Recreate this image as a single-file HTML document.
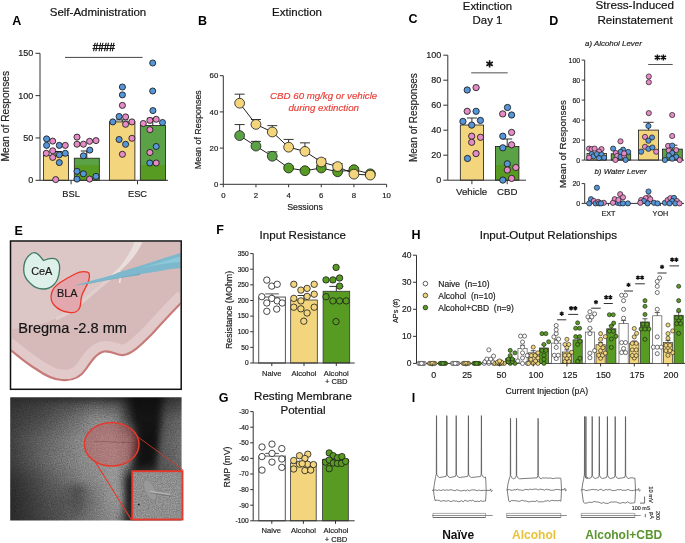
<!DOCTYPE html>
<html><head><meta charset="utf-8"><title>Figure</title>
<style>
html,body{margin:0;padding:0;background:#fff;width:685px;height:543px;overflow:hidden}
svg{display:block;font-family:"Liberation Sans", sans-serif;will-change:transform}
</style></head><body>
<svg width="685" height="543" viewBox="0 0 685 543">
<rect width="685" height="543" fill="#fff"/>
<defs><linearGradient id="gsplit" gradientUnits="userSpaceOnUse" x1="0" y1="0" x2="0" y2="543"><stop offset="0" stop-color="#5BA247"/><stop offset="0.3030" stop-color="#5BA247"/><stop offset="0.3030" stop-color="#589B22"/><stop offset="1" stop-color="#589B22"/></linearGradient></defs>
<text x="12.3" y="25" font-size="12.5" text-anchor="start" font-weight="bold" font-style="normal" fill="#000">A</text>
<text x="98" y="16" font-size="11.5" text-anchor="middle" font-weight="normal" font-style="normal" fill="#111" stroke="#111" stroke-width="0.18">Self-Administration</text>
<rect x="43.5" y="155.3" width="25" height="25.0" fill="#F2D57D" stroke="#1a1a1a" stroke-width="0.8"/>
<rect x="74.3" y="158.2" width="25" height="22.100000000000023" fill="url(#gsplit)" stroke="#1a1a1a" stroke-width="0.8"/>
<rect x="109.5" y="121.9" width="25.4" height="58.400000000000006" fill="#F2D57D" stroke="#1a1a1a" stroke-width="0.8"/>
<rect x="140.3" y="125.5" width="25.1" height="54.80000000000001" fill="url(#gsplit)" stroke="#1a1a1a" stroke-width="0.8"/>
<line x1="55.9" y1="155.3" x2="55.9" y2="151.5" stroke="#222" stroke-width="1"/>
<line x1="49.9" y1="151.5" x2="61.9" y2="151.5" stroke="#222" stroke-width="1"/>
<line x1="86.8" y1="158.2" x2="86.8" y2="151.0" stroke="#222" stroke-width="1"/>
<line x1="80.8" y1="151.0" x2="92.8" y2="151.0" stroke="#222" stroke-width="1"/>
<line x1="122.2" y1="121.9" x2="122.2" y2="119.9" stroke="#222" stroke-width="1"/>
<line x1="116.2" y1="119.9" x2="128.2" y2="119.9" stroke="#222" stroke-width="1"/>
<line x1="152.8" y1="125.5" x2="152.8" y2="118.3" stroke="#222" stroke-width="1"/>
<line x1="146.8" y1="118.3" x2="158.8" y2="118.3" stroke="#222" stroke-width="1"/>
<line x1="40" y1="53.3" x2="40" y2="180.3" stroke="#333" stroke-width="1"/>
<line x1="35.5" y1="53.3" x2="40" y2="53.3" stroke="#333" stroke-width="1"/>
<text x="33.3" y="56.449999999999996" font-size="9.0" text-anchor="end" font-weight="normal" font-style="normal" fill="#222" stroke="#222" stroke-width="0.18">150</text>
<line x1="35.5" y1="95.63333333333333" x2="40" y2="95.63333333333333" stroke="#333" stroke-width="1"/>
<text x="33.3" y="98.78333333333333" font-size="9.0" text-anchor="end" font-weight="normal" font-style="normal" fill="#222" stroke="#222" stroke-width="0.18">100</text>
<line x1="35.5" y1="137.96666666666667" x2="40" y2="137.96666666666667" stroke="#333" stroke-width="1"/>
<text x="33.3" y="141.11666666666667" font-size="9.0" text-anchor="end" font-weight="normal" font-style="normal" fill="#222" stroke="#222" stroke-width="0.18">50</text>
<line x1="35.5" y1="180.3" x2="40" y2="180.3" stroke="#333" stroke-width="1"/>
<text x="33.3" y="183.45000000000002" font-size="9.0" text-anchor="end" font-weight="normal" font-style="normal" fill="#222" stroke="#222" stroke-width="0.18">0</text>
<line x1="40" y1="180.3" x2="168" y2="180.3" stroke="#333" stroke-width="1"/>
<line x1="71.1" y1="180.3" x2="71.1" y2="184.3" stroke="#333" stroke-width="1"/>
<line x1="137.5" y1="180.3" x2="137.5" y2="184.3" stroke="#333" stroke-width="1"/>
<text x="71.1" y="196.5" font-size="9.3" text-anchor="middle" font-weight="normal" font-style="normal" fill="#222" stroke="#222" stroke-width="0.18">BSL</text>
<text x="137.5" y="196.5" font-size="9.3" text-anchor="middle" font-weight="normal" font-style="normal" fill="#222" stroke="#222" stroke-width="0.18">ESC</text>
<text x="9.3" y="116.2" font-size="10.2" text-anchor="middle" font-weight="normal" font-style="normal" fill="#222" stroke="#222" stroke-width="0.18" transform="rotate(-90 9.3 116.2)">Mean of Responses</text>
<line x1="65" y1="57.4" x2="142.6" y2="57.4" stroke="#444" stroke-width="1"/>
<text x="103.8" y="51.3" font-size="10" text-anchor="middle" font-weight="normal" font-style="normal" fill="#111" stroke="#111" stroke-width="0.18" style="stroke-width:0.45px">####</text>
<circle cx="46.6" cy="138.9" r="3.05" fill="#5595D8" stroke="#1a1a1a" stroke-width="0.85"/>
<circle cx="52.7" cy="141.1" r="3.05" fill="#E68BC6" stroke="#1a1a1a" stroke-width="0.85"/>
<circle cx="46.6" cy="145.4" r="3.05" fill="#5595D8" stroke="#1a1a1a" stroke-width="0.85"/>
<circle cx="59.3" cy="145.4" r="3.05" fill="#5595D8" stroke="#1a1a1a" stroke-width="0.85"/>
<circle cx="65.3" cy="145.4" r="3.05" fill="#E68BC6" stroke="#1a1a1a" stroke-width="0.85"/>
<circle cx="46.3" cy="153.3" r="3.05" fill="#E68BC6" stroke="#1a1a1a" stroke-width="0.85"/>
<circle cx="52.7" cy="150.8" r="3.05" fill="#E68BC6" stroke="#1a1a1a" stroke-width="0.85"/>
<circle cx="59.3" cy="154.8" r="3.05" fill="#5595D8" stroke="#1a1a1a" stroke-width="0.85"/>
<circle cx="65.3" cy="153.3" r="3.05" fill="#5595D8" stroke="#1a1a1a" stroke-width="0.85"/>
<circle cx="52.7" cy="157.4" r="3.05" fill="#E68BC6" stroke="#1a1a1a" stroke-width="0.85"/>
<circle cx="59.3" cy="162.6" r="3.05" fill="#5595D8" stroke="#1a1a1a" stroke-width="0.85"/>
<circle cx="55.7" cy="179.6" r="3.05" fill="#E68BC6" stroke="#1a1a1a" stroke-width="0.85"/>
<circle cx="77" cy="137.1" r="3.05" fill="#E68BC6" stroke="#1a1a1a" stroke-width="0.85"/>
<circle cx="77" cy="144.2" r="3.05" fill="#E68BC6" stroke="#1a1a1a" stroke-width="0.85"/>
<circle cx="83.4" cy="144.2" r="3.05" fill="#E68BC6" stroke="#1a1a1a" stroke-width="0.85"/>
<circle cx="89.6" cy="141.3" r="3.05" fill="#E68BC6" stroke="#1a1a1a" stroke-width="0.85"/>
<circle cx="96" cy="140.6" r="3.05" fill="#E68BC6" stroke="#1a1a1a" stroke-width="0.85"/>
<circle cx="89.8" cy="150.1" r="3.05" fill="#5595D8" stroke="#1a1a1a" stroke-width="0.85"/>
<circle cx="83.4" cy="155.8" r="3.05" fill="#5595D8" stroke="#1a1a1a" stroke-width="0.85"/>
<circle cx="77" cy="171.3" r="3.05" fill="#5595D8" stroke="#1a1a1a" stroke-width="0.85"/>
<circle cx="83.4" cy="173.8" r="3.05" fill="#5595D8" stroke="#1a1a1a" stroke-width="0.85"/>
<circle cx="77" cy="179.1" r="3.05" fill="#5595D8" stroke="#1a1a1a" stroke-width="0.85"/>
<circle cx="89.6" cy="179.1" r="3.05" fill="#E68BC6" stroke="#1a1a1a" stroke-width="0.85"/>
<circle cx="96" cy="176.4" r="3.05" fill="#5595D8" stroke="#1a1a1a" stroke-width="0.85"/>
<circle cx="122.4" cy="87" r="3.05" fill="#5595D8" stroke="#1a1a1a" stroke-width="0.85"/>
<circle cx="122.4" cy="94.9" r="3.05" fill="#5595D8" stroke="#1a1a1a" stroke-width="0.85"/>
<circle cx="122.4" cy="105.4" r="3.05" fill="#E68BC6" stroke="#1a1a1a" stroke-width="0.85"/>
<circle cx="119.1" cy="116.5" r="3.05" fill="#5595D8" stroke="#1a1a1a" stroke-width="0.85"/>
<circle cx="125.6" cy="116.9" r="3.05" fill="#E68BC6" stroke="#1a1a1a" stroke-width="0.85"/>
<circle cx="112.8" cy="121.9" r="3.05" fill="#5595D8" stroke="#1a1a1a" stroke-width="0.85"/>
<circle cx="125.6" cy="124.3" r="3.05" fill="#E68BC6" stroke="#1a1a1a" stroke-width="0.85"/>
<circle cx="131.9" cy="121.9" r="3.05" fill="#E68BC6" stroke="#1a1a1a" stroke-width="0.85"/>
<circle cx="119.1" cy="139.5" r="3.05" fill="#5595D8" stroke="#1a1a1a" stroke-width="0.85"/>
<circle cx="131.9" cy="138.3" r="3.05" fill="#E68BC6" stroke="#1a1a1a" stroke-width="0.85"/>
<circle cx="125.6" cy="144.3" r="3.05" fill="#5595D8" stroke="#1a1a1a" stroke-width="0.85"/>
<circle cx="122.4" cy="154.3" r="3.05" fill="#E68BC6" stroke="#1a1a1a" stroke-width="0.85"/>
<circle cx="152.7" cy="63" r="3.05" fill="#5595D8" stroke="#1a1a1a" stroke-width="0.85"/>
<circle cx="152.7" cy="91" r="3.05" fill="#5595D8" stroke="#1a1a1a" stroke-width="0.85"/>
<circle cx="152.9" cy="110.6" r="3.05" fill="#5595D8" stroke="#1a1a1a" stroke-width="0.85"/>
<circle cx="149.9" cy="120.4" r="3.05" fill="#E68BC6" stroke="#1a1a1a" stroke-width="0.85"/>
<circle cx="156.2" cy="119.3" r="3.05" fill="#E68BC6" stroke="#1a1a1a" stroke-width="0.85"/>
<circle cx="143.3" cy="123.5" r="3.05" fill="#E68BC6" stroke="#1a1a1a" stroke-width="0.85"/>
<circle cx="162.5" cy="122.5" r="3.05" fill="#5595D8" stroke="#1a1a1a" stroke-width="0.85"/>
<circle cx="149.9" cy="129.7" r="3.05" fill="#E68BC6" stroke="#1a1a1a" stroke-width="0.85"/>
<circle cx="156.2" cy="146.5" r="3.05" fill="#5595D8" stroke="#1a1a1a" stroke-width="0.85"/>
<circle cx="149.9" cy="152.5" r="3.05" fill="#E68BC6" stroke="#1a1a1a" stroke-width="0.85"/>
<circle cx="149.8" cy="163" r="3.05" fill="#5595D8" stroke="#1a1a1a" stroke-width="0.85"/>
<circle cx="156.2" cy="163" r="3.05" fill="#E68BC6" stroke="#1a1a1a" stroke-width="0.85"/>
<text x="198.1" y="25" font-size="12.5" text-anchor="start" font-weight="bold" font-style="normal" fill="#000">B</text>
<text x="297" y="16" font-size="11.5" text-anchor="middle" font-weight="normal" font-style="normal" fill="#111" stroke="#111" stroke-width="0.18">Extinction</text>
<line x1="223.3" y1="75.7" x2="223.3" y2="184.3" stroke="#333" stroke-width="1"/>
<line x1="219.8" y1="75.7" x2="223.3" y2="75.7" stroke="#333" stroke-width="1"/>
<text x="218.3" y="78.43" font-size="7.8" text-anchor="end" font-weight="normal" font-style="normal" fill="#222" stroke="#222" stroke-width="0.18">60</text>
<line x1="219.8" y1="111.9" x2="223.3" y2="111.9" stroke="#333" stroke-width="1"/>
<text x="218.3" y="114.63000000000001" font-size="7.8" text-anchor="end" font-weight="normal" font-style="normal" fill="#222" stroke="#222" stroke-width="0.18">40</text>
<line x1="219.8" y1="148.10000000000002" x2="223.3" y2="148.10000000000002" stroke="#333" stroke-width="1"/>
<text x="218.3" y="150.83" font-size="7.8" text-anchor="end" font-weight="normal" font-style="normal" fill="#222" stroke="#222" stroke-width="0.18">20</text>
<line x1="219.8" y1="184.3" x2="223.3" y2="184.3" stroke="#333" stroke-width="1"/>
<text x="218.3" y="187.03" font-size="7.8" text-anchor="end" font-weight="normal" font-style="normal" fill="#222" stroke="#222" stroke-width="0.18">0</text>
<line x1="223.3" y1="184.3" x2="386.6" y2="184.3" stroke="#333" stroke-width="1"/>
<line x1="223.3" y1="184.3" x2="223.3" y2="187.3" stroke="#333" stroke-width="1"/>
<text x="223.3" y="197.6" font-size="7.8" text-anchor="middle" font-weight="normal" font-style="normal" fill="#222" stroke="#222" stroke-width="0.18">0</text>
<line x1="255.96" y1="184.3" x2="255.96" y2="187.3" stroke="#333" stroke-width="1"/>
<text x="255.96" y="197.6" font-size="7.8" text-anchor="middle" font-weight="normal" font-style="normal" fill="#222" stroke="#222" stroke-width="0.18">2</text>
<line x1="288.62" y1="184.3" x2="288.62" y2="187.3" stroke="#333" stroke-width="1"/>
<text x="288.62" y="197.6" font-size="7.8" text-anchor="middle" font-weight="normal" font-style="normal" fill="#222" stroke="#222" stroke-width="0.18">4</text>
<line x1="321.28" y1="184.3" x2="321.28" y2="187.3" stroke="#333" stroke-width="1"/>
<text x="321.28" y="197.6" font-size="7.8" text-anchor="middle" font-weight="normal" font-style="normal" fill="#222" stroke="#222" stroke-width="0.18">6</text>
<line x1="353.94" y1="184.3" x2="353.94" y2="187.3" stroke="#333" stroke-width="1"/>
<text x="353.94" y="197.6" font-size="7.8" text-anchor="middle" font-weight="normal" font-style="normal" fill="#222" stroke="#222" stroke-width="0.18">8</text>
<line x1="386.6" y1="184.3" x2="386.6" y2="187.3" stroke="#333" stroke-width="1"/>
<text x="386.6" y="197.6" font-size="7.8" text-anchor="middle" font-weight="normal" font-style="normal" fill="#222" stroke="#222" stroke-width="0.18">10</text>
<text x="305" y="210.4" font-size="8.8" text-anchor="middle" font-weight="normal" font-style="normal" fill="#222" stroke="#222" stroke-width="0.18">Sessions</text>
<text x="201.2" y="129.7" font-size="8.9" text-anchor="middle" font-weight="normal" font-style="normal" fill="#222" stroke="#222" stroke-width="0.18" transform="rotate(-90 201.2 129.7)">Mean of Responses</text>
<text x="323.7" y="99.4" font-size="9.7" text-anchor="middle" font-weight="normal" font-style="italic" fill="#E8413A" stroke="#E8413A" stroke-width="0.18">CBD 60 mg/kg or vehicle</text>
<text x="323.7" y="110.6" font-size="9.7" text-anchor="middle" font-weight="normal" font-style="italic" fill="#E8413A" stroke="#E8413A" stroke-width="0.18">during extinction</text>
<line x1="239.63" y1="135.61100000000002" x2="239.63" y2="124.57000000000001" stroke="#333" stroke-width="1"/>
<line x1="234.63" y1="124.57000000000001" x2="244.63" y2="124.57000000000001" stroke="#333" stroke-width="1"/>
<line x1="255.96" y1="146.109" x2="255.96" y2="141.40300000000002" stroke="#333" stroke-width="1"/>
<line x1="250.96" y1="141.40300000000002" x2="260.96000000000004" y2="141.40300000000002" stroke="#333" stroke-width="1"/>
<line x1="272.29" y1="156.245" x2="272.29" y2="151.901" stroke="#333" stroke-width="1"/>
<line x1="267.29" y1="151.901" x2="277.29" y2="151.901" stroke="#333" stroke-width="1"/>
<line x1="288.62" y1="168.01000000000002" x2="288.62" y2="166.20000000000002" stroke="#333" stroke-width="1"/>
<line x1="283.62" y1="166.20000000000002" x2="293.62" y2="166.20000000000002" stroke="#333" stroke-width="1"/>
<line x1="304.95" y1="170.72500000000002" x2="304.95" y2="168.91500000000002" stroke="#333" stroke-width="1"/>
<line x1="299.95" y1="168.91500000000002" x2="309.95" y2="168.91500000000002" stroke="#333" stroke-width="1"/>
<line x1="321.28" y1="168.01000000000002" x2="321.28" y2="165.29500000000002" stroke="#333" stroke-width="1"/>
<line x1="316.28" y1="165.29500000000002" x2="326.28" y2="165.29500000000002" stroke="#333" stroke-width="1"/>
<line x1="337.61" y1="171.811" x2="337.61" y2="169.82000000000002" stroke="#333" stroke-width="1"/>
<line x1="332.61" y1="169.82000000000002" x2="342.61" y2="169.82000000000002" stroke="#333" stroke-width="1"/>
<line x1="353.94" y1="169.639" x2="353.94" y2="168.01000000000002" stroke="#333" stroke-width="1"/>
<line x1="348.94" y1="168.01000000000002" x2="358.94" y2="168.01000000000002" stroke="#333" stroke-width="1"/>
<line x1="370.27" y1="173.80200000000002" x2="370.27" y2="172.53500000000003" stroke="#333" stroke-width="1"/>
<line x1="365.27" y1="172.53500000000003" x2="375.27" y2="172.53500000000003" stroke="#333" stroke-width="1"/>
<line x1="239.63" y1="103.21200000000002" x2="239.63" y2="94.16200000000002" stroke="#333" stroke-width="1"/>
<line x1="234.63" y1="94.16200000000002" x2="244.63" y2="94.16200000000002" stroke="#333" stroke-width="1"/>
<line x1="255.96" y1="124.38900000000001" x2="255.96" y2="119.50200000000001" stroke="#333" stroke-width="1"/>
<line x1="250.96" y1="119.50200000000001" x2="260.96000000000004" y2="119.50200000000001" stroke="#333" stroke-width="1"/>
<line x1="272.29" y1="131.991" x2="272.29" y2="125.656" stroke="#333" stroke-width="1"/>
<line x1="267.29" y1="125.656" x2="277.29" y2="125.656" stroke="#333" stroke-width="1"/>
<line x1="288.62" y1="147.195" x2="288.62" y2="139.412" stroke="#333" stroke-width="1"/>
<line x1="283.62" y1="139.412" x2="293.62" y2="139.412" stroke="#333" stroke-width="1"/>
<line x1="304.95" y1="151.358" x2="304.95" y2="142.851" stroke="#333" stroke-width="1"/>
<line x1="299.95" y1="142.851" x2="309.95" y2="142.851" stroke="#333" stroke-width="1"/>
<line x1="321.28" y1="162.037" x2="321.28" y2="158.96" stroke="#333" stroke-width="1"/>
<line x1="316.28" y1="158.96" x2="326.28" y2="158.96" stroke="#333" stroke-width="1"/>
<line x1="337.61" y1="166.562" x2="337.61" y2="163.485" stroke="#333" stroke-width="1"/>
<line x1="332.61" y1="163.485" x2="342.61" y2="163.485" stroke="#333" stroke-width="1"/>
<line x1="353.94" y1="174.16400000000002" x2="353.94" y2="171.63000000000002" stroke="#333" stroke-width="1"/>
<line x1="348.94" y1="171.63000000000002" x2="358.94" y2="171.63000000000002" stroke="#333" stroke-width="1"/>
<line x1="370.27" y1="175.06900000000002" x2="370.27" y2="173.44" stroke="#333" stroke-width="1"/>
<line x1="365.27" y1="173.44" x2="375.27" y2="173.44" stroke="#333" stroke-width="1"/>
<polyline points="239.63,135.61 255.96,146.11 272.29,156.25 288.62,168.01 304.95,170.73 321.28,168.01 337.61,171.81 353.94,169.64 370.27,173.80" fill="none" stroke="#222" stroke-width="1"/>
<polyline points="239.63,103.21 255.96,124.39 272.29,131.99 288.62,147.19 304.95,151.36 321.28,162.04 337.61,166.56 353.94,174.16 370.27,175.07" fill="none" stroke="#222" stroke-width="1"/>
<circle cx="239.63" cy="135.61100000000002" r="4.9" fill="url(#gsplit)" stroke="#1a1a1a" stroke-width="0.8"/>
<circle cx="255.96" cy="146.109" r="4.9" fill="url(#gsplit)" stroke="#1a1a1a" stroke-width="0.8"/>
<circle cx="272.29" cy="156.245" r="4.9" fill="url(#gsplit)" stroke="#1a1a1a" stroke-width="0.8"/>
<circle cx="288.62" cy="168.01000000000002" r="4.9" fill="url(#gsplit)" stroke="#1a1a1a" stroke-width="0.8"/>
<circle cx="304.95" cy="170.72500000000002" r="4.9" fill="url(#gsplit)" stroke="#1a1a1a" stroke-width="0.8"/>
<circle cx="321.28" cy="168.01000000000002" r="4.9" fill="url(#gsplit)" stroke="#1a1a1a" stroke-width="0.8"/>
<circle cx="337.61" cy="171.811" r="4.9" fill="url(#gsplit)" stroke="#1a1a1a" stroke-width="0.8"/>
<circle cx="353.94" cy="169.639" r="4.9" fill="url(#gsplit)" stroke="#1a1a1a" stroke-width="0.8"/>
<circle cx="370.27" cy="173.80200000000002" r="4.9" fill="url(#gsplit)" stroke="#1a1a1a" stroke-width="0.8"/>
<circle cx="239.63" cy="103.21200000000002" r="4.9" fill="#F2D57D" stroke="#1a1a1a" stroke-width="0.8"/>
<circle cx="255.96" cy="124.38900000000001" r="4.9" fill="#F2D57D" stroke="#1a1a1a" stroke-width="0.8"/>
<circle cx="272.29" cy="131.991" r="4.9" fill="#F2D57D" stroke="#1a1a1a" stroke-width="0.8"/>
<circle cx="288.62" cy="147.195" r="4.9" fill="#F2D57D" stroke="#1a1a1a" stroke-width="0.8"/>
<circle cx="304.95" cy="151.358" r="4.9" fill="#F2D57D" stroke="#1a1a1a" stroke-width="0.8"/>
<circle cx="321.28" cy="162.037" r="4.9" fill="#F2D57D" stroke="#1a1a1a" stroke-width="0.8"/>
<circle cx="337.61" cy="166.562" r="4.9" fill="#F2D57D" stroke="#1a1a1a" stroke-width="0.8"/>
<circle cx="353.94" cy="174.16400000000002" r="4.9" fill="#F2D57D" stroke="#1a1a1a" stroke-width="0.8"/>
<circle cx="370.27" cy="175.06900000000002" r="4.9" fill="#F2D57D" stroke="#1a1a1a" stroke-width="0.8"/>
<text x="408.5" y="23.4" font-size="12.5" text-anchor="start" font-weight="bold" font-style="normal" fill="#000">C</text>
<text x="487.5" y="9.9" font-size="11.4" text-anchor="middle" font-weight="normal" font-style="normal" fill="#111" stroke="#111" stroke-width="0.18">Extinction</text>
<text x="487.5" y="23.6" font-size="11.4" text-anchor="middle" font-weight="normal" font-style="normal" fill="#111" stroke="#111" stroke-width="0.18">Day 1</text>
<rect x="460.3" y="125" width="23.3" height="55.19999999999999" fill="#F2D57D" stroke="#1a1a1a" stroke-width="0.8"/>
<rect x="495.4" y="146.4" width="23.5" height="33.79999999999998" fill="url(#gsplit)" stroke="#1a1a1a" stroke-width="0.8"/>
<line x1="471.9" y1="125" x2="471.9" y2="118" stroke="#333" stroke-width="1"/>
<line x1="466.9" y1="118" x2="476.9" y2="118" stroke="#333" stroke-width="1"/>
<line x1="507.2" y1="146.4" x2="507.2" y2="139" stroke="#333" stroke-width="1"/>
<line x1="502.2" y1="139" x2="512.2" y2="139" stroke="#333" stroke-width="1"/>
<line x1="447.8" y1="55.2" x2="447.8" y2="180.2" stroke="#333" stroke-width="1"/>
<line x1="443.3" y1="55.20000000000002" x2="447.8" y2="55.20000000000002" stroke="#333" stroke-width="1"/>
<text x="441.3" y="58.350000000000016" font-size="9.0" text-anchor="end" font-weight="normal" font-style="normal" fill="#222" stroke="#222" stroke-width="0.18">100</text>
<line x1="443.3" y1="80.2" x2="447.8" y2="80.2" stroke="#333" stroke-width="1"/>
<text x="441.3" y="83.35000000000001" font-size="9.0" text-anchor="end" font-weight="normal" font-style="normal" fill="#222" stroke="#222" stroke-width="0.18">80</text>
<line x1="443.3" y1="105.2" x2="447.8" y2="105.2" stroke="#333" stroke-width="1"/>
<text x="441.3" y="108.35000000000001" font-size="9.0" text-anchor="end" font-weight="normal" font-style="normal" fill="#222" stroke="#222" stroke-width="0.18">60</text>
<line x1="443.3" y1="130.2" x2="447.8" y2="130.2" stroke="#333" stroke-width="1"/>
<text x="441.3" y="133.35" font-size="9.0" text-anchor="end" font-weight="normal" font-style="normal" fill="#222" stroke="#222" stroke-width="0.18">40</text>
<line x1="443.3" y1="155.2" x2="447.8" y2="155.2" stroke="#333" stroke-width="1"/>
<text x="441.3" y="158.35" font-size="9.0" text-anchor="end" font-weight="normal" font-style="normal" fill="#222" stroke="#222" stroke-width="0.18">20</text>
<line x1="443.3" y1="180.2" x2="447.8" y2="180.2" stroke="#333" stroke-width="1"/>
<text x="441.3" y="183.35" font-size="9.0" text-anchor="end" font-weight="normal" font-style="normal" fill="#222" stroke="#222" stroke-width="0.18">0</text>
<line x1="447.8" y1="180.2" x2="526" y2="180.2" stroke="#333" stroke-width="1"/>
<line x1="471.9" y1="180.2" x2="471.9" y2="184.2" stroke="#333" stroke-width="1"/>
<line x1="507.2" y1="180.2" x2="507.2" y2="184.2" stroke="#333" stroke-width="1"/>
<text x="471.6" y="194.8" font-size="9.7" text-anchor="middle" font-weight="normal" font-style="normal" fill="#222" stroke="#222" stroke-width="0.18">Vehicle</text>
<text x="507.2" y="194.8" font-size="9.7" text-anchor="middle" font-weight="normal" font-style="normal" fill="#222" stroke="#222" stroke-width="0.18">CBD</text>
<text x="417.4" y="117.6" font-size="10.0" text-anchor="middle" font-weight="normal" font-style="normal" fill="#222" stroke="#222" stroke-width="0.18" transform="rotate(-90 417.4 117.6)">Mean of Responses</text>
<line x1="471.2" y1="72.8" x2="507.7" y2="72.8" stroke="#8a8a8a" stroke-width="1.6"/>
<path d="M489.60,67.60L489.60,60.20M486.40,65.75L492.80,62.05M486.40,62.05L492.80,65.75" stroke="#111" stroke-width="1.6" stroke-linecap="butt" fill="none"/>
<circle cx="467.2" cy="90" r="3.15" fill="#5595D8" stroke="#1a1a1a" stroke-width="0.85"/>
<circle cx="476.1" cy="87.6" r="3.15" fill="#E68BC6" stroke="#1a1a1a" stroke-width="0.85"/>
<circle cx="467.2" cy="111.3" r="3.15" fill="#E68BC6" stroke="#1a1a1a" stroke-width="0.85"/>
<circle cx="476.1" cy="111.3" r="3.15" fill="#5595D8" stroke="#1a1a1a" stroke-width="0.85"/>
<circle cx="462.9" cy="121.4" r="3.15" fill="#5595D8" stroke="#1a1a1a" stroke-width="0.85"/>
<circle cx="480.4" cy="120.4" r="3.15" fill="#5595D8" stroke="#1a1a1a" stroke-width="0.85"/>
<circle cx="471.7" cy="125.1" r="3.15" fill="#5595D8" stroke="#1a1a1a" stroke-width="0.85"/>
<circle cx="471.7" cy="136.2" r="3.15" fill="#E68BC6" stroke="#1a1a1a" stroke-width="0.85"/>
<circle cx="480.5" cy="137.3" r="3.15" fill="#E68BC6" stroke="#1a1a1a" stroke-width="0.85"/>
<circle cx="471.7" cy="142.3" r="3.15" fill="#E68BC6" stroke="#1a1a1a" stroke-width="0.85"/>
<circle cx="476" cy="153.6" r="3.15" fill="#E68BC6" stroke="#1a1a1a" stroke-width="0.85"/>
<circle cx="467.5" cy="158.5" r="3.15" fill="#5595D8" stroke="#1a1a1a" stroke-width="0.85"/>
<circle cx="507.5" cy="107.5" r="3.15" fill="#5595D8" stroke="#1a1a1a" stroke-width="0.85"/>
<circle cx="502.7" cy="113.9" r="3.15" fill="#E68BC6" stroke="#1a1a1a" stroke-width="0.85"/>
<circle cx="511.6" cy="115" r="3.15" fill="#5595D8" stroke="#1a1a1a" stroke-width="0.85"/>
<circle cx="502.8" cy="136.2" r="3.15" fill="#5595D8" stroke="#1a1a1a" stroke-width="0.85"/>
<circle cx="511.6" cy="132.4" r="3.15" fill="#E68BC6" stroke="#1a1a1a" stroke-width="0.85"/>
<circle cx="502.8" cy="147.8" r="3.15" fill="#5595D8" stroke="#1a1a1a" stroke-width="0.85"/>
<circle cx="511.6" cy="144.8" r="3.15" fill="#E68BC6" stroke="#1a1a1a" stroke-width="0.85"/>
<circle cx="507.3" cy="163.8" r="3.15" fill="#5595D8" stroke="#1a1a1a" stroke-width="0.85"/>
<circle cx="507.3" cy="170" r="3.15" fill="#E68BC6" stroke="#1a1a1a" stroke-width="0.85"/>
<circle cx="515.8" cy="167.5" r="3.15" fill="#E68BC6" stroke="#1a1a1a" stroke-width="0.85"/>
<circle cx="502.8" cy="180.1" r="3.15" fill="#5595D8" stroke="#1a1a1a" stroke-width="0.85"/>
<circle cx="511.6" cy="178.4" r="3.15" fill="#E68BC6" stroke="#1a1a1a" stroke-width="0.85"/>
<text x="549.2" y="24.5" font-size="12.5" text-anchor="start" font-weight="bold" font-style="normal" fill="#000">D</text>
<text x="634.8" y="9.2" font-size="11.7" text-anchor="middle" font-weight="normal" font-style="normal" fill="#111" stroke="#111" stroke-width="0.18">Stress-Induced</text>
<text x="635.1" y="23.6" font-size="11.7" text-anchor="middle" font-weight="normal" font-style="normal" fill="#111" stroke="#111" stroke-width="0.18">Reinstatement</text>
<text x="613.4" y="46.4" font-size="7.9" text-anchor="middle" font-weight="normal" font-style="italic" fill="#222" stroke="#222" stroke-width="0.18">a) Alcohol Lever</text>
<text x="620.5" y="173.8" font-size="7.9" text-anchor="middle" font-weight="normal" font-style="italic" fill="#222" stroke="#222" stroke-width="0.18">b) Water Lever</text>
<rect x="587" y="153.4" width="19.6" height="6.699999999999989" fill="#F2D57D" stroke="#1a1a1a" stroke-width="0.8"/>
<rect x="611.2" y="153.8" width="19.5" height="6.299999999999983" fill="url(#gsplit)" stroke="#1a1a1a" stroke-width="0.8"/>
<rect x="638.5" y="130.1" width="20" height="30.0" fill="#F2D57D" stroke="#1a1a1a" stroke-width="0.8"/>
<rect x="662.6" y="149.1" width="19.7" height="11.0" fill="url(#gsplit)" stroke="#1a1a1a" stroke-width="0.8"/>
<line x1="648.5" y1="130.1" x2="648.5" y2="122.3" stroke="#333" stroke-width="1"/>
<line x1="643.3" y1="122.3" x2="653.6" y2="122.3" stroke="#333" stroke-width="1"/>
<line x1="672.4" y1="149.1" x2="672.4" y2="145.2" stroke="#333" stroke-width="1"/>
<line x1="667.4" y1="145.2" x2="677.4" y2="145.2" stroke="#333" stroke-width="1"/>
<line x1="584.7" y1="60.2" x2="584.7" y2="160.1" stroke="#333" stroke-width="1"/>
<line x1="581.7" y1="60.099999999999994" x2="584.7" y2="60.099999999999994" stroke="#333" stroke-width="1"/>
<text x="580.2" y="62.55" font-size="7.0" text-anchor="end" font-weight="normal" font-style="normal" fill="#222" stroke="#222" stroke-width="0.18">100</text>
<line x1="581.7" y1="80.1" x2="584.7" y2="80.1" stroke="#333" stroke-width="1"/>
<text x="580.2" y="82.55" font-size="7.0" text-anchor="end" font-weight="normal" font-style="normal" fill="#222" stroke="#222" stroke-width="0.18">80</text>
<line x1="581.7" y1="100.1" x2="584.7" y2="100.1" stroke="#333" stroke-width="1"/>
<text x="580.2" y="102.55" font-size="7.0" text-anchor="end" font-weight="normal" font-style="normal" fill="#222" stroke="#222" stroke-width="0.18">60</text>
<line x1="581.7" y1="120.1" x2="584.7" y2="120.1" stroke="#333" stroke-width="1"/>
<text x="580.2" y="122.55" font-size="7.0" text-anchor="end" font-weight="normal" font-style="normal" fill="#222" stroke="#222" stroke-width="0.18">40</text>
<line x1="581.7" y1="140.1" x2="584.7" y2="140.1" stroke="#333" stroke-width="1"/>
<text x="580.2" y="142.54999999999998" font-size="7.0" text-anchor="end" font-weight="normal" font-style="normal" fill="#222" stroke="#222" stroke-width="0.18">20</text>
<line x1="581.7" y1="160.1" x2="584.7" y2="160.1" stroke="#333" stroke-width="1"/>
<text x="580.2" y="162.54999999999998" font-size="7.0" text-anchor="end" font-weight="normal" font-style="normal" fill="#222" stroke="#222" stroke-width="0.18">0</text>
<line x1="584.7" y1="160.1" x2="684" y2="160.1" stroke="#333" stroke-width="1"/>
<line x1="648.2" y1="64.5" x2="672.7" y2="64.5" stroke="#555" stroke-width="1.0"/>
<path d="M657.40,60.60L657.40,54.40M654.72,59.05L660.08,55.95M654.72,55.95L660.08,59.05" stroke="#111" stroke-width="1.5" stroke-linecap="butt" fill="none"/>
<path d="M663.40,60.60L663.40,54.40M660.72,59.05L666.08,55.95M660.72,55.95L666.08,59.05" stroke="#111" stroke-width="1.5" stroke-linecap="butt" fill="none"/>
<circle cx="589.1" cy="148.6" r="2.6" fill="#E68BC6" stroke="#1a1a1a" stroke-width="0.7"/>
<circle cx="591.7" cy="149.1" r="2.6" fill="#E68BC6" stroke="#1a1a1a" stroke-width="0.7"/>
<circle cx="594.6" cy="148.6" r="2.6" fill="#E68BC6" stroke="#1a1a1a" stroke-width="0.7"/>
<circle cx="601.5" cy="149.1" r="2.6" fill="#E68BC6" stroke="#1a1a1a" stroke-width="0.7"/>
<circle cx="599" cy="151.5" r="2.6" fill="#E68BC6" stroke="#1a1a1a" stroke-width="0.7"/>
<circle cx="591.7" cy="154.1" r="2.6" fill="#5595D8" stroke="#1a1a1a" stroke-width="0.7"/>
<circle cx="593.5" cy="156.3" r="2.6" fill="#5595D8" stroke="#1a1a1a" stroke-width="0.7"/>
<circle cx="596.8" cy="154.1" r="2.6" fill="#5595D8" stroke="#1a1a1a" stroke-width="0.7"/>
<circle cx="601.5" cy="154.5" r="2.6" fill="#5595D8" stroke="#1a1a1a" stroke-width="0.7"/>
<circle cx="599" cy="158.1" r="2.6" fill="#5595D8" stroke="#1a1a1a" stroke-width="0.7"/>
<circle cx="604.1" cy="157.6" r="2.6" fill="#5595D8" stroke="#1a1a1a" stroke-width="0.7"/>
<circle cx="589.1" cy="157.6" r="2.6" fill="#E68BC6" stroke="#1a1a1a" stroke-width="0.7"/>
<circle cx="620.5" cy="141.3" r="2.6" fill="#E68BC6" stroke="#1a1a1a" stroke-width="0.7"/>
<circle cx="613.1" cy="148.6" r="2.6" fill="#5595D8" stroke="#1a1a1a" stroke-width="0.7"/>
<circle cx="623.1" cy="149.7" r="2.6" fill="#5595D8" stroke="#1a1a1a" stroke-width="0.7"/>
<circle cx="628.2" cy="151.9" r="2.6" fill="#5595D8" stroke="#1a1a1a" stroke-width="0.7"/>
<circle cx="620.5" cy="151.9" r="2.6" fill="#5595D8" stroke="#1a1a1a" stroke-width="0.7"/>
<circle cx="615.8" cy="153" r="2.6" fill="#E68BC6" stroke="#1a1a1a" stroke-width="0.7"/>
<circle cx="617.2" cy="155.9" r="2.6" fill="#E68BC6" stroke="#1a1a1a" stroke-width="0.7"/>
<circle cx="620.5" cy="156.9" r="2.6" fill="#5595D8" stroke="#1a1a1a" stroke-width="0.7"/>
<circle cx="624.1" cy="155.9" r="2.6" fill="#E68BC6" stroke="#1a1a1a" stroke-width="0.7"/>
<circle cx="615.4" cy="159.9" r="2.6" fill="#E68BC6" stroke="#1a1a1a" stroke-width="0.7"/>
<circle cx="625.6" cy="159.9" r="2.6" fill="#5595D8" stroke="#1a1a1a" stroke-width="0.7"/>
<circle cx="624.1" cy="153.4" r="2.6" fill="#E68BC6" stroke="#1a1a1a" stroke-width="0.7"/>
<circle cx="648.8" cy="76.5" r="2.6" fill="#E68BC6" stroke="#1a1a1a" stroke-width="0.7"/>
<circle cx="648.8" cy="82.2" r="2.6" fill="#E68BC6" stroke="#1a1a1a" stroke-width="0.7"/>
<circle cx="648.8" cy="113.1" r="2.6" fill="#E68BC6" stroke="#1a1a1a" stroke-width="0.7"/>
<circle cx="648.4" cy="125.9" r="2.6" fill="#5595D8" stroke="#1a1a1a" stroke-width="0.7"/>
<circle cx="645" cy="136.9" r="2.6" fill="#E68BC6" stroke="#1a1a1a" stroke-width="0.7"/>
<circle cx="652" cy="137.5" r="2.6" fill="#5595D8" stroke="#1a1a1a" stroke-width="0.7"/>
<circle cx="648.4" cy="140.7" r="2.6" fill="#5595D8" stroke="#1a1a1a" stroke-width="0.7"/>
<circle cx="645" cy="146.8" r="2.6" fill="#E68BC6" stroke="#1a1a1a" stroke-width="0.7"/>
<circle cx="648.4" cy="148.8" r="2.6" fill="#5595D8" stroke="#1a1a1a" stroke-width="0.7"/>
<circle cx="652.4" cy="147.5" r="2.6" fill="#5595D8" stroke="#1a1a1a" stroke-width="0.7"/>
<circle cx="641.1" cy="151.7" r="2.6" fill="#5595D8" stroke="#1a1a1a" stroke-width="0.7"/>
<circle cx="656.2" cy="151.7" r="2.6" fill="#E68BC6" stroke="#1a1a1a" stroke-width="0.7"/>
<circle cx="672.2" cy="115" r="2.6" fill="#E68BC6" stroke="#1a1a1a" stroke-width="0.7"/>
<circle cx="672.2" cy="136" r="2.6" fill="#E68BC6" stroke="#1a1a1a" stroke-width="0.7"/>
<circle cx="668.1" cy="145.9" r="2.6" fill="#E68BC6" stroke="#1a1a1a" stroke-width="0.7"/>
<circle cx="672.2" cy="145.6" r="2.6" fill="#5595D8" stroke="#1a1a1a" stroke-width="0.7"/>
<circle cx="668.8" cy="150.6" r="2.6" fill="#E68BC6" stroke="#1a1a1a" stroke-width="0.7"/>
<circle cx="676.2" cy="150.1" r="2.6" fill="#E68BC6" stroke="#1a1a1a" stroke-width="0.7"/>
<circle cx="672.2" cy="153" r="2.6" fill="#5595D8" stroke="#1a1a1a" stroke-width="0.7"/>
<circle cx="668.8" cy="155.5" r="2.6" fill="#5595D8" stroke="#1a1a1a" stroke-width="0.7"/>
<circle cx="676.2" cy="156.8" r="2.6" fill="#5595D8" stroke="#1a1a1a" stroke-width="0.7"/>
<circle cx="664.9" cy="160" r="2.6" fill="#5595D8" stroke="#1a1a1a" stroke-width="0.7"/>
<circle cx="672.2" cy="158.7" r="2.6" fill="#5595D8" stroke="#1a1a1a" stroke-width="0.7"/>
<circle cx="679.7" cy="160" r="2.6" fill="#E68BC6" stroke="#1a1a1a" stroke-width="0.7"/>
<line x1="584.7" y1="183.6" x2="584.7" y2="203.4" stroke="#333" stroke-width="1"/>
<line x1="581.7" y1="183.6" x2="584.7" y2="183.6" stroke="#333" stroke-width="1"/>
<text x="580.2" y="186.04999999999998" font-size="7.0" text-anchor="end" font-weight="normal" font-style="normal" fill="#222" stroke="#222" stroke-width="0.18">20</text>
<line x1="581.7" y1="203.4" x2="584.7" y2="203.4" stroke="#333" stroke-width="1"/>
<text x="580.2" y="205.85" font-size="7.0" text-anchor="end" font-weight="normal" font-style="normal" fill="#222" stroke="#222" stroke-width="0.18">0</text>
<line x1="584.7" y1="203.4" x2="684" y2="203.4" stroke="#333" stroke-width="1"/>
<line x1="608.4" y1="203.4" x2="608.4" y2="205.9" stroke="#333" stroke-width="1"/>
<line x1="660.4" y1="203.4" x2="660.4" y2="205.9" stroke="#333" stroke-width="1"/>
<text x="608.4" y="215.6" font-size="7.2" text-anchor="middle" font-weight="normal" font-style="normal" fill="#222" stroke="#222" stroke-width="0.18">EXT</text>
<text x="660.4" y="215.6" font-size="7.2" text-anchor="middle" font-weight="normal" font-style="normal" fill="#222" stroke="#222" stroke-width="0.18">YOH</text>
<circle cx="596.9" cy="187.7" r="2.6" fill="#5595D8" stroke="#1a1a1a" stroke-width="0.7"/>
<circle cx="591" cy="199.2" r="2.6" fill="#5595D8" stroke="#1a1a1a" stroke-width="0.7"/>
<circle cx="589.2" cy="203.4" r="2.6" fill="#5595D8" stroke="#1a1a1a" stroke-width="0.7"/>
<circle cx="593.8" cy="201" r="2.6" fill="#E68BC6" stroke="#1a1a1a" stroke-width="0.7"/>
<circle cx="595.6" cy="203.4" r="2.6" fill="#5595D8" stroke="#1a1a1a" stroke-width="0.7"/>
<circle cx="598.3" cy="201.9" r="2.6" fill="#E68BC6" stroke="#1a1a1a" stroke-width="0.7"/>
<circle cx="599.2" cy="203.4" r="2.6" fill="#5595D8" stroke="#1a1a1a" stroke-width="0.7"/>
<circle cx="603.8" cy="202.8" r="2.6" fill="#E68BC6" stroke="#1a1a1a" stroke-width="0.7"/>
<circle cx="601" cy="203.4" r="2.6" fill="#5595D8" stroke="#1a1a1a" stroke-width="0.7"/>
<circle cx="620.2" cy="194.2" r="2.6" fill="#E68BC6" stroke="#1a1a1a" stroke-width="0.7"/>
<circle cx="623" cy="197.3" r="2.6" fill="#E68BC6" stroke="#1a1a1a" stroke-width="0.7"/>
<circle cx="614.7" cy="199.2" r="2.6" fill="#E68BC6" stroke="#1a1a1a" stroke-width="0.7"/>
<circle cx="617.5" cy="202.8" r="2.6" fill="#5595D8" stroke="#1a1a1a" stroke-width="0.7"/>
<circle cx="612.9" cy="202.8" r="2.6" fill="#E68BC6" stroke="#1a1a1a" stroke-width="0.7"/>
<circle cx="620.2" cy="203.4" r="2.6" fill="#5595D8" stroke="#1a1a1a" stroke-width="0.7"/>
<circle cx="623" cy="203.4" r="2.6" fill="#5595D8" stroke="#1a1a1a" stroke-width="0.7"/>
<circle cx="627.9" cy="203.4" r="2.6" fill="#5595D8" stroke="#1a1a1a" stroke-width="0.7"/>
<circle cx="618.4" cy="200" r="2.6" fill="#E68BC6" stroke="#1a1a1a" stroke-width="0.7"/>
<circle cx="648.5" cy="191.5" r="2.6" fill="#5595D8" stroke="#1a1a1a" stroke-width="0.7"/>
<circle cx="648.5" cy="197.3" r="2.6" fill="#E68BC6" stroke="#1a1a1a" stroke-width="0.7"/>
<circle cx="645.8" cy="198.2" r="2.6" fill="#E68BC6" stroke="#1a1a1a" stroke-width="0.7"/>
<circle cx="641.2" cy="200" r="2.6" fill="#E68BC6" stroke="#1a1a1a" stroke-width="0.7"/>
<circle cx="643.9" cy="201" r="2.6" fill="#5595D8" stroke="#1a1a1a" stroke-width="0.7"/>
<circle cx="650.3" cy="199.2" r="2.6" fill="#E68BC6" stroke="#1a1a1a" stroke-width="0.7"/>
<circle cx="647.6" cy="203.4" r="2.6" fill="#5595D8" stroke="#1a1a1a" stroke-width="0.7"/>
<circle cx="654" cy="202.8" r="2.6" fill="#5595D8" stroke="#1a1a1a" stroke-width="0.7"/>
<circle cx="640.3" cy="202.8" r="2.6" fill="#E68BC6" stroke="#1a1a1a" stroke-width="0.7"/>
<circle cx="657.5" cy="203.4" r="2.6" fill="#5595D8" stroke="#1a1a1a" stroke-width="0.7"/>
<circle cx="664.9" cy="202.8" r="2.6" fill="#5595D8" stroke="#1a1a1a" stroke-width="0.7"/>
<circle cx="667.7" cy="200" r="2.6" fill="#E68BC6" stroke="#1a1a1a" stroke-width="0.7"/>
<circle cx="670.4" cy="198.2" r="2.6" fill="#E68BC6" stroke="#1a1a1a" stroke-width="0.7"/>
<circle cx="674" cy="197.9" r="2.6" fill="#5595D8" stroke="#1a1a1a" stroke-width="0.7"/>
<circle cx="672.2" cy="201" r="2.6" fill="#5595D8" stroke="#1a1a1a" stroke-width="0.7"/>
<circle cx="676.8" cy="201" r="2.6" fill="#E68BC6" stroke="#1a1a1a" stroke-width="0.7"/>
<circle cx="675.3" cy="203.4" r="2.6" fill="#5595D8" stroke="#1a1a1a" stroke-width="0.7"/>
<circle cx="679.5" cy="203.4" r="2.6" fill="#E68BC6" stroke="#1a1a1a" stroke-width="0.7"/>
<circle cx="669.5" cy="203.4" r="2.6" fill="#5595D8" stroke="#1a1a1a" stroke-width="0.7"/>
<text x="565.5" y="144" font-size="9.9" text-anchor="middle" font-weight="normal" font-style="normal" fill="#222" stroke="#222" stroke-width="0.18" transform="rotate(-90 565.5 144)">Mean of Responses</text>
<text x="14.5" y="234.5" font-size="12.5" text-anchor="start" font-weight="bold" font-style="normal" fill="#000">E</text>
<defs>
<clipPath id="eclip"><rect x="11.2" y="241.7" width="169.3" height="146.9"/></clipPath>
<clipPath id="mclip"><rect x="10.2" y="397.3" width="171.4" height="123.2"/></clipPath>
<linearGradient id="pip" x1="0" y1="0" x2="0" y2="1"><stop offset="0" stop-color="#94CCDD"/><stop offset="1" stop-color="#5C9FBC"/></linearGradient>
<filter id="noise" x="0" y="0" width="100%" height="100%" color-interpolation-filters="sRGB"><feTurbulence type="fractalNoise" baseFrequency="0.85" numOctaves="3" seed="5"/><feColorMatrix type="matrix" values="1.3 0 0 0 -0.15  1.3 0 0 0 -0.15  1.3 0 0 0 -0.15  0 0 0 0 1"/></filter>
<filter id="blur3"><feGaussianBlur stdDeviation="6"/></filter>
<filter id="blur2" x="-5%" y="-5%" width="110%" height="110%" color-interpolation-filters="sRGB"><feGaussianBlur stdDeviation="2.2"/></filter>
</defs>
<rect x="10.5" y="241" width="170.7" height="148.3" fill="#fff"/>
<g clip-path="url(#eclip)">
<path d="M5,346 C14,352 24,362 36,369 C46,376 54,380 62,380 C72,381 80,378 86,369 C92,360 97,353 104,351.5 C110,350.5 115,354 121,355 C130,356 140,346 152,334 C162,323 172,312 185,299 L185,235 L5,235 Z" fill="#D6B9B9"/>
<path d="M5,235 L143,235 L143,241 C137,255 127,266 113,276.5 C101,286 91,294 81,303 C69,313 52,322 33,326 C22,328 12,329.5 5,330 Z" fill="#DCC6C6"/>
<path d="M113,276 C101,286 91,294 81,303 C72,310.5 64,315.5 56,319" fill="none" stroke="#E1CFCF" stroke-width="3.2"/>
<path d="M135.2,240 L143.2,240 C139.5,250 131,262 121,270 C117,273.5 113,275.5 109.5,276.5 C113,273 117,270 120,266.5 C126,259 131.5,251 135.2,240 Z" fill="#EADEDD"/>
<path d="M119.6,270.5 C120.6,275 120.6,279 119.6,283" stroke="#F0E6E6" stroke-width="1.5" fill="none"/>
<path d="M5,346 C14,352 24,362 36,369 C46,376 54,380 62,380 C72,381 80,378 86,369 C92,360 97,353 104,351.5 C110,350.5 115,354 121,355 C130,356 140,346 152,334 C162,323 172,312 185,299" fill="none" stroke="#E2CACA" stroke-width="21"/>
<path d="M185,240 L185,235 Z" />
<path d="M5,346 C14,352 24,362 36,369 C46,376 54,380 62,380 C72,381 80,378 86,369 C92,360 97,353 104,351.5 C110,350.5 115,354 121,355 C130,356 140,346 152,334 C162,323 172,312 185,299 L185,395 L5,395 Z" fill="#fff"/>
<path d="M5,346 C14,352 24,362 36,369 C46,376 54,380 62,380 C72,381 80,378 86,369 C92,360 97,353 104,351.5 C110,350.5 115,354 121,355 C130,356 140,346 152,334 C162,323 172,312 185,299" fill="none" stroke="#C77B78" stroke-width="2.2"/>
<path d="M185,292 C170,306 158,318 146,330" fill="none" stroke="#DDC3C3" stroke-width="2" opacity="0.0"/>
<path d="M34.2,252.6 C38.5,252.5 41,258 43.6,260.5 C47,259 52,257 56.1,259.2 C60,262 59.8,268 59.4,271 C58.8,277 57.5,281 54,284.5 C50.5,288 47,289.2 43,289 C38,288.8 34,287 31,284 C26,280 23.5,275 23.7,269.2 C23.8,263 26.5,257.5 29.5,255 C31,253.6 32.5,252.7 34.2,252.6 Z" fill="#DDF1EA" stroke="#3F7A64" stroke-width="1.3"/>
<text x="41.8" y="275" font-size="10.9" text-anchor="middle" font-weight="normal" font-style="normal" fill="#1a1a1a" stroke="#1a1a1a" stroke-width="0.18">CeA</text>
<path d="M87.6,272.1 C90,273 89.6,277 88.8,280 C87.5,285 84,290 82,295 C80.5,299 81,304 80,307 C78.5,311.5 74,313 70.5,312.6 C64,312 57.5,309 54,305 C51,301.5 50.6,297 51.6,293 C53,287.5 57,284.5 61,282 C66,279 70,276.5 75,274 C79,272 84,271.2 87.6,272.1 Z" fill="#E3A8AD" stroke="#EE3528" stroke-width="1.3"/>
<text x="67.2" y="297.3" font-size="10.9" text-anchor="middle" font-weight="normal" font-style="normal" fill="#1a1a1a" stroke="#1a1a1a" stroke-width="0.18">BLA</text>
<path d="M75.7,285.1 L90,281 C102,278.2 112,275.5 120,272.1 C130,269 140,266 147.1,263.6 C154,261.2 160,259.5 165.2,257.7 C171,255.8 176,254.5 182,252.8 L182,268.2 C176,268.3 171,269 165.2,269.9 C158,271.2 152,272.2 147.1,273.1 C138,274.8 128,276.3 120,277.8 C110,279.5 100,281.5 90,283.3 L75.7,285.6 Z" fill="#7DB8CC"/>
<path d="M140,268.5 C152,265 165,261 182,256 L182,262 C170,262.5 155,265 140,268.5 Z" fill="#8ECCDC" opacity="0.8"/>
<path d="M76,285.4 L92,282.6 C110,279.5 125,276.5 140,273.5 L140,275 C125,277 108,280 92,283.2 Z" fill="#65A6BD" opacity="0.8"/>
</g>
<rect x="10.5" y="241" width="170.7" height="148.3" fill="none" stroke="#111" stroke-width="1.5"/>
<text x="18.3" y="332.8" font-size="14.6" text-anchor="start" font-weight="normal" font-style="normal" fill="#151515" stroke="#151515" stroke-width="0.18">Bregma -2.8 mm</text>
<g clip-path="url(#mclip)">
<g filter="url(#blur2)"><rect x="6" y="393" width="4.6" height="4.6" fill="#2a2a2a"/><rect x="10" y="393" width="4.6" height="4.6" fill="#2a2a2a"/><rect x="14" y="393" width="4.6" height="4.6" fill="#2a2a2a"/><rect x="18" y="393" width="4.6" height="4.6" fill="#2a2a2a"/><rect x="22" y="393" width="4.6" height="4.6" fill="#2a2a2a"/><rect x="26" y="393" width="4.6" height="4.6" fill="#2a2a2a"/><rect x="30" y="393" width="4.6" height="4.6" fill="#2a2a2a"/><rect x="34" y="393" width="4.6" height="4.6" fill="#2a2a2a"/><rect x="38" y="393" width="4.6" height="4.6" fill="#2a2a2a"/><rect x="42" y="393" width="4.6" height="4.6" fill="#2a2a2a"/><rect x="46" y="393" width="4.6" height="4.6" fill="#292929"/><rect x="50" y="393" width="4.6" height="4.6" fill="#292929"/><rect x="54" y="393" width="4.6" height="4.6" fill="#292929"/><rect x="58" y="393" width="4.6" height="4.6" fill="#292929"/><rect x="62" y="393" width="4.6" height="4.6" fill="#282828"/><rect x="66" y="393" width="4.6" height="4.6" fill="#282828"/><rect x="70" y="393" width="4.6" height="4.6" fill="#282828"/><rect x="74" y="393" width="4.6" height="4.6" fill="#282828"/><rect x="78" y="393" width="4.6" height="4.6" fill="#292929"/><rect x="82" y="393" width="4.6" height="4.6" fill="#292929"/><rect x="86" y="393" width="4.6" height="4.6" fill="#292929"/><rect x="90" y="393" width="4.6" height="4.6" fill="#292929"/><rect x="94" y="393" width="4.6" height="4.6" fill="#2a2a2a"/><rect x="98" y="393" width="4.6" height="4.6" fill="#2a2a2a"/><rect x="102" y="393" width="4.6" height="4.6" fill="#282828"/><rect x="106" y="393" width="4.6" height="4.6" fill="#272727"/><rect x="110" y="393" width="4.6" height="4.6" fill="#252525"/><rect x="114" y="393" width="4.6" height="4.6" fill="#232323"/><rect x="118" y="393" width="4.6" height="4.6" fill="#222222"/><rect x="122" y="393" width="4.6" height="4.6" fill="#202020"/><rect x="126" y="393" width="4.6" height="4.6" fill="#181818"/><rect x="130" y="393" width="4.6" height="4.6" fill="#101010"/><rect x="134" y="393" width="4.6" height="4.6" fill="#101010"/><rect x="138" y="393" width="4.6" height="4.6" fill="#101010"/><rect x="142" y="393" width="4.6" height="4.6" fill="#101010"/><rect x="146" y="393" width="4.6" height="4.6" fill="#101010"/><rect x="150" y="393" width="4.6" height="4.6" fill="#101010"/><rect x="154" y="393" width="4.6" height="4.6" fill="#101010"/><rect x="158" y="393" width="4.6" height="4.6" fill="#101010"/><rect x="162" y="393" width="4.6" height="4.6" fill="#1e1e1e"/><rect x="166" y="393" width="4.6" height="4.6" fill="#2d2d2d"/><rect x="170" y="393" width="4.6" height="4.6" fill="#303030"/><rect x="174" y="393" width="4.6" height="4.6" fill="#333333"/><rect x="178" y="393" width="4.6" height="4.6" fill="#363636"/><rect x="182" y="393" width="4.6" height="4.6" fill="#373737"/><rect x="6" y="397" width="4.6" height="4.6" fill="#2c2c2c"/><rect x="10" y="397" width="4.6" height="4.6" fill="#2c2c2c"/><rect x="14" y="397" width="4.6" height="4.6" fill="#2d2d2d"/><rect x="18" y="397" width="4.6" height="4.6" fill="#2d2d2d"/><rect x="22" y="397" width="4.6" height="4.6" fill="#2d2d2d"/><rect x="26" y="397" width="4.6" height="4.6" fill="#2e2e2e"/><rect x="30" y="397" width="4.6" height="4.6" fill="#2e2e2e"/><rect x="34" y="397" width="4.6" height="4.6" fill="#2f2f2f"/><rect x="38" y="397" width="4.6" height="4.6" fill="#2f2f2f"/><rect x="42" y="397" width="4.6" height="4.6" fill="#2f2f2f"/><rect x="46" y="397" width="4.6" height="4.6" fill="#303030"/><rect x="50" y="397" width="4.6" height="4.6" fill="#303030"/><rect x="54" y="397" width="4.6" height="4.6" fill="#303030"/><rect x="58" y="397" width="4.6" height="4.6" fill="#313131"/><rect x="62" y="397" width="4.6" height="4.6" fill="#313131"/><rect x="66" y="397" width="4.6" height="4.6" fill="#313131"/><rect x="70" y="397" width="4.6" height="4.6" fill="#323232"/><rect x="74" y="397" width="4.6" height="4.6" fill="#333333"/><rect x="78" y="397" width="4.6" height="4.6" fill="#343434"/><rect x="82" y="397" width="4.6" height="4.6" fill="#353535"/><rect x="86" y="397" width="4.6" height="4.6" fill="#353535"/><rect x="90" y="397" width="4.6" height="4.6" fill="#363636"/><rect x="94" y="397" width="4.6" height="4.6" fill="#373737"/><rect x="98" y="397" width="4.6" height="4.6" fill="#373737"/><rect x="102" y="397" width="4.6" height="4.6" fill="#353535"/><rect x="106" y="397" width="4.6" height="4.6" fill="#333333"/><rect x="110" y="397" width="4.6" height="4.6" fill="#323232"/><rect x="114" y="397" width="4.6" height="4.6" fill="#303030"/><rect x="118" y="397" width="4.6" height="4.6" fill="#2c2c2c"/><rect x="122" y="397" width="4.6" height="4.6" fill="#262626"/><rect x="126" y="397" width="4.6" height="4.6" fill="#1c1c1c"/><rect x="130" y="397" width="4.6" height="4.6" fill="#121212"/><rect x="134" y="397" width="4.6" height="4.6" fill="#101010"/><rect x="138" y="397" width="4.6" height="4.6" fill="#101010"/><rect x="142" y="397" width="4.6" height="4.6" fill="#101010"/><rect x="146" y="397" width="4.6" height="4.6" fill="#101010"/><rect x="150" y="397" width="4.6" height="4.6" fill="#101010"/><rect x="154" y="397" width="4.6" height="4.6" fill="#101010"/><rect x="158" y="397" width="4.6" height="4.6" fill="#131313"/><rect x="162" y="397" width="4.6" height="4.6" fill="#232323"/><rect x="166" y="397" width="4.6" height="4.6" fill="#313131"/><rect x="170" y="397" width="4.6" height="4.6" fill="#343434"/><rect x="174" y="397" width="4.6" height="4.6" fill="#373737"/><rect x="178" y="397" width="4.6" height="4.6" fill="#3a3a3a"/><rect x="182" y="397" width="4.6" height="4.6" fill="#3b3b3b"/><rect x="6" y="401" width="4.6" height="4.6" fill="#303030"/><rect x="10" y="401" width="4.6" height="4.6" fill="#313131"/><rect x="14" y="401" width="4.6" height="4.6" fill="#323232"/><rect x="18" y="401" width="4.6" height="4.6" fill="#333333"/><rect x="22" y="401" width="4.6" height="4.6" fill="#343434"/><rect x="26" y="401" width="4.6" height="4.6" fill="#353535"/><rect x="30" y="401" width="4.6" height="4.6" fill="#373737"/><rect x="34" y="401" width="4.6" height="4.6" fill="#383838"/><rect x="38" y="401" width="4.6" height="4.6" fill="#393939"/><rect x="42" y="401" width="4.6" height="4.6" fill="#3b3b3b"/><rect x="46" y="401" width="4.6" height="4.6" fill="#3c3c3c"/><rect x="50" y="401" width="4.6" height="4.6" fill="#3e3e3e"/><rect x="54" y="401" width="4.6" height="4.6" fill="#3f3f3f"/><rect x="58" y="401" width="4.6" height="4.6" fill="#414141"/><rect x="62" y="401" width="4.6" height="4.6" fill="#424242"/><rect x="66" y="401" width="4.6" height="4.6" fill="#444444"/><rect x="70" y="401" width="4.6" height="4.6" fill="#464646"/><rect x="74" y="401" width="4.6" height="4.6" fill="#484848"/><rect x="78" y="401" width="4.6" height="4.6" fill="#4a4a4a"/><rect x="82" y="401" width="4.6" height="4.6" fill="#4c4c4c"/><rect x="86" y="401" width="4.6" height="4.6" fill="#4e4e4e"/><rect x="90" y="401" width="4.6" height="4.6" fill="#505050"/><rect x="94" y="401" width="4.6" height="4.6" fill="#515151"/><rect x="98" y="401" width="4.6" height="4.6" fill="#505050"/><rect x="102" y="401" width="4.6" height="4.6" fill="#4e4e4e"/><rect x="106" y="401" width="4.6" height="4.6" fill="#4d4d4d"/><rect x="110" y="401" width="4.6" height="4.6" fill="#4b4b4b"/><rect x="114" y="401" width="4.6" height="4.6" fill="#494949"/><rect x="118" y="401" width="4.6" height="4.6" fill="#414141"/><rect x="122" y="401" width="4.6" height="4.6" fill="#343434"/><rect x="126" y="401" width="4.6" height="4.6" fill="#242424"/><rect x="130" y="401" width="4.6" height="4.6" fill="#161616"/><rect x="134" y="401" width="4.6" height="4.6" fill="#101010"/><rect x="138" y="401" width="4.6" height="4.6" fill="#101010"/><rect x="142" y="401" width="4.6" height="4.6" fill="#101010"/><rect x="146" y="401" width="4.6" height="4.6" fill="#101010"/><rect x="150" y="401" width="4.6" height="4.6" fill="#101010"/><rect x="154" y="401" width="4.6" height="4.6" fill="#101010"/><rect x="158" y="401" width="4.6" height="4.6" fill="#181818"/><rect x="162" y="401" width="4.6" height="4.6" fill="#2b2b2b"/><rect x="166" y="401" width="4.6" height="4.6" fill="#383838"/><rect x="170" y="401" width="4.6" height="4.6" fill="#3b3b3b"/><rect x="174" y="401" width="4.6" height="4.6" fill="#3f3f3f"/><rect x="178" y="401" width="4.6" height="4.6" fill="#424242"/><rect x="182" y="401" width="4.6" height="4.6" fill="#444444"/><rect x="6" y="405" width="4.6" height="4.6" fill="#333333"/><rect x="10" y="405" width="4.6" height="4.6" fill="#343434"/><rect x="14" y="405" width="4.6" height="4.6" fill="#353535"/><rect x="18" y="405" width="4.6" height="4.6" fill="#373737"/><rect x="22" y="405" width="4.6" height="4.6" fill="#393939"/><rect x="26" y="405" width="4.6" height="4.6" fill="#3a3a3a"/><rect x="30" y="405" width="4.6" height="4.6" fill="#3c3c3c"/><rect x="34" y="405" width="4.6" height="4.6" fill="#3e3e3e"/><rect x="38" y="405" width="4.6" height="4.6" fill="#404040"/><rect x="42" y="405" width="4.6" height="4.6" fill="#424242"/><rect x="46" y="405" width="4.6" height="4.6" fill="#444444"/><rect x="50" y="405" width="4.6" height="4.6" fill="#474747"/><rect x="54" y="405" width="4.6" height="4.6" fill="#494949"/><rect x="58" y="405" width="4.6" height="4.6" fill="#4b4b4b"/><rect x="62" y="405" width="4.6" height="4.6" fill="#4e4e4e"/><rect x="66" y="405" width="4.6" height="4.6" fill="#505050"/><rect x="70" y="405" width="4.6" height="4.6" fill="#535353"/><rect x="74" y="405" width="4.6" height="4.6" fill="#565656"/><rect x="78" y="405" width="4.6" height="4.6" fill="#595959"/><rect x="82" y="405" width="4.6" height="4.6" fill="#5c5c5c"/><rect x="86" y="405" width="4.6" height="4.6" fill="#606060"/><rect x="90" y="405" width="4.6" height="4.6" fill="#636363"/><rect x="94" y="405" width="4.6" height="4.6" fill="#656565"/><rect x="98" y="405" width="4.6" height="4.6" fill="#636363"/><rect x="102" y="405" width="4.6" height="4.6" fill="#616161"/><rect x="106" y="405" width="4.6" height="4.6" fill="#606060"/><rect x="110" y="405" width="4.6" height="4.6" fill="#5e5e5e"/><rect x="114" y="405" width="4.6" height="4.6" fill="#5c5c5c"/><rect x="118" y="405" width="4.6" height="4.6" fill="#505050"/><rect x="122" y="405" width="4.6" height="4.6" fill="#3e3e3e"/><rect x="126" y="405" width="4.6" height="4.6" fill="#2c2c2c"/><rect x="130" y="405" width="4.6" height="4.6" fill="#1a1a1a"/><rect x="134" y="405" width="4.6" height="4.6" fill="#111111"/><rect x="138" y="405" width="4.6" height="4.6" fill="#111111"/><rect x="142" y="405" width="4.6" height="4.6" fill="#111111"/><rect x="146" y="405" width="4.6" height="4.6" fill="#111111"/><rect x="150" y="405" width="4.6" height="4.6" fill="#111111"/><rect x="154" y="405" width="4.6" height="4.6" fill="#111111"/><rect x="158" y="405" width="4.6" height="4.6" fill="#1c1c1c"/><rect x="162" y="405" width="4.6" height="4.6" fill="#333333"/><rect x="166" y="405" width="4.6" height="4.6" fill="#3f3f3f"/><rect x="170" y="405" width="4.6" height="4.6" fill="#434343"/><rect x="174" y="405" width="4.6" height="4.6" fill="#474747"/><rect x="178" y="405" width="4.6" height="4.6" fill="#4a4a4a"/><rect x="182" y="405" width="4.6" height="4.6" fill="#4c4c4c"/><rect x="6" y="409" width="4.6" height="4.6" fill="#353535"/><rect x="10" y="409" width="4.6" height="4.6" fill="#363636"/><rect x="14" y="409" width="4.6" height="4.6" fill="#383838"/><rect x="18" y="409" width="4.6" height="4.6" fill="#393939"/><rect x="22" y="409" width="4.6" height="4.6" fill="#3b3b3b"/><rect x="26" y="409" width="4.6" height="4.6" fill="#3d3d3d"/><rect x="30" y="409" width="4.6" height="4.6" fill="#3f3f3f"/><rect x="34" y="409" width="4.6" height="4.6" fill="#414141"/><rect x="38" y="409" width="4.6" height="4.6" fill="#434343"/><rect x="42" y="409" width="4.6" height="4.6" fill="#454545"/><rect x="46" y="409" width="4.6" height="4.6" fill="#484848"/><rect x="50" y="409" width="4.6" height="4.6" fill="#4b4b4b"/><rect x="54" y="409" width="4.6" height="4.6" fill="#4e4e4e"/><rect x="58" y="409" width="4.6" height="4.6" fill="#515151"/><rect x="62" y="409" width="4.6" height="4.6" fill="#545454"/><rect x="66" y="409" width="4.6" height="4.6" fill="#575757"/><rect x="70" y="409" width="4.6" height="4.6" fill="#5a5a5a"/><rect x="74" y="409" width="4.6" height="4.6" fill="#5e5e5e"/><rect x="78" y="409" width="4.6" height="4.6" fill="#626262"/><rect x="82" y="409" width="4.6" height="4.6" fill="#666666"/><rect x="86" y="409" width="4.6" height="4.6" fill="#6a6a6a"/><rect x="90" y="409" width="4.6" height="4.6" fill="#6e6e6e"/><rect x="94" y="409" width="4.6" height="4.6" fill="#717171"/><rect x="98" y="409" width="4.6" height="4.6" fill="#6f6f6f"/><rect x="102" y="409" width="4.6" height="4.6" fill="#6e6e6e"/><rect x="106" y="409" width="4.6" height="4.6" fill="#6c6c6c"/><rect x="110" y="409" width="4.6" height="4.6" fill="#6b6b6b"/><rect x="114" y="409" width="4.6" height="4.6" fill="#676767"/><rect x="118" y="409" width="4.6" height="4.6" fill="#595959"/><rect x="122" y="409" width="4.6" height="4.6" fill="#464646"/><rect x="126" y="409" width="4.6" height="4.6" fill="#333333"/><rect x="130" y="409" width="4.6" height="4.6" fill="#1f1f1f"/><rect x="134" y="409" width="4.6" height="4.6" fill="#121212"/><rect x="138" y="409" width="4.6" height="4.6" fill="#121212"/><rect x="142" y="409" width="4.6" height="4.6" fill="#121212"/><rect x="146" y="409" width="4.6" height="4.6" fill="#121212"/><rect x="150" y="409" width="4.6" height="4.6" fill="#121212"/><rect x="154" y="409" width="4.6" height="4.6" fill="#121212"/><rect x="158" y="409" width="4.6" height="4.6" fill="#1f1f1f"/><rect x="162" y="409" width="4.6" height="4.6" fill="#3b3b3b"/><rect x="166" y="409" width="4.6" height="4.6" fill="#474747"/><rect x="170" y="409" width="4.6" height="4.6" fill="#4b4b4b"/><rect x="174" y="409" width="4.6" height="4.6" fill="#4f4f4f"/><rect x="178" y="409" width="4.6" height="4.6" fill="#535353"/><rect x="182" y="409" width="4.6" height="4.6" fill="#555555"/><rect x="6" y="413" width="4.6" height="4.6" fill="#373737"/><rect x="10" y="413" width="4.6" height="4.6" fill="#383838"/><rect x="14" y="413" width="4.6" height="4.6" fill="#3a3a3a"/><rect x="18" y="413" width="4.6" height="4.6" fill="#3c3c3c"/><rect x="22" y="413" width="4.6" height="4.6" fill="#3e3e3e"/><rect x="26" y="413" width="4.6" height="4.6" fill="#404040"/><rect x="30" y="413" width="4.6" height="4.6" fill="#424242"/><rect x="34" y="413" width="4.6" height="4.6" fill="#444444"/><rect x="38" y="413" width="4.6" height="4.6" fill="#464646"/><rect x="42" y="413" width="4.6" height="4.6" fill="#494949"/><rect x="46" y="413" width="4.6" height="4.6" fill="#4c4c4c"/><rect x="50" y="413" width="4.6" height="4.6" fill="#505050"/><rect x="54" y="413" width="4.6" height="4.6" fill="#535353"/><rect x="58" y="413" width="4.6" height="4.6" fill="#575757"/><rect x="62" y="413" width="4.6" height="4.6" fill="#5a5a5a"/><rect x="66" y="413" width="4.6" height="4.6" fill="#5d5d5d"/><rect x="70" y="413" width="4.6" height="4.6" fill="#616161"/><rect x="74" y="413" width="4.6" height="4.6" fill="#666666"/><rect x="78" y="413" width="4.6" height="4.6" fill="#6b6b6b"/><rect x="82" y="413" width="4.6" height="4.6" fill="#707070"/><rect x="86" y="413" width="4.6" height="4.6" fill="#757575"/><rect x="90" y="413" width="4.6" height="4.6" fill="#7a7a7a"/><rect x="94" y="413" width="4.6" height="4.6" fill="#7d7d7d"/><rect x="98" y="413" width="4.6" height="4.6" fill="#7c7c7c"/><rect x="102" y="413" width="4.6" height="4.6" fill="#7a7a7a"/><rect x="106" y="413" width="4.6" height="4.6" fill="#797979"/><rect x="110" y="413" width="4.6" height="4.6" fill="#777777"/><rect x="114" y="413" width="4.6" height="4.6" fill="#737373"/><rect x="118" y="413" width="4.6" height="4.6" fill="#616161"/><rect x="122" y="413" width="4.6" height="4.6" fill="#4e4e4e"/><rect x="126" y="413" width="4.6" height="4.6" fill="#3a3a3a"/><rect x="130" y="413" width="4.6" height="4.6" fill="#232323"/><rect x="134" y="413" width="4.6" height="4.6" fill="#131313"/><rect x="138" y="413" width="4.6" height="4.6" fill="#131313"/><rect x="142" y="413" width="4.6" height="4.6" fill="#131313"/><rect x="146" y="413" width="4.6" height="4.6" fill="#131313"/><rect x="150" y="413" width="4.6" height="4.6" fill="#131313"/><rect x="154" y="413" width="4.6" height="4.6" fill="#131313"/><rect x="158" y="413" width="4.6" height="4.6" fill="#232323"/><rect x="162" y="413" width="4.6" height="4.6" fill="#424242"/><rect x="166" y="413" width="4.6" height="4.6" fill="#4e4e4e"/><rect x="170" y="413" width="4.6" height="4.6" fill="#525252"/><rect x="174" y="413" width="4.6" height="4.6" fill="#575757"/><rect x="178" y="413" width="4.6" height="4.6" fill="#5b5b5b"/><rect x="182" y="413" width="4.6" height="4.6" fill="#5e5e5e"/><rect x="6" y="417" width="4.6" height="4.6" fill="#383838"/><rect x="10" y="417" width="4.6" height="4.6" fill="#393939"/><rect x="14" y="417" width="4.6" height="4.6" fill="#3c3c3c"/><rect x="18" y="417" width="4.6" height="4.6" fill="#3e3e3e"/><rect x="22" y="417" width="4.6" height="4.6" fill="#404040"/><rect x="26" y="417" width="4.6" height="4.6" fill="#424242"/><rect x="30" y="417" width="4.6" height="4.6" fill="#454545"/><rect x="34" y="417" width="4.6" height="4.6" fill="#474747"/><rect x="38" y="417" width="4.6" height="4.6" fill="#494949"/><rect x="42" y="417" width="4.6" height="4.6" fill="#4d4d4d"/><rect x="46" y="417" width="4.6" height="4.6" fill="#515151"/><rect x="50" y="417" width="4.6" height="4.6" fill="#545454"/><rect x="54" y="417" width="4.6" height="4.6" fill="#585858"/><rect x="58" y="417" width="4.6" height="4.6" fill="#5c5c5c"/><rect x="62" y="417" width="4.6" height="4.6" fill="#606060"/><rect x="66" y="417" width="4.6" height="4.6" fill="#636363"/><rect x="70" y="417" width="4.6" height="4.6" fill="#686868"/><rect x="74" y="417" width="4.6" height="4.6" fill="#6d6d6d"/><rect x="78" y="417" width="4.6" height="4.6" fill="#737373"/><rect x="82" y="417" width="4.6" height="4.6" fill="#787878"/><rect x="86" y="417" width="4.6" height="4.6" fill="#7e7e7e"/><rect x="90" y="417" width="4.6" height="4.6" fill="#838383"/><rect x="94" y="417" width="4.6" height="4.6" fill="#878787"/><rect x="98" y="417" width="4.6" height="4.6" fill="#868686"/><rect x="102" y="417" width="4.6" height="4.6" fill="#858585"/><rect x="106" y="417" width="4.6" height="4.6" fill="#838383"/><rect x="110" y="417" width="4.6" height="4.6" fill="#828282"/><rect x="114" y="417" width="4.6" height="4.6" fill="#7c7c7c"/><rect x="118" y="417" width="4.6" height="4.6" fill="#696969"/><rect x="122" y="417" width="4.6" height="4.6" fill="#575757"/><rect x="126" y="417" width="4.6" height="4.6" fill="#434343"/><rect x="130" y="417" width="4.6" height="4.6" fill="#2a2a2a"/><rect x="134" y="417" width="4.6" height="4.6" fill="#161616"/><rect x="138" y="417" width="4.6" height="4.6" fill="#141414"/><rect x="142" y="417" width="4.6" height="4.6" fill="#141414"/><rect x="146" y="417" width="4.6" height="4.6" fill="#141414"/><rect x="150" y="417" width="4.6" height="4.6" fill="#141414"/><rect x="154" y="417" width="4.6" height="4.6" fill="#141414"/><rect x="158" y="417" width="4.6" height="4.6" fill="#262626"/><rect x="162" y="417" width="4.6" height="4.6" fill="#484848"/><rect x="166" y="417" width="4.6" height="4.6" fill="#545454"/><rect x="170" y="417" width="4.6" height="4.6" fill="#595959"/><rect x="174" y="417" width="4.6" height="4.6" fill="#5d5d5d"/><rect x="178" y="417" width="4.6" height="4.6" fill="#626262"/><rect x="182" y="417" width="4.6" height="4.6" fill="#656565"/><rect x="6" y="421" width="4.6" height="4.6" fill="#393939"/><rect x="10" y="421" width="4.6" height="4.6" fill="#3b3b3b"/><rect x="14" y="421" width="4.6" height="4.6" fill="#3d3d3d"/><rect x="18" y="421" width="4.6" height="4.6" fill="#404040"/><rect x="22" y="421" width="4.6" height="4.6" fill="#434343"/><rect x="26" y="421" width="4.6" height="4.6" fill="#454545"/><rect x="30" y="421" width="4.6" height="4.6" fill="#484848"/><rect x="34" y="421" width="4.6" height="4.6" fill="#4b4b4b"/><rect x="38" y="421" width="4.6" height="4.6" fill="#4d4d4d"/><rect x="42" y="421" width="4.6" height="4.6" fill="#515151"/><rect x="46" y="421" width="4.6" height="4.6" fill="#555555"/><rect x="50" y="421" width="4.6" height="4.6" fill="#595959"/><rect x="54" y="421" width="4.6" height="4.6" fill="#5c5c5c"/><rect x="58" y="421" width="4.6" height="4.6" fill="#606060"/><rect x="62" y="421" width="4.6" height="4.6" fill="#646464"/><rect x="66" y="421" width="4.6" height="4.6" fill="#686868"/><rect x="70" y="421" width="4.6" height="4.6" fill="#6c6c6c"/><rect x="74" y="421" width="4.6" height="4.6" fill="#727272"/><rect x="78" y="421" width="4.6" height="4.6" fill="#777777"/><rect x="82" y="421" width="4.6" height="4.6" fill="#7c7c7c"/><rect x="86" y="421" width="4.6" height="4.6" fill="#818181"/><rect x="90" y="421" width="4.6" height="4.6" fill="#868686"/><rect x="94" y="421" width="4.6" height="4.6" fill="#898989"/><rect x="98" y="421" width="4.6" height="4.6" fill="#888888"/><rect x="102" y="421" width="4.6" height="4.6" fill="#888888"/><rect x="106" y="421" width="4.6" height="4.6" fill="#878787"/><rect x="110" y="421" width="4.6" height="4.6" fill="#868686"/><rect x="114" y="421" width="4.6" height="4.6" fill="#808080"/><rect x="118" y="421" width="4.6" height="4.6" fill="#707070"/><rect x="122" y="421" width="4.6" height="4.6" fill="#606060"/><rect x="126" y="421" width="4.6" height="4.6" fill="#4f4f4f"/><rect x="130" y="421" width="4.6" height="4.6" fill="#363636"/><rect x="134" y="421" width="4.6" height="4.6" fill="#1c1c1c"/><rect x="138" y="421" width="4.6" height="4.6" fill="#151515"/><rect x="142" y="421" width="4.6" height="4.6" fill="#131313"/><rect x="146" y="421" width="4.6" height="4.6" fill="#131313"/><rect x="150" y="421" width="4.6" height="4.6" fill="#131313"/><rect x="154" y="421" width="4.6" height="4.6" fill="#131313"/><rect x="158" y="421" width="4.6" height="4.6" fill="#2b2b2b"/><rect x="162" y="421" width="4.6" height="4.6" fill="#4c4c4c"/><rect x="166" y="421" width="4.6" height="4.6" fill="#565656"/><rect x="170" y="421" width="4.6" height="4.6" fill="#5b5b5b"/><rect x="174" y="421" width="4.6" height="4.6" fill="#606060"/><rect x="178" y="421" width="4.6" height="4.6" fill="#646464"/><rect x="182" y="421" width="4.6" height="4.6" fill="#676767"/><rect x="6" y="425" width="4.6" height="4.6" fill="#3a3a3a"/><rect x="10" y="425" width="4.6" height="4.6" fill="#3c3c3c"/><rect x="14" y="425" width="4.6" height="4.6" fill="#3f3f3f"/><rect x="18" y="425" width="4.6" height="4.6" fill="#424242"/><rect x="22" y="425" width="4.6" height="4.6" fill="#454545"/><rect x="26" y="425" width="4.6" height="4.6" fill="#494949"/><rect x="30" y="425" width="4.6" height="4.6" fill="#4c4c4c"/><rect x="34" y="425" width="4.6" height="4.6" fill="#4f4f4f"/><rect x="38" y="425" width="4.6" height="4.6" fill="#515151"/><rect x="42" y="425" width="4.6" height="4.6" fill="#555555"/><rect x="46" y="425" width="4.6" height="4.6" fill="#595959"/><rect x="50" y="425" width="4.6" height="4.6" fill="#5d5d5d"/><rect x="54" y="425" width="4.6" height="4.6" fill="#616161"/><rect x="58" y="425" width="4.6" height="4.6" fill="#656565"/><rect x="62" y="425" width="4.6" height="4.6" fill="#686868"/><rect x="66" y="425" width="4.6" height="4.6" fill="#6c6c6c"/><rect x="70" y="425" width="4.6" height="4.6" fill="#717171"/><rect x="74" y="425" width="4.6" height="4.6" fill="#767676"/><rect x="78" y="425" width="4.6" height="4.6" fill="#7b7b7b"/><rect x="82" y="425" width="4.6" height="4.6" fill="#808080"/><rect x="86" y="425" width="4.6" height="4.6" fill="#848484"/><rect x="90" y="425" width="4.6" height="4.6" fill="#888888"/><rect x="94" y="425" width="4.6" height="4.6" fill="#8b8b8b"/><rect x="98" y="425" width="4.6" height="4.6" fill="#8b8b8b"/><rect x="102" y="425" width="4.6" height="4.6" fill="#8b8b8b"/><rect x="106" y="425" width="4.6" height="4.6" fill="#8b8b8b"/><rect x="110" y="425" width="4.6" height="4.6" fill="#898989"/><rect x="114" y="425" width="4.6" height="4.6" fill="#848484"/><rect x="118" y="425" width="4.6" height="4.6" fill="#777777"/><rect x="122" y="425" width="4.6" height="4.6" fill="#696969"/><rect x="126" y="425" width="4.6" height="4.6" fill="#5b5b5b"/><rect x="130" y="425" width="4.6" height="4.6" fill="#414141"/><rect x="134" y="425" width="4.6" height="4.6" fill="#232323"/><rect x="138" y="425" width="4.6" height="4.6" fill="#161616"/><rect x="142" y="425" width="4.6" height="4.6" fill="#121212"/><rect x="146" y="425" width="4.6" height="4.6" fill="#121212"/><rect x="150" y="425" width="4.6" height="4.6" fill="#121212"/><rect x="154" y="425" width="4.6" height="4.6" fill="#121212"/><rect x="158" y="425" width="4.6" height="4.6" fill="#303030"/><rect x="162" y="425" width="4.6" height="4.6" fill="#4f4f4f"/><rect x="166" y="425" width="4.6" height="4.6" fill="#585858"/><rect x="170" y="425" width="4.6" height="4.6" fill="#5d5d5d"/><rect x="174" y="425" width="4.6" height="4.6" fill="#626262"/><rect x="178" y="425" width="4.6" height="4.6" fill="#676767"/><rect x="182" y="425" width="4.6" height="4.6" fill="#696969"/><rect x="6" y="429" width="4.6" height="4.6" fill="#3c3c3c"/><rect x="10" y="429" width="4.6" height="4.6" fill="#3d3d3d"/><rect x="14" y="429" width="4.6" height="4.6" fill="#414141"/><rect x="18" y="429" width="4.6" height="4.6" fill="#454545"/><rect x="22" y="429" width="4.6" height="4.6" fill="#484848"/><rect x="26" y="429" width="4.6" height="4.6" fill="#4c4c4c"/><rect x="30" y="429" width="4.6" height="4.6" fill="#4f4f4f"/><rect x="34" y="429" width="4.6" height="4.6" fill="#525252"/><rect x="38" y="429" width="4.6" height="4.6" fill="#565656"/><rect x="42" y="429" width="4.6" height="4.6" fill="#595959"/><rect x="46" y="429" width="4.6" height="4.6" fill="#5d5d5d"/><rect x="50" y="429" width="4.6" height="4.6" fill="#616161"/><rect x="54" y="429" width="4.6" height="4.6" fill="#656565"/><rect x="58" y="429" width="4.6" height="4.6" fill="#696969"/><rect x="62" y="429" width="4.6" height="4.6" fill="#6d6d6d"/><rect x="66" y="429" width="4.6" height="4.6" fill="#717171"/><rect x="70" y="429" width="4.6" height="4.6" fill="#757575"/><rect x="74" y="429" width="4.6" height="4.6" fill="#7a7a7a"/><rect x="78" y="429" width="4.6" height="4.6" fill="#7e7e7e"/><rect x="82" y="429" width="4.6" height="4.6" fill="#838383"/><rect x="86" y="429" width="4.6" height="4.6" fill="#878787"/><rect x="90" y="429" width="4.6" height="4.6" fill="#8a8a8a"/><rect x="94" y="429" width="4.6" height="4.6" fill="#8d8d8d"/><rect x="98" y="429" width="4.6" height="4.6" fill="#8d8d8d"/><rect x="102" y="429" width="4.6" height="4.6" fill="#8e8e8e"/><rect x="106" y="429" width="4.6" height="4.6" fill="#8f8f8f"/><rect x="110" y="429" width="4.6" height="4.6" fill="#8d8d8d"/><rect x="114" y="429" width="4.6" height="4.6" fill="#888888"/><rect x="118" y="429" width="4.6" height="4.6" fill="#7d7d7d"/><rect x="122" y="429" width="4.6" height="4.6" fill="#727272"/><rect x="126" y="429" width="4.6" height="4.6" fill="#676767"/><rect x="130" y="429" width="4.6" height="4.6" fill="#4d4d4d"/><rect x="134" y="429" width="4.6" height="4.6" fill="#292929"/><rect x="138" y="429" width="4.6" height="4.6" fill="#161616"/><rect x="142" y="429" width="4.6" height="4.6" fill="#121212"/><rect x="146" y="429" width="4.6" height="4.6" fill="#121212"/><rect x="150" y="429" width="4.6" height="4.6" fill="#121212"/><rect x="154" y="429" width="4.6" height="4.6" fill="#121212"/><rect x="158" y="429" width="4.6" height="4.6" fill="#353535"/><rect x="162" y="429" width="4.6" height="4.6" fill="#535353"/><rect x="166" y="429" width="4.6" height="4.6" fill="#5a5a5a"/><rect x="170" y="429" width="4.6" height="4.6" fill="#5f5f5f"/><rect x="174" y="429" width="4.6" height="4.6" fill="#646464"/><rect x="178" y="429" width="4.6" height="4.6" fill="#696969"/><rect x="182" y="429" width="4.6" height="4.6" fill="#6b6b6b"/><rect x="6" y="433" width="4.6" height="4.6" fill="#3d3d3d"/><rect x="10" y="433" width="4.6" height="4.6" fill="#3f3f3f"/><rect x="14" y="433" width="4.6" height="4.6" fill="#434343"/><rect x="18" y="433" width="4.6" height="4.6" fill="#474747"/><rect x="22" y="433" width="4.6" height="4.6" fill="#4b4b4b"/><rect x="26" y="433" width="4.6" height="4.6" fill="#4f4f4f"/><rect x="30" y="433" width="4.6" height="4.6" fill="#535353"/><rect x="34" y="433" width="4.6" height="4.6" fill="#565656"/><rect x="38" y="433" width="4.6" height="4.6" fill="#5a5a5a"/><rect x="42" y="433" width="4.6" height="4.6" fill="#5e5e5e"/><rect x="46" y="433" width="4.6" height="4.6" fill="#626262"/><rect x="50" y="433" width="4.6" height="4.6" fill="#666666"/><rect x="54" y="433" width="4.6" height="4.6" fill="#6a6a6a"/><rect x="58" y="433" width="4.6" height="4.6" fill="#6d6d6d"/><rect x="62" y="433" width="4.6" height="4.6" fill="#717171"/><rect x="66" y="433" width="4.6" height="4.6" fill="#757575"/><rect x="70" y="433" width="4.6" height="4.6" fill="#7a7a7a"/><rect x="74" y="433" width="4.6" height="4.6" fill="#7e7e7e"/><rect x="78" y="433" width="4.6" height="4.6" fill="#828282"/><rect x="82" y="433" width="4.6" height="4.6" fill="#878787"/><rect x="86" y="433" width="4.6" height="4.6" fill="#8a8a8a"/><rect x="90" y="433" width="4.6" height="4.6" fill="#8d8d8d"/><rect x="94" y="433" width="4.6" height="4.6" fill="#8f8f8f"/><rect x="98" y="433" width="4.6" height="4.6" fill="#909090"/><rect x="102" y="433" width="4.6" height="4.6" fill="#919191"/><rect x="106" y="433" width="4.6" height="4.6" fill="#929292"/><rect x="110" y="433" width="4.6" height="4.6" fill="#919191"/><rect x="114" y="433" width="4.6" height="4.6" fill="#8c8c8c"/><rect x="118" y="433" width="4.6" height="4.6" fill="#848484"/><rect x="122" y="433" width="4.6" height="4.6" fill="#7c7c7c"/><rect x="126" y="433" width="4.6" height="4.6" fill="#737373"/><rect x="130" y="433" width="4.6" height="4.6" fill="#595959"/><rect x="134" y="433" width="4.6" height="4.6" fill="#303030"/><rect x="138" y="433" width="4.6" height="4.6" fill="#171717"/><rect x="142" y="433" width="4.6" height="4.6" fill="#111111"/><rect x="146" y="433" width="4.6" height="4.6" fill="#111111"/><rect x="150" y="433" width="4.6" height="4.6" fill="#111111"/><rect x="154" y="433" width="4.6" height="4.6" fill="#111111"/><rect x="158" y="433" width="4.6" height="4.6" fill="#3a3a3a"/><rect x="162" y="433" width="4.6" height="4.6" fill="#565656"/><rect x="166" y="433" width="4.6" height="4.6" fill="#5d5d5d"/><rect x="170" y="433" width="4.6" height="4.6" fill="#616161"/><rect x="174" y="433" width="4.6" height="4.6" fill="#666666"/><rect x="178" y="433" width="4.6" height="4.6" fill="#6b6b6b"/><rect x="182" y="433" width="4.6" height="4.6" fill="#6d6d6d"/><rect x="6" y="437" width="4.6" height="4.6" fill="#3e3e3e"/><rect x="10" y="437" width="4.6" height="4.6" fill="#404040"/><rect x="14" y="437" width="4.6" height="4.6" fill="#444444"/><rect x="18" y="437" width="4.6" height="4.6" fill="#494949"/><rect x="22" y="437" width="4.6" height="4.6" fill="#4d4d4d"/><rect x="26" y="437" width="4.6" height="4.6" fill="#525252"/><rect x="30" y="437" width="4.6" height="4.6" fill="#565656"/><rect x="34" y="437" width="4.6" height="4.6" fill="#5a5a5a"/><rect x="38" y="437" width="4.6" height="4.6" fill="#5e5e5e"/><rect x="42" y="437" width="4.6" height="4.6" fill="#626262"/><rect x="46" y="437" width="4.6" height="4.6" fill="#666666"/><rect x="50" y="437" width="4.6" height="4.6" fill="#6a6a6a"/><rect x="54" y="437" width="4.6" height="4.6" fill="#6e6e6e"/><rect x="58" y="437" width="4.6" height="4.6" fill="#727272"/><rect x="62" y="437" width="4.6" height="4.6" fill="#767676"/><rect x="66" y="437" width="4.6" height="4.6" fill="#7a7a7a"/><rect x="70" y="437" width="4.6" height="4.6" fill="#7e7e7e"/><rect x="74" y="437" width="4.6" height="4.6" fill="#828282"/><rect x="78" y="437" width="4.6" height="4.6" fill="#868686"/><rect x="82" y="437" width="4.6" height="4.6" fill="#8a8a8a"/><rect x="86" y="437" width="4.6" height="4.6" fill="#8d8d8d"/><rect x="90" y="437" width="4.6" height="4.6" fill="#8f8f8f"/><rect x="94" y="437" width="4.6" height="4.6" fill="#919191"/><rect x="98" y="437" width="4.6" height="4.6" fill="#939393"/><rect x="102" y="437" width="4.6" height="4.6" fill="#949494"/><rect x="106" y="437" width="4.6" height="4.6" fill="#969696"/><rect x="110" y="437" width="4.6" height="4.6" fill="#959595"/><rect x="114" y="437" width="4.6" height="4.6" fill="#909090"/><rect x="118" y="437" width="4.6" height="4.6" fill="#8a8a8a"/><rect x="122" y="437" width="4.6" height="4.6" fill="#858585"/><rect x="126" y="437" width="4.6" height="4.6" fill="#7f7f7f"/><rect x="130" y="437" width="4.6" height="4.6" fill="#656565"/><rect x="134" y="437" width="4.6" height="4.6" fill="#363636"/><rect x="138" y="437" width="4.6" height="4.6" fill="#181818"/><rect x="142" y="437" width="4.6" height="4.6" fill="#101010"/><rect x="146" y="437" width="4.6" height="4.6" fill="#101010"/><rect x="150" y="437" width="4.6" height="4.6" fill="#101010"/><rect x="154" y="437" width="4.6" height="4.6" fill="#101010"/><rect x="158" y="437" width="4.6" height="4.6" fill="#3f3f3f"/><rect x="162" y="437" width="4.6" height="4.6" fill="#5a5a5a"/><rect x="166" y="437" width="4.6" height="4.6" fill="#5f5f5f"/><rect x="170" y="437" width="4.6" height="4.6" fill="#636363"/><rect x="174" y="437" width="4.6" height="4.6" fill="#686868"/><rect x="178" y="437" width="4.6" height="4.6" fill="#6d6d6d"/><rect x="182" y="437" width="4.6" height="4.6" fill="#6f6f6f"/><rect x="6" y="441" width="4.6" height="4.6" fill="#3d3d3d"/><rect x="10" y="441" width="4.6" height="4.6" fill="#404040"/><rect x="14" y="441" width="4.6" height="4.6" fill="#444444"/><rect x="18" y="441" width="4.6" height="4.6" fill="#494949"/><rect x="22" y="441" width="4.6" height="4.6" fill="#4e4e4e"/><rect x="26" y="441" width="4.6" height="4.6" fill="#525252"/><rect x="30" y="441" width="4.6" height="4.6" fill="#575757"/><rect x="34" y="441" width="4.6" height="4.6" fill="#5b5b5b"/><rect x="38" y="441" width="4.6" height="4.6" fill="#5f5f5f"/><rect x="42" y="441" width="4.6" height="4.6" fill="#636363"/><rect x="46" y="441" width="4.6" height="4.6" fill="#676767"/><rect x="50" y="441" width="4.6" height="4.6" fill="#6b6b6b"/><rect x="54" y="441" width="4.6" height="4.6" fill="#6f6f6f"/><rect x="58" y="441" width="4.6" height="4.6" fill="#737373"/><rect x="62" y="441" width="4.6" height="4.6" fill="#777777"/><rect x="66" y="441" width="4.6" height="4.6" fill="#7b7b7b"/><rect x="70" y="441" width="4.6" height="4.6" fill="#7f7f7f"/><rect x="74" y="441" width="4.6" height="4.6" fill="#838383"/><rect x="78" y="441" width="4.6" height="4.6" fill="#878787"/><rect x="82" y="441" width="4.6" height="4.6" fill="#8b8b8b"/><rect x="86" y="441" width="4.6" height="4.6" fill="#8d8d8d"/><rect x="90" y="441" width="4.6" height="4.6" fill="#8f8f8f"/><rect x="94" y="441" width="4.6" height="4.6" fill="#919191"/><rect x="98" y="441" width="4.6" height="4.6" fill="#939393"/><rect x="102" y="441" width="4.6" height="4.6" fill="#959595"/><rect x="106" y="441" width="4.6" height="4.6" fill="#979797"/><rect x="110" y="441" width="4.6" height="4.6" fill="#969696"/><rect x="114" y="441" width="4.6" height="4.6" fill="#929292"/><rect x="118" y="441" width="4.6" height="4.6" fill="#8d8d8d"/><rect x="122" y="441" width="4.6" height="4.6" fill="#888888"/><rect x="126" y="441" width="4.6" height="4.6" fill="#838383"/><rect x="130" y="441" width="4.6" height="4.6" fill="#646464"/><rect x="134" y="441" width="4.6" height="4.6" fill="#353535"/><rect x="138" y="441" width="4.6" height="4.6" fill="#171717"/><rect x="142" y="441" width="4.6" height="4.6" fill="#101010"/><rect x="146" y="441" width="4.6" height="4.6" fill="#101010"/><rect x="150" y="441" width="4.6" height="4.6" fill="#101010"/><rect x="154" y="441" width="4.6" height="4.6" fill="#131313"/><rect x="158" y="441" width="4.6" height="4.6" fill="#424242"/><rect x="162" y="441" width="4.6" height="4.6" fill="#5a5a5a"/><rect x="166" y="441" width="4.6" height="4.6" fill="#5f5f5f"/><rect x="170" y="441" width="4.6" height="4.6" fill="#636363"/><rect x="174" y="441" width="4.6" height="4.6" fill="#686868"/><rect x="178" y="441" width="4.6" height="4.6" fill="#6d6d6d"/><rect x="182" y="441" width="4.6" height="4.6" fill="#6f6f6f"/><rect x="6" y="445" width="4.6" height="4.6" fill="#3d3d3d"/><rect x="10" y="445" width="4.6" height="4.6" fill="#3f3f3f"/><rect x="14" y="445" width="4.6" height="4.6" fill="#444444"/><rect x="18" y="445" width="4.6" height="4.6" fill="#484848"/><rect x="22" y="445" width="4.6" height="4.6" fill="#4d4d4d"/><rect x="26" y="445" width="4.6" height="4.6" fill="#525252"/><rect x="30" y="445" width="4.6" height="4.6" fill="#565656"/><rect x="34" y="445" width="4.6" height="4.6" fill="#5b5b5b"/><rect x="38" y="445" width="4.6" height="4.6" fill="#5f5f5f"/><rect x="42" y="445" width="4.6" height="4.6" fill="#636363"/><rect x="46" y="445" width="4.6" height="4.6" fill="#686868"/><rect x="50" y="445" width="4.6" height="4.6" fill="#6c6c6c"/><rect x="54" y="445" width="4.6" height="4.6" fill="#707070"/><rect x="58" y="445" width="4.6" height="4.6" fill="#747474"/><rect x="62" y="445" width="4.6" height="4.6" fill="#777777"/><rect x="66" y="445" width="4.6" height="4.6" fill="#7b7b7b"/><rect x="70" y="445" width="4.6" height="4.6" fill="#7f7f7f"/><rect x="74" y="445" width="4.6" height="4.6" fill="#838383"/><rect x="78" y="445" width="4.6" height="4.6" fill="#878787"/><rect x="82" y="445" width="4.6" height="4.6" fill="#8a8a8a"/><rect x="86" y="445" width="4.6" height="4.6" fill="#8d8d8d"/><rect x="90" y="445" width="4.6" height="4.6" fill="#8f8f8f"/><rect x="94" y="445" width="4.6" height="4.6" fill="#919191"/><rect x="98" y="445" width="4.6" height="4.6" fill="#929292"/><rect x="102" y="445" width="4.6" height="4.6" fill="#949494"/><rect x="106" y="445" width="4.6" height="4.6" fill="#969696"/><rect x="110" y="445" width="4.6" height="4.6" fill="#969696"/><rect x="114" y="445" width="4.6" height="4.6" fill="#939393"/><rect x="118" y="445" width="4.6" height="4.6" fill="#8d8d8d"/><rect x="122" y="445" width="4.6" height="4.6" fill="#888888"/><rect x="126" y="445" width="4.6" height="4.6" fill="#838383"/><rect x="130" y="445" width="4.6" height="4.6" fill="#5e5e5e"/><rect x="134" y="445" width="4.6" height="4.6" fill="#313131"/><rect x="138" y="445" width="4.6" height="4.6" fill="#151515"/><rect x="142" y="445" width="4.6" height="4.6" fill="#101010"/><rect x="146" y="445" width="4.6" height="4.6" fill="#101010"/><rect x="150" y="445" width="4.6" height="4.6" fill="#111111"/><rect x="154" y="445" width="4.6" height="4.6" fill="#171717"/><rect x="158" y="445" width="4.6" height="4.6" fill="#464646"/><rect x="162" y="445" width="4.6" height="4.6" fill="#595959"/><rect x="166" y="445" width="4.6" height="4.6" fill="#5e5e5e"/><rect x="170" y="445" width="4.6" height="4.6" fill="#636363"/><rect x="174" y="445" width="4.6" height="4.6" fill="#686868"/><rect x="178" y="445" width="4.6" height="4.6" fill="#6c6c6c"/><rect x="182" y="445" width="4.6" height="4.6" fill="#6f6f6f"/><rect x="6" y="449" width="4.6" height="4.6" fill="#3c3c3c"/><rect x="10" y="449" width="4.6" height="4.6" fill="#3e3e3e"/><rect x="14" y="449" width="4.6" height="4.6" fill="#434343"/><rect x="18" y="449" width="4.6" height="4.6" fill="#484848"/><rect x="22" y="449" width="4.6" height="4.6" fill="#4c4c4c"/><rect x="26" y="449" width="4.6" height="4.6" fill="#515151"/><rect x="30" y="449" width="4.6" height="4.6" fill="#565656"/><rect x="34" y="449" width="4.6" height="4.6" fill="#5a5a5a"/><rect x="38" y="449" width="4.6" height="4.6" fill="#5f5f5f"/><rect x="42" y="449" width="4.6" height="4.6" fill="#646464"/><rect x="46" y="449" width="4.6" height="4.6" fill="#686868"/><rect x="50" y="449" width="4.6" height="4.6" fill="#6c6c6c"/><rect x="54" y="449" width="4.6" height="4.6" fill="#707070"/><rect x="58" y="449" width="4.6" height="4.6" fill="#747474"/><rect x="62" y="449" width="4.6" height="4.6" fill="#787878"/><rect x="66" y="449" width="4.6" height="4.6" fill="#7b7b7b"/><rect x="70" y="449" width="4.6" height="4.6" fill="#7f7f7f"/><rect x="74" y="449" width="4.6" height="4.6" fill="#838383"/><rect x="78" y="449" width="4.6" height="4.6" fill="#868686"/><rect x="82" y="449" width="4.6" height="4.6" fill="#8a8a8a"/><rect x="86" y="449" width="4.6" height="4.6" fill="#8c8c8c"/><rect x="90" y="449" width="4.6" height="4.6" fill="#8e8e8e"/><rect x="94" y="449" width="4.6" height="4.6" fill="#909090"/><rect x="98" y="449" width="4.6" height="4.6" fill="#929292"/><rect x="102" y="449" width="4.6" height="4.6" fill="#949494"/><rect x="106" y="449" width="4.6" height="4.6" fill="#969696"/><rect x="110" y="449" width="4.6" height="4.6" fill="#969696"/><rect x="114" y="449" width="4.6" height="4.6" fill="#949494"/><rect x="118" y="449" width="4.6" height="4.6" fill="#8e8e8e"/><rect x="122" y="449" width="4.6" height="4.6" fill="#898989"/><rect x="126" y="449" width="4.6" height="4.6" fill="#838383"/><rect x="130" y="449" width="4.6" height="4.6" fill="#585858"/><rect x="134" y="449" width="4.6" height="4.6" fill="#2d2d2d"/><rect x="138" y="449" width="4.6" height="4.6" fill="#141414"/><rect x="142" y="449" width="4.6" height="4.6" fill="#101010"/><rect x="146" y="449" width="4.6" height="4.6" fill="#111111"/><rect x="150" y="449" width="4.6" height="4.6" fill="#111111"/><rect x="154" y="449" width="4.6" height="4.6" fill="#1c1c1c"/><rect x="158" y="449" width="4.6" height="4.6" fill="#494949"/><rect x="162" y="449" width="4.6" height="4.6" fill="#595959"/><rect x="166" y="449" width="4.6" height="4.6" fill="#5d5d5d"/><rect x="170" y="449" width="4.6" height="4.6" fill="#626262"/><rect x="174" y="449" width="4.6" height="4.6" fill="#676767"/><rect x="178" y="449" width="4.6" height="4.6" fill="#6c6c6c"/><rect x="182" y="449" width="4.6" height="4.6" fill="#6e6e6e"/><rect x="6" y="453" width="4.6" height="4.6" fill="#3b3b3b"/><rect x="10" y="453" width="4.6" height="4.6" fill="#3e3e3e"/><rect x="14" y="453" width="4.6" height="4.6" fill="#424242"/><rect x="18" y="453" width="4.6" height="4.6" fill="#474747"/><rect x="22" y="453" width="4.6" height="4.6" fill="#4c4c4c"/><rect x="26" y="453" width="4.6" height="4.6" fill="#515151"/><rect x="30" y="453" width="4.6" height="4.6" fill="#555555"/><rect x="34" y="453" width="4.6" height="4.6" fill="#5a5a5a"/><rect x="38" y="453" width="4.6" height="4.6" fill="#5f5f5f"/><rect x="42" y="453" width="4.6" height="4.6" fill="#646464"/><rect x="46" y="453" width="4.6" height="4.6" fill="#696969"/><rect x="50" y="453" width="4.6" height="4.6" fill="#6d6d6d"/><rect x="54" y="453" width="4.6" height="4.6" fill="#707070"/><rect x="58" y="453" width="4.6" height="4.6" fill="#747474"/><rect x="62" y="453" width="4.6" height="4.6" fill="#787878"/><rect x="66" y="453" width="4.6" height="4.6" fill="#7b7b7b"/><rect x="70" y="453" width="4.6" height="4.6" fill="#7f7f7f"/><rect x="74" y="453" width="4.6" height="4.6" fill="#838383"/><rect x="78" y="453" width="4.6" height="4.6" fill="#868686"/><rect x="82" y="453" width="4.6" height="4.6" fill="#8a8a8a"/><rect x="86" y="453" width="4.6" height="4.6" fill="#8c8c8c"/><rect x="90" y="453" width="4.6" height="4.6" fill="#8e8e8e"/><rect x="94" y="453" width="4.6" height="4.6" fill="#909090"/><rect x="98" y="453" width="4.6" height="4.6" fill="#929292"/><rect x="102" y="453" width="4.6" height="4.6" fill="#949494"/><rect x="106" y="453" width="4.6" height="4.6" fill="#959595"/><rect x="110" y="453" width="4.6" height="4.6" fill="#969696"/><rect x="114" y="453" width="4.6" height="4.6" fill="#959595"/><rect x="118" y="453" width="4.6" height="4.6" fill="#8f8f8f"/><rect x="122" y="453" width="4.6" height="4.6" fill="#898989"/><rect x="126" y="453" width="4.6" height="4.6" fill="#838383"/><rect x="130" y="453" width="4.6" height="4.6" fill="#525252"/><rect x="134" y="453" width="4.6" height="4.6" fill="#292929"/><rect x="138" y="453" width="4.6" height="4.6" fill="#131313"/><rect x="142" y="453" width="4.6" height="4.6" fill="#101010"/><rect x="146" y="453" width="4.6" height="4.6" fill="#111111"/><rect x="150" y="453" width="4.6" height="4.6" fill="#111111"/><rect x="154" y="453" width="4.6" height="4.6" fill="#202020"/><rect x="158" y="453" width="4.6" height="4.6" fill="#4c4c4c"/><rect x="162" y="453" width="4.6" height="4.6" fill="#585858"/><rect x="166" y="453" width="4.6" height="4.6" fill="#5d5d5d"/><rect x="170" y="453" width="4.6" height="4.6" fill="#616161"/><rect x="174" y="453" width="4.6" height="4.6" fill="#666666"/><rect x="178" y="453" width="4.6" height="4.6" fill="#6b6b6b"/><rect x="182" y="453" width="4.6" height="4.6" fill="#6d6d6d"/><rect x="6" y="457" width="4.6" height="4.6" fill="#3b3b3b"/><rect x="10" y="457" width="4.6" height="4.6" fill="#3d3d3d"/><rect x="14" y="457" width="4.6" height="4.6" fill="#424242"/><rect x="18" y="457" width="4.6" height="4.6" fill="#464646"/><rect x="22" y="457" width="4.6" height="4.6" fill="#4b4b4b"/><rect x="26" y="457" width="4.6" height="4.6" fill="#505050"/><rect x="30" y="457" width="4.6" height="4.6" fill="#555555"/><rect x="34" y="457" width="4.6" height="4.6" fill="#5a5a5a"/><rect x="38" y="457" width="4.6" height="4.6" fill="#5f5f5f"/><rect x="42" y="457" width="4.6" height="4.6" fill="#646464"/><rect x="46" y="457" width="4.6" height="4.6" fill="#696969"/><rect x="50" y="457" width="4.6" height="4.6" fill="#6d6d6d"/><rect x="54" y="457" width="4.6" height="4.6" fill="#717171"/><rect x="58" y="457" width="4.6" height="4.6" fill="#747474"/><rect x="62" y="457" width="4.6" height="4.6" fill="#787878"/><rect x="66" y="457" width="4.6" height="4.6" fill="#7b7b7b"/><rect x="70" y="457" width="4.6" height="4.6" fill="#7f7f7f"/><rect x="74" y="457" width="4.6" height="4.6" fill="#828282"/><rect x="78" y="457" width="4.6" height="4.6" fill="#868686"/><rect x="82" y="457" width="4.6" height="4.6" fill="#898989"/><rect x="86" y="457" width="4.6" height="4.6" fill="#8c8c8c"/><rect x="90" y="457" width="4.6" height="4.6" fill="#8e8e8e"/><rect x="94" y="457" width="4.6" height="4.6" fill="#8f8f8f"/><rect x="98" y="457" width="4.6" height="4.6" fill="#919191"/><rect x="102" y="457" width="4.6" height="4.6" fill="#939393"/><rect x="106" y="457" width="4.6" height="4.6" fill="#959595"/><rect x="110" y="457" width="4.6" height="4.6" fill="#969696"/><rect x="114" y="457" width="4.6" height="4.6" fill="#969696"/><rect x="118" y="457" width="4.6" height="4.6" fill="#909090"/><rect x="122" y="457" width="4.6" height="4.6" fill="#8a8a8a"/><rect x="126" y="457" width="4.6" height="4.6" fill="#848484"/><rect x="130" y="457" width="4.6" height="4.6" fill="#4c4c4c"/><rect x="134" y="457" width="4.6" height="4.6" fill="#242424"/><rect x="138" y="457" width="4.6" height="4.6" fill="#111111"/><rect x="142" y="457" width="4.6" height="4.6" fill="#101010"/><rect x="146" y="457" width="4.6" height="4.6" fill="#111111"/><rect x="150" y="457" width="4.6" height="4.6" fill="#111111"/><rect x="154" y="457" width="4.6" height="4.6" fill="#242424"/><rect x="158" y="457" width="4.6" height="4.6" fill="#505050"/><rect x="162" y="457" width="4.6" height="4.6" fill="#575757"/><rect x="166" y="457" width="4.6" height="4.6" fill="#5c5c5c"/><rect x="170" y="457" width="4.6" height="4.6" fill="#616161"/><rect x="174" y="457" width="4.6" height="4.6" fill="#656565"/><rect x="178" y="457" width="4.6" height="4.6" fill="#6a6a6a"/><rect x="182" y="457" width="4.6" height="4.6" fill="#6d6d6d"/><rect x="6" y="461" width="4.6" height="4.6" fill="#393939"/><rect x="10" y="461" width="4.6" height="4.6" fill="#3c3c3c"/><rect x="14" y="461" width="4.6" height="4.6" fill="#404040"/><rect x="18" y="461" width="4.6" height="4.6" fill="#454545"/><rect x="22" y="461" width="4.6" height="4.6" fill="#4a4a4a"/><rect x="26" y="461" width="4.6" height="4.6" fill="#4f4f4f"/><rect x="30" y="461" width="4.6" height="4.6" fill="#545454"/><rect x="34" y="461" width="4.6" height="4.6" fill="#595959"/><rect x="38" y="461" width="4.6" height="4.6" fill="#5e5e5e"/><rect x="42" y="461" width="4.6" height="4.6" fill="#636363"/><rect x="46" y="461" width="4.6" height="4.6" fill="#686868"/><rect x="50" y="461" width="4.6" height="4.6" fill="#6d6d6d"/><rect x="54" y="461" width="4.6" height="4.6" fill="#707070"/><rect x="58" y="461" width="4.6" height="4.6" fill="#747474"/><rect x="62" y="461" width="4.6" height="4.6" fill="#777777"/><rect x="66" y="461" width="4.6" height="4.6" fill="#7b7b7b"/><rect x="70" y="461" width="4.6" height="4.6" fill="#7e7e7e"/><rect x="74" y="461" width="4.6" height="4.6" fill="#828282"/><rect x="78" y="461" width="4.6" height="4.6" fill="#858585"/><rect x="82" y="461" width="4.6" height="4.6" fill="#898989"/><rect x="86" y="461" width="4.6" height="4.6" fill="#8b8b8b"/><rect x="90" y="461" width="4.6" height="4.6" fill="#8d8d8d"/><rect x="94" y="461" width="4.6" height="4.6" fill="#8f8f8f"/><rect x="98" y="461" width="4.6" height="4.6" fill="#919191"/><rect x="102" y="461" width="4.6" height="4.6" fill="#939393"/><rect x="106" y="461" width="4.6" height="4.6" fill="#959595"/><rect x="110" y="461" width="4.6" height="4.6" fill="#979797"/><rect x="114" y="461" width="4.6" height="4.6" fill="#969696"/><rect x="118" y="461" width="4.6" height="4.6" fill="#909090"/><rect x="122" y="461" width="4.6" height="4.6" fill="#878787"/><rect x="126" y="461" width="4.6" height="4.6" fill="#7e7e7e"/><rect x="130" y="461" width="4.6" height="4.6" fill="#454545"/><rect x="134" y="461" width="4.6" height="4.6" fill="#222222"/><rect x="138" y="461" width="4.6" height="4.6" fill="#121212"/><rect x="142" y="461" width="4.6" height="4.6" fill="#131313"/><rect x="146" y="461" width="4.6" height="4.6" fill="#141414"/><rect x="150" y="461" width="4.6" height="4.6" fill="#151515"/><rect x="154" y="461" width="4.6" height="4.6" fill="#292929"/><rect x="158" y="461" width="4.6" height="4.6" fill="#525252"/><rect x="162" y="461" width="4.6" height="4.6" fill="#565656"/><rect x="166" y="461" width="4.6" height="4.6" fill="#5b5b5b"/><rect x="170" y="461" width="4.6" height="4.6" fill="#5f5f5f"/><rect x="174" y="461" width="4.6" height="4.6" fill="#646464"/><rect x="178" y="461" width="4.6" height="4.6" fill="#696969"/><rect x="182" y="461" width="4.6" height="4.6" fill="#6b6b6b"/><rect x="6" y="465" width="4.6" height="4.6" fill="#363636"/><rect x="10" y="465" width="4.6" height="4.6" fill="#393939"/><rect x="14" y="465" width="4.6" height="4.6" fill="#3d3d3d"/><rect x="18" y="465" width="4.6" height="4.6" fill="#424242"/><rect x="22" y="465" width="4.6" height="4.6" fill="#464646"/><rect x="26" y="465" width="4.6" height="4.6" fill="#4b4b4b"/><rect x="30" y="465" width="4.6" height="4.6" fill="#505050"/><rect x="34" y="465" width="4.6" height="4.6" fill="#555555"/><rect x="38" y="465" width="4.6" height="4.6" fill="#5a5a5a"/><rect x="42" y="465" width="4.6" height="4.6" fill="#5f5f5f"/><rect x="46" y="465" width="4.6" height="4.6" fill="#646464"/><rect x="50" y="465" width="4.6" height="4.6" fill="#696969"/><rect x="54" y="465" width="4.6" height="4.6" fill="#6d6d6d"/><rect x="58" y="465" width="4.6" height="4.6" fill="#707070"/><rect x="62" y="465" width="4.6" height="4.6" fill="#747474"/><rect x="66" y="465" width="4.6" height="4.6" fill="#787878"/><rect x="70" y="465" width="4.6" height="4.6" fill="#7c7c7c"/><rect x="74" y="465" width="4.6" height="4.6" fill="#7f7f7f"/><rect x="78" y="465" width="4.6" height="4.6" fill="#838383"/><rect x="82" y="465" width="4.6" height="4.6" fill="#878787"/><rect x="86" y="465" width="4.6" height="4.6" fill="#898989"/><rect x="90" y="465" width="4.6" height="4.6" fill="#8c8c8c"/><rect x="94" y="465" width="4.6" height="4.6" fill="#8e8e8e"/><rect x="98" y="465" width="4.6" height="4.6" fill="#909090"/><rect x="102" y="465" width="4.6" height="4.6" fill="#929292"/><rect x="106" y="465" width="4.6" height="4.6" fill="#949494"/><rect x="110" y="465" width="4.6" height="4.6" fill="#969696"/><rect x="114" y="465" width="4.6" height="4.6" fill="#969696"/><rect x="118" y="465" width="4.6" height="4.6" fill="#8d8d8d"/><rect x="122" y="465" width="4.6" height="4.6" fill="#7c7c7c"/><rect x="126" y="465" width="4.6" height="4.6" fill="#686868"/><rect x="130" y="465" width="4.6" height="4.6" fill="#3b3b3b"/><rect x="134" y="465" width="4.6" height="4.6" fill="#232323"/><rect x="138" y="465" width="4.6" height="4.6" fill="#1c1c1c"/><rect x="142" y="465" width="4.6" height="4.6" fill="#1d1d1d"/><rect x="146" y="465" width="4.6" height="4.6" fill="#1f1f1f"/><rect x="150" y="465" width="4.6" height="4.6" fill="#202020"/><rect x="154" y="465" width="4.6" height="4.6" fill="#303030"/><rect x="158" y="465" width="4.6" height="4.6" fill="#505050"/><rect x="162" y="465" width="4.6" height="4.6" fill="#545454"/><rect x="166" y="465" width="4.6" height="4.6" fill="#585858"/><rect x="170" y="465" width="4.6" height="4.6" fill="#5c5c5c"/><rect x="174" y="465" width="4.6" height="4.6" fill="#616161"/><rect x="178" y="465" width="4.6" height="4.6" fill="#656565"/><rect x="182" y="465" width="4.6" height="4.6" fill="#676767"/><rect x="6" y="469" width="4.6" height="4.6" fill="#343434"/><rect x="10" y="469" width="4.6" height="4.6" fill="#363636"/><rect x="14" y="469" width="4.6" height="4.6" fill="#3a3a3a"/><rect x="18" y="469" width="4.6" height="4.6" fill="#3e3e3e"/><rect x="22" y="469" width="4.6" height="4.6" fill="#434343"/><rect x="26" y="469" width="4.6" height="4.6" fill="#474747"/><rect x="30" y="469" width="4.6" height="4.6" fill="#4c4c4c"/><rect x="34" y="469" width="4.6" height="4.6" fill="#515151"/><rect x="38" y="469" width="4.6" height="4.6" fill="#565656"/><rect x="42" y="469" width="4.6" height="4.6" fill="#5b5b5b"/><rect x="46" y="469" width="4.6" height="4.6" fill="#606060"/><rect x="50" y="469" width="4.6" height="4.6" fill="#656565"/><rect x="54" y="469" width="4.6" height="4.6" fill="#696969"/><rect x="58" y="469" width="4.6" height="4.6" fill="#6d6d6d"/><rect x="62" y="469" width="4.6" height="4.6" fill="#717171"/><rect x="66" y="469" width="4.6" height="4.6" fill="#757575"/><rect x="70" y="469" width="4.6" height="4.6" fill="#797979"/><rect x="74" y="469" width="4.6" height="4.6" fill="#7d7d7d"/><rect x="78" y="469" width="4.6" height="4.6" fill="#818181"/><rect x="82" y="469" width="4.6" height="4.6" fill="#858585"/><rect x="86" y="469" width="4.6" height="4.6" fill="#888888"/><rect x="90" y="469" width="4.6" height="4.6" fill="#8a8a8a"/><rect x="94" y="469" width="4.6" height="4.6" fill="#8d8d8d"/><rect x="98" y="469" width="4.6" height="4.6" fill="#8f8f8f"/><rect x="102" y="469" width="4.6" height="4.6" fill="#919191"/><rect x="106" y="469" width="4.6" height="4.6" fill="#949494"/><rect x="110" y="469" width="4.6" height="4.6" fill="#969696"/><rect x="114" y="469" width="4.6" height="4.6" fill="#959595"/><rect x="118" y="469" width="4.6" height="4.6" fill="#8b8b8b"/><rect x="122" y="469" width="4.6" height="4.6" fill="#717171"/><rect x="126" y="469" width="4.6" height="4.6" fill="#515151"/><rect x="130" y="469" width="4.6" height="4.6" fill="#313131"/><rect x="134" y="469" width="4.6" height="4.6" fill="#252525"/><rect x="138" y="469" width="4.6" height="4.6" fill="#262626"/><rect x="142" y="469" width="4.6" height="4.6" fill="#282828"/><rect x="146" y="469" width="4.6" height="4.6" fill="#292929"/><rect x="150" y="469" width="4.6" height="4.6" fill="#2b2b2b"/><rect x="154" y="469" width="4.6" height="4.6" fill="#373737"/><rect x="158" y="469" width="4.6" height="4.6" fill="#4e4e4e"/><rect x="162" y="469" width="4.6" height="4.6" fill="#525252"/><rect x="166" y="469" width="4.6" height="4.6" fill="#565656"/><rect x="170" y="469" width="4.6" height="4.6" fill="#5a5a5a"/><rect x="174" y="469" width="4.6" height="4.6" fill="#5d5d5d"/><rect x="178" y="469" width="4.6" height="4.6" fill="#616161"/><rect x="182" y="469" width="4.6" height="4.6" fill="#636363"/><rect x="6" y="473" width="4.6" height="4.6" fill="#313131"/><rect x="10" y="473" width="4.6" height="4.6" fill="#333333"/><rect x="14" y="473" width="4.6" height="4.6" fill="#373737"/><rect x="18" y="473" width="4.6" height="4.6" fill="#3b3b3b"/><rect x="22" y="473" width="4.6" height="4.6" fill="#3f3f3f"/><rect x="26" y="473" width="4.6" height="4.6" fill="#444444"/><rect x="30" y="473" width="4.6" height="4.6" fill="#484848"/><rect x="34" y="473" width="4.6" height="4.6" fill="#4d4d4d"/><rect x="38" y="473" width="4.6" height="4.6" fill="#525252"/><rect x="42" y="473" width="4.6" height="4.6" fill="#575757"/><rect x="46" y="473" width="4.6" height="4.6" fill="#5c5c5c"/><rect x="50" y="473" width="4.6" height="4.6" fill="#616161"/><rect x="54" y="473" width="4.6" height="4.6" fill="#656565"/><rect x="58" y="473" width="4.6" height="4.6" fill="#6a6a6a"/><rect x="62" y="473" width="4.6" height="4.6" fill="#6e6e6e"/><rect x="66" y="473" width="4.6" height="4.6" fill="#727272"/><rect x="70" y="473" width="4.6" height="4.6" fill="#767676"/><rect x="74" y="473" width="4.6" height="4.6" fill="#7b7b7b"/><rect x="78" y="473" width="4.6" height="4.6" fill="#7f7f7f"/><rect x="82" y="473" width="4.6" height="4.6" fill="#838383"/><rect x="86" y="473" width="4.6" height="4.6" fill="#868686"/><rect x="90" y="473" width="4.6" height="4.6" fill="#898989"/><rect x="94" y="473" width="4.6" height="4.6" fill="#8b8b8b"/><rect x="98" y="473" width="4.6" height="4.6" fill="#8e8e8e"/><rect x="102" y="473" width="4.6" height="4.6" fill="#919191"/><rect x="106" y="473" width="4.6" height="4.6" fill="#939393"/><rect x="110" y="473" width="4.6" height="4.6" fill="#969696"/><rect x="114" y="473" width="4.6" height="4.6" fill="#959595"/><rect x="118" y="473" width="4.6" height="4.6" fill="#888888"/><rect x="122" y="473" width="4.6" height="4.6" fill="#666666"/><rect x="126" y="473" width="4.6" height="4.6" fill="#3b3b3b"/><rect x="130" y="473" width="4.6" height="4.6" fill="#272727"/><rect x="134" y="473" width="4.6" height="4.6" fill="#262626"/><rect x="138" y="473" width="4.6" height="4.6" fill="#303030"/><rect x="142" y="473" width="4.6" height="4.6" fill="#323232"/><rect x="146" y="473" width="4.6" height="4.6" fill="#343434"/><rect x="150" y="473" width="4.6" height="4.6" fill="#363636"/><rect x="154" y="473" width="4.6" height="4.6" fill="#3f3f3f"/><rect x="158" y="473" width="4.6" height="4.6" fill="#4c4c4c"/><rect x="162" y="473" width="4.6" height="4.6" fill="#505050"/><rect x="166" y="473" width="4.6" height="4.6" fill="#535353"/><rect x="170" y="473" width="4.6" height="4.6" fill="#575757"/><rect x="174" y="473" width="4.6" height="4.6" fill="#5a5a5a"/><rect x="178" y="473" width="4.6" height="4.6" fill="#5d5d5d"/><rect x="182" y="473" width="4.6" height="4.6" fill="#5f5f5f"/><rect x="6" y="477" width="4.6" height="4.6" fill="#2e2e2e"/><rect x="10" y="477" width="4.6" height="4.6" fill="#303030"/><rect x="14" y="477" width="4.6" height="4.6" fill="#343434"/><rect x="18" y="477" width="4.6" height="4.6" fill="#383838"/><rect x="22" y="477" width="4.6" height="4.6" fill="#3c3c3c"/><rect x="26" y="477" width="4.6" height="4.6" fill="#404040"/><rect x="30" y="477" width="4.6" height="4.6" fill="#444444"/><rect x="34" y="477" width="4.6" height="4.6" fill="#494949"/><rect x="38" y="477" width="4.6" height="4.6" fill="#4e4e4e"/><rect x="42" y="477" width="4.6" height="4.6" fill="#535353"/><rect x="46" y="477" width="4.6" height="4.6" fill="#585858"/><rect x="50" y="477" width="4.6" height="4.6" fill="#5d5d5d"/><rect x="54" y="477" width="4.6" height="4.6" fill="#626262"/><rect x="58" y="477" width="4.6" height="4.6" fill="#666666"/><rect x="62" y="477" width="4.6" height="4.6" fill="#6b6b6b"/><rect x="66" y="477" width="4.6" height="4.6" fill="#6f6f6f"/><rect x="70" y="477" width="4.6" height="4.6" fill="#737373"/><rect x="74" y="477" width="4.6" height="4.6" fill="#787878"/><rect x="78" y="477" width="4.6" height="4.6" fill="#7c7c7c"/><rect x="82" y="477" width="4.6" height="4.6" fill="#818181"/><rect x="86" y="477" width="4.6" height="4.6" fill="#848484"/><rect x="90" y="477" width="4.6" height="4.6" fill="#878787"/><rect x="94" y="477" width="4.6" height="4.6" fill="#8a8a8a"/><rect x="98" y="477" width="4.6" height="4.6" fill="#8d8d8d"/><rect x="102" y="477" width="4.6" height="4.6" fill="#909090"/><rect x="106" y="477" width="4.6" height="4.6" fill="#939393"/><rect x="110" y="477" width="4.6" height="4.6" fill="#969696"/><rect x="114" y="477" width="4.6" height="4.6" fill="#949494"/><rect x="118" y="477" width="4.6" height="4.6" fill="#858585"/><rect x="122" y="477" width="4.6" height="4.6" fill="#5b5b5b"/><rect x="126" y="477" width="4.6" height="4.6" fill="#242424"/><rect x="130" y="477" width="4.6" height="4.6" fill="#1d1d1d"/><rect x="134" y="477" width="4.6" height="4.6" fill="#282828"/><rect x="138" y="477" width="4.6" height="4.6" fill="#3a3a3a"/><rect x="142" y="477" width="4.6" height="4.6" fill="#3c3c3c"/><rect x="146" y="477" width="4.6" height="4.6" fill="#3f3f3f"/><rect x="150" y="477" width="4.6" height="4.6" fill="#424242"/><rect x="154" y="477" width="4.6" height="4.6" fill="#464646"/><rect x="158" y="477" width="4.6" height="4.6" fill="#4b4b4b"/><rect x="162" y="477" width="4.6" height="4.6" fill="#4e4e4e"/><rect x="166" y="477" width="4.6" height="4.6" fill="#515151"/><rect x="170" y="477" width="4.6" height="4.6" fill="#545454"/><rect x="174" y="477" width="4.6" height="4.6" fill="#575757"/><rect x="178" y="477" width="4.6" height="4.6" fill="#5a5a5a"/><rect x="182" y="477" width="4.6" height="4.6" fill="#5b5b5b"/><rect x="6" y="481" width="4.6" height="4.6" fill="#2c2c2c"/><rect x="10" y="481" width="4.6" height="4.6" fill="#2e2e2e"/><rect x="14" y="481" width="4.6" height="4.6" fill="#323232"/><rect x="18" y="481" width="4.6" height="4.6" fill="#363636"/><rect x="22" y="481" width="4.6" height="4.6" fill="#3a3a3a"/><rect x="26" y="481" width="4.6" height="4.6" fill="#3e3e3e"/><rect x="30" y="481" width="4.6" height="4.6" fill="#424242"/><rect x="34" y="481" width="4.6" height="4.6" fill="#474747"/><rect x="38" y="481" width="4.6" height="4.6" fill="#4c4c4c"/><rect x="42" y="481" width="4.6" height="4.6" fill="#515151"/><rect x="46" y="481" width="4.6" height="4.6" fill="#565656"/><rect x="50" y="481" width="4.6" height="4.6" fill="#5a5a5a"/><rect x="54" y="481" width="4.6" height="4.6" fill="#5e5e5e"/><rect x="58" y="481" width="4.6" height="4.6" fill="#626262"/><rect x="62" y="481" width="4.6" height="4.6" fill="#656565"/><rect x="66" y="481" width="4.6" height="4.6" fill="#686868"/><rect x="70" y="481" width="4.6" height="4.6" fill="#6a6a6a"/><rect x="74" y="481" width="4.6" height="4.6" fill="#6c6c6c"/><rect x="78" y="481" width="4.6" height="4.6" fill="#717171"/><rect x="82" y="481" width="4.6" height="4.6" fill="#777777"/><rect x="86" y="481" width="4.6" height="4.6" fill="#7d7d7d"/><rect x="90" y="481" width="4.6" height="4.6" fill="#838383"/><rect x="94" y="481" width="4.6" height="4.6" fill="#878787"/><rect x="98" y="481" width="4.6" height="4.6" fill="#8b8b8b"/><rect x="102" y="481" width="4.6" height="4.6" fill="#8e8e8e"/><rect x="106" y="481" width="4.6" height="4.6" fill="#929292"/><rect x="110" y="481" width="4.6" height="4.6" fill="#959595"/><rect x="114" y="481" width="4.6" height="4.6" fill="#949494"/><rect x="118" y="481" width="4.6" height="4.6" fill="#878787"/><rect x="122" y="481" width="4.6" height="4.6" fill="#595959"/><rect x="126" y="481" width="4.6" height="4.6" fill="#1f1f1f"/><rect x="130" y="481" width="4.6" height="4.6" fill="#1b1b1b"/><rect x="134" y="481" width="4.6" height="4.6" fill="#282828"/><rect x="138" y="481" width="4.6" height="4.6" fill="#3c3c3c"/><rect x="142" y="481" width="4.6" height="4.6" fill="#3f3f3f"/><rect x="146" y="481" width="4.6" height="4.6" fill="#424242"/><rect x="150" y="481" width="4.6" height="4.6" fill="#454545"/><rect x="154" y="481" width="4.6" height="4.6" fill="#474747"/><rect x="158" y="481" width="4.6" height="4.6" fill="#4a4a4a"/><rect x="162" y="481" width="4.6" height="4.6" fill="#4d4d4d"/><rect x="166" y="481" width="4.6" height="4.6" fill="#505050"/><rect x="170" y="481" width="4.6" height="4.6" fill="#535353"/><rect x="174" y="481" width="4.6" height="4.6" fill="#565656"/><rect x="178" y="481" width="4.6" height="4.6" fill="#595959"/><rect x="182" y="481" width="4.6" height="4.6" fill="#5a5a5a"/><rect x="6" y="485" width="4.6" height="4.6" fill="#2b2b2b"/><rect x="10" y="485" width="4.6" height="4.6" fill="#2d2d2d"/><rect x="14" y="485" width="4.6" height="4.6" fill="#313131"/><rect x="18" y="485" width="4.6" height="4.6" fill="#353535"/><rect x="22" y="485" width="4.6" height="4.6" fill="#393939"/><rect x="26" y="485" width="4.6" height="4.6" fill="#3d3d3d"/><rect x="30" y="485" width="4.6" height="4.6" fill="#414141"/><rect x="34" y="485" width="4.6" height="4.6" fill="#464646"/><rect x="38" y="485" width="4.6" height="4.6" fill="#4a4a4a"/><rect x="42" y="485" width="4.6" height="4.6" fill="#4f4f4f"/><rect x="46" y="485" width="4.6" height="4.6" fill="#535353"/><rect x="50" y="485" width="4.6" height="4.6" fill="#575757"/><rect x="54" y="485" width="4.6" height="4.6" fill="#5b5b5b"/><rect x="58" y="485" width="4.6" height="4.6" fill="#5d5d5d"/><rect x="62" y="485" width="4.6" height="4.6" fill="#5e5e5e"/><rect x="66" y="485" width="4.6" height="4.6" fill="#5d5d5d"/><rect x="70" y="485" width="4.6" height="4.6" fill="#595959"/><rect x="74" y="485" width="4.6" height="4.6" fill="#575757"/><rect x="78" y="485" width="4.6" height="4.6" fill="#5b5b5b"/><rect x="82" y="485" width="4.6" height="4.6" fill="#666666"/><rect x="86" y="485" width="4.6" height="4.6" fill="#727272"/><rect x="90" y="485" width="4.6" height="4.6" fill="#7b7b7b"/><rect x="94" y="485" width="4.6" height="4.6" fill="#828282"/><rect x="98" y="485" width="4.6" height="4.6" fill="#888888"/><rect x="102" y="485" width="4.6" height="4.6" fill="#8c8c8c"/><rect x="106" y="485" width="4.6" height="4.6" fill="#919191"/><rect x="110" y="485" width="4.6" height="4.6" fill="#949494"/><rect x="114" y="485" width="4.6" height="4.6" fill="#949494"/><rect x="118" y="485" width="4.6" height="4.6" fill="#8a8a8a"/><rect x="122" y="485" width="4.6" height="4.6" fill="#5a5a5a"/><rect x="126" y="485" width="4.6" height="4.6" fill="#1f1f1f"/><rect x="130" y="485" width="4.6" height="4.6" fill="#1c1c1c"/><rect x="134" y="485" width="4.6" height="4.6" fill="#292929"/><rect x="138" y="485" width="4.6" height="4.6" fill="#3c3c3c"/><rect x="142" y="485" width="4.6" height="4.6" fill="#3f3f3f"/><rect x="146" y="485" width="4.6" height="4.6" fill="#424242"/><rect x="150" y="485" width="4.6" height="4.6" fill="#454545"/><rect x="154" y="485" width="4.6" height="4.6" fill="#474747"/><rect x="158" y="485" width="4.6" height="4.6" fill="#4a4a4a"/><rect x="162" y="485" width="4.6" height="4.6" fill="#4d4d4d"/><rect x="166" y="485" width="4.6" height="4.6" fill="#505050"/><rect x="170" y="485" width="4.6" height="4.6" fill="#535353"/><rect x="174" y="485" width="4.6" height="4.6" fill="#565656"/><rect x="178" y="485" width="4.6" height="4.6" fill="#595959"/><rect x="182" y="485" width="4.6" height="4.6" fill="#5a5a5a"/><rect x="6" y="489" width="4.6" height="4.6" fill="#2a2a2a"/><rect x="10" y="489" width="4.6" height="4.6" fill="#2c2c2c"/><rect x="14" y="489" width="4.6" height="4.6" fill="#303030"/><rect x="18" y="489" width="4.6" height="4.6" fill="#343434"/><rect x="22" y="489" width="4.6" height="4.6" fill="#373737"/><rect x="26" y="489" width="4.6" height="4.6" fill="#3b3b3b"/><rect x="30" y="489" width="4.6" height="4.6" fill="#3f3f3f"/><rect x="34" y="489" width="4.6" height="4.6" fill="#444444"/><rect x="38" y="489" width="4.6" height="4.6" fill="#484848"/><rect x="42" y="489" width="4.6" height="4.6" fill="#4d4d4d"/><rect x="46" y="489" width="4.6" height="4.6" fill="#515151"/><rect x="50" y="489" width="4.6" height="4.6" fill="#555555"/><rect x="54" y="489" width="4.6" height="4.6" fill="#575757"/><rect x="58" y="489" width="4.6" height="4.6" fill="#595959"/><rect x="62" y="489" width="4.6" height="4.6" fill="#595959"/><rect x="66" y="489" width="4.6" height="4.6" fill="#585858"/><rect x="70" y="489" width="4.6" height="4.6" fill="#525252"/><rect x="74" y="489" width="4.6" height="4.6" fill="#4e4e4e"/><rect x="78" y="489" width="4.6" height="4.6" fill="#525252"/><rect x="82" y="489" width="4.6" height="4.6" fill="#5e5e5e"/><rect x="86" y="489" width="4.6" height="4.6" fill="#6c6c6c"/><rect x="90" y="489" width="4.6" height="4.6" fill="#777777"/><rect x="94" y="489" width="4.6" height="4.6" fill="#7e7e7e"/><rect x="98" y="489" width="4.6" height="4.6" fill="#858585"/><rect x="102" y="489" width="4.6" height="4.6" fill="#8a8a8a"/><rect x="106" y="489" width="4.6" height="4.6" fill="#909090"/><rect x="110" y="489" width="4.6" height="4.6" fill="#939393"/><rect x="114" y="489" width="4.6" height="4.6" fill="#939393"/><rect x="118" y="489" width="4.6" height="4.6" fill="#8d8d8d"/><rect x="122" y="489" width="4.6" height="4.6" fill="#5c5c5c"/><rect x="126" y="489" width="4.6" height="4.6" fill="#1f1f1f"/><rect x="130" y="489" width="4.6" height="4.6" fill="#1c1c1c"/><rect x="134" y="489" width="4.6" height="4.6" fill="#2a2a2a"/><rect x="138" y="489" width="4.6" height="4.6" fill="#3c3c3c"/><rect x="142" y="489" width="4.6" height="4.6" fill="#3f3f3f"/><rect x="146" y="489" width="4.6" height="4.6" fill="#424242"/><rect x="150" y="489" width="4.6" height="4.6" fill="#454545"/><rect x="154" y="489" width="4.6" height="4.6" fill="#474747"/><rect x="158" y="489" width="4.6" height="4.6" fill="#4a4a4a"/><rect x="162" y="489" width="4.6" height="4.6" fill="#4d4d4d"/><rect x="166" y="489" width="4.6" height="4.6" fill="#505050"/><rect x="170" y="489" width="4.6" height="4.6" fill="#535353"/><rect x="174" y="489" width="4.6" height="4.6" fill="#565656"/><rect x="178" y="489" width="4.6" height="4.6" fill="#595959"/><rect x="182" y="489" width="4.6" height="4.6" fill="#5a5a5a"/><rect x="6" y="493" width="4.6" height="4.6" fill="#292929"/><rect x="10" y="493" width="4.6" height="4.6" fill="#2b2b2b"/><rect x="14" y="493" width="4.6" height="4.6" fill="#2f2f2f"/><rect x="18" y="493" width="4.6" height="4.6" fill="#323232"/><rect x="22" y="493" width="4.6" height="4.6" fill="#363636"/><rect x="26" y="493" width="4.6" height="4.6" fill="#3a3a3a"/><rect x="30" y="493" width="4.6" height="4.6" fill="#3e3e3e"/><rect x="34" y="493" width="4.6" height="4.6" fill="#424242"/><rect x="38" y="493" width="4.6" height="4.6" fill="#464646"/><rect x="42" y="493" width="4.6" height="4.6" fill="#4b4b4b"/><rect x="46" y="493" width="4.6" height="4.6" fill="#4f4f4f"/><rect x="50" y="493" width="4.6" height="4.6" fill="#525252"/><rect x="54" y="493" width="4.6" height="4.6" fill="#545454"/><rect x="58" y="493" width="4.6" height="4.6" fill="#565656"/><rect x="62" y="493" width="4.6" height="4.6" fill="#575757"/><rect x="66" y="493" width="4.6" height="4.6" fill="#585858"/><rect x="70" y="493" width="4.6" height="4.6" fill="#555555"/><rect x="74" y="493" width="4.6" height="4.6" fill="#525252"/><rect x="78" y="493" width="4.6" height="4.6" fill="#565656"/><rect x="82" y="493" width="4.6" height="4.6" fill="#616161"/><rect x="86" y="493" width="4.6" height="4.6" fill="#6c6c6c"/><rect x="90" y="493" width="4.6" height="4.6" fill="#757575"/><rect x="94" y="493" width="4.6" height="4.6" fill="#7b7b7b"/><rect x="98" y="493" width="4.6" height="4.6" fill="#828282"/><rect x="102" y="493" width="4.6" height="4.6" fill="#888888"/><rect x="106" y="493" width="4.6" height="4.6" fill="#8f8f8f"/><rect x="110" y="493" width="4.6" height="4.6" fill="#939393"/><rect x="114" y="493" width="4.6" height="4.6" fill="#939393"/><rect x="118" y="493" width="4.6" height="4.6" fill="#909090"/><rect x="122" y="493" width="4.6" height="4.6" fill="#5d5d5d"/><rect x="126" y="493" width="4.6" height="4.6" fill="#202020"/><rect x="130" y="493" width="4.6" height="4.6" fill="#1d1d1d"/><rect x="134" y="493" width="4.6" height="4.6" fill="#2a2a2a"/><rect x="138" y="493" width="4.6" height="4.6" fill="#3c3c3c"/><rect x="142" y="493" width="4.6" height="4.6" fill="#3f3f3f"/><rect x="146" y="493" width="4.6" height="4.6" fill="#424242"/><rect x="150" y="493" width="4.6" height="4.6" fill="#454545"/><rect x="154" y="493" width="4.6" height="4.6" fill="#474747"/><rect x="158" y="493" width="4.6" height="4.6" fill="#4a4a4a"/><rect x="162" y="493" width="4.6" height="4.6" fill="#4d4d4d"/><rect x="166" y="493" width="4.6" height="4.6" fill="#505050"/><rect x="170" y="493" width="4.6" height="4.6" fill="#535353"/><rect x="174" y="493" width="4.6" height="4.6" fill="#565656"/><rect x="178" y="493" width="4.6" height="4.6" fill="#595959"/><rect x="182" y="493" width="4.6" height="4.6" fill="#5a5a5a"/><rect x="6" y="497" width="4.6" height="4.6" fill="#282828"/><rect x="10" y="497" width="4.6" height="4.6" fill="#2a2a2a"/><rect x="14" y="497" width="4.6" height="4.6" fill="#2e2e2e"/><rect x="18" y="497" width="4.6" height="4.6" fill="#313131"/><rect x="22" y="497" width="4.6" height="4.6" fill="#353535"/><rect x="26" y="497" width="4.6" height="4.6" fill="#393939"/><rect x="30" y="497" width="4.6" height="4.6" fill="#3c3c3c"/><rect x="34" y="497" width="4.6" height="4.6" fill="#404040"/><rect x="38" y="497" width="4.6" height="4.6" fill="#444444"/><rect x="42" y="497" width="4.6" height="4.6" fill="#494949"/><rect x="46" y="497" width="4.6" height="4.6" fill="#4d4d4d"/><rect x="50" y="497" width="4.6" height="4.6" fill="#4f4f4f"/><rect x="54" y="497" width="4.6" height="4.6" fill="#515151"/><rect x="58" y="497" width="4.6" height="4.6" fill="#525252"/><rect x="62" y="497" width="4.6" height="4.6" fill="#545454"/><rect x="66" y="497" width="4.6" height="4.6" fill="#555555"/><rect x="70" y="497" width="4.6" height="4.6" fill="#525252"/><rect x="74" y="497" width="4.6" height="4.6" fill="#4f4f4f"/><rect x="78" y="497" width="4.6" height="4.6" fill="#525252"/><rect x="82" y="497" width="4.6" height="4.6" fill="#5d5d5d"/><rect x="86" y="497" width="4.6" height="4.6" fill="#686868"/><rect x="90" y="497" width="4.6" height="4.6" fill="#717171"/><rect x="94" y="497" width="4.6" height="4.6" fill="#787878"/><rect x="98" y="497" width="4.6" height="4.6" fill="#7f7f7f"/><rect x="102" y="497" width="4.6" height="4.6" fill="#868686"/><rect x="106" y="497" width="4.6" height="4.6" fill="#8e8e8e"/><rect x="110" y="497" width="4.6" height="4.6" fill="#929292"/><rect x="114" y="497" width="4.6" height="4.6" fill="#939393"/><rect x="118" y="497" width="4.6" height="4.6" fill="#939393"/><rect x="122" y="497" width="4.6" height="4.6" fill="#5f5f5f"/><rect x="126" y="497" width="4.6" height="4.6" fill="#202020"/><rect x="130" y="497" width="4.6" height="4.6" fill="#1e1e1e"/><rect x="134" y="497" width="4.6" height="4.6" fill="#2b2b2b"/><rect x="138" y="497" width="4.6" height="4.6" fill="#3c3c3c"/><rect x="142" y="497" width="4.6" height="4.6" fill="#3f3f3f"/><rect x="146" y="497" width="4.6" height="4.6" fill="#424242"/><rect x="150" y="497" width="4.6" height="4.6" fill="#454545"/><rect x="154" y="497" width="4.6" height="4.6" fill="#474747"/><rect x="158" y="497" width="4.6" height="4.6" fill="#4a4a4a"/><rect x="162" y="497" width="4.6" height="4.6" fill="#4d4d4d"/><rect x="166" y="497" width="4.6" height="4.6" fill="#505050"/><rect x="170" y="497" width="4.6" height="4.6" fill="#535353"/><rect x="174" y="497" width="4.6" height="4.6" fill="#565656"/><rect x="178" y="497" width="4.6" height="4.6" fill="#595959"/><rect x="182" y="497" width="4.6" height="4.6" fill="#5a5a5a"/><rect x="6" y="501" width="4.6" height="4.6" fill="#282828"/><rect x="10" y="501" width="4.6" height="4.6" fill="#2a2a2a"/><rect x="14" y="501" width="4.6" height="4.6" fill="#2d2d2d"/><rect x="18" y="501" width="4.6" height="4.6" fill="#313131"/><rect x="22" y="501" width="4.6" height="4.6" fill="#343434"/><rect x="26" y="501" width="4.6" height="4.6" fill="#383838"/><rect x="30" y="501" width="4.6" height="4.6" fill="#3c3c3c"/><rect x="34" y="501" width="4.6" height="4.6" fill="#3f3f3f"/><rect x="38" y="501" width="4.6" height="4.6" fill="#434343"/><rect x="42" y="501" width="4.6" height="4.6" fill="#474747"/><rect x="46" y="501" width="4.6" height="4.6" fill="#4b4b4b"/><rect x="50" y="501" width="4.6" height="4.6" fill="#4e4e4e"/><rect x="54" y="501" width="4.6" height="4.6" fill="#505050"/><rect x="58" y="501" width="4.6" height="4.6" fill="#515151"/><rect x="62" y="501" width="4.6" height="4.6" fill="#535353"/><rect x="66" y="501" width="4.6" height="4.6" fill="#555555"/><rect x="70" y="501" width="4.6" height="4.6" fill="#525252"/><rect x="74" y="501" width="4.6" height="4.6" fill="#505050"/><rect x="78" y="501" width="4.6" height="4.6" fill="#545454"/><rect x="82" y="501" width="4.6" height="4.6" fill="#5e5e5e"/><rect x="86" y="501" width="4.6" height="4.6" fill="#686868"/><rect x="90" y="501" width="4.6" height="4.6" fill="#707070"/><rect x="94" y="501" width="4.6" height="4.6" fill="#777777"/><rect x="98" y="501" width="4.6" height="4.6" fill="#7e7e7e"/><rect x="102" y="501" width="4.6" height="4.6" fill="#858585"/><rect x="106" y="501" width="4.6" height="4.6" fill="#8c8c8c"/><rect x="110" y="501" width="4.6" height="4.6" fill="#909090"/><rect x="114" y="501" width="4.6" height="4.6" fill="#919191"/><rect x="118" y="501" width="4.6" height="4.6" fill="#8f8f8f"/><rect x="122" y="501" width="4.6" height="4.6" fill="#5c5c5c"/><rect x="126" y="501" width="4.6" height="4.6" fill="#212121"/><rect x="130" y="501" width="4.6" height="4.6" fill="#202020"/><rect x="134" y="501" width="4.6" height="4.6" fill="#2c2c2c"/><rect x="138" y="501" width="4.6" height="4.6" fill="#3c3c3c"/><rect x="142" y="501" width="4.6" height="4.6" fill="#3f3f3f"/><rect x="146" y="501" width="4.6" height="4.6" fill="#424242"/><rect x="150" y="501" width="4.6" height="4.6" fill="#454545"/><rect x="154" y="501" width="4.6" height="4.6" fill="#474747"/><rect x="158" y="501" width="4.6" height="4.6" fill="#4a4a4a"/><rect x="162" y="501" width="4.6" height="4.6" fill="#4d4d4d"/><rect x="166" y="501" width="4.6" height="4.6" fill="#505050"/><rect x="170" y="501" width="4.6" height="4.6" fill="#535353"/><rect x="174" y="501" width="4.6" height="4.6" fill="#565656"/><rect x="178" y="501" width="4.6" height="4.6" fill="#595959"/><rect x="182" y="501" width="4.6" height="4.6" fill="#5a5a5a"/><rect x="6" y="505" width="4.6" height="4.6" fill="#292929"/><rect x="10" y="505" width="4.6" height="4.6" fill="#2a2a2a"/><rect x="14" y="505" width="4.6" height="4.6" fill="#2e2e2e"/><rect x="18" y="505" width="4.6" height="4.6" fill="#313131"/><rect x="22" y="505" width="4.6" height="4.6" fill="#343434"/><rect x="26" y="505" width="4.6" height="4.6" fill="#373737"/><rect x="30" y="505" width="4.6" height="4.6" fill="#3b3b3b"/><rect x="34" y="505" width="4.6" height="4.6" fill="#3f3f3f"/><rect x="38" y="505" width="4.6" height="4.6" fill="#424242"/><rect x="42" y="505" width="4.6" height="4.6" fill="#464646"/><rect x="46" y="505" width="4.6" height="4.6" fill="#4a4a4a"/><rect x="50" y="505" width="4.6" height="4.6" fill="#4d4d4d"/><rect x="54" y="505" width="4.6" height="4.6" fill="#4f4f4f"/><rect x="58" y="505" width="4.6" height="4.6" fill="#515151"/><rect x="62" y="505" width="4.6" height="4.6" fill="#535353"/><rect x="66" y="505" width="4.6" height="4.6" fill="#565656"/><rect x="70" y="505" width="4.6" height="4.6" fill="#555555"/><rect x="74" y="505" width="4.6" height="4.6" fill="#545454"/><rect x="78" y="505" width="4.6" height="4.6" fill="#585858"/><rect x="82" y="505" width="4.6" height="4.6" fill="#616161"/><rect x="86" y="505" width="4.6" height="4.6" fill="#6a6a6a"/><rect x="90" y="505" width="4.6" height="4.6" fill="#717171"/><rect x="94" y="505" width="4.6" height="4.6" fill="#787878"/><rect x="98" y="505" width="4.6" height="4.6" fill="#7e7e7e"/><rect x="102" y="505" width="4.6" height="4.6" fill="#848484"/><rect x="106" y="505" width="4.6" height="4.6" fill="#8b8b8b"/><rect x="110" y="505" width="4.6" height="4.6" fill="#8f8f8f"/><rect x="114" y="505" width="4.6" height="4.6" fill="#8f8f8f"/><rect x="118" y="505" width="4.6" height="4.6" fill="#898989"/><rect x="122" y="505" width="4.6" height="4.6" fill="#585858"/><rect x="126" y="505" width="4.6" height="4.6" fill="#232323"/><rect x="130" y="505" width="4.6" height="4.6" fill="#222222"/><rect x="134" y="505" width="4.6" height="4.6" fill="#2e2e2e"/><rect x="138" y="505" width="4.6" height="4.6" fill="#3c3c3c"/><rect x="142" y="505" width="4.6" height="4.6" fill="#3f3f3f"/><rect x="146" y="505" width="4.6" height="4.6" fill="#424242"/><rect x="150" y="505" width="4.6" height="4.6" fill="#454545"/><rect x="154" y="505" width="4.6" height="4.6" fill="#474747"/><rect x="158" y="505" width="4.6" height="4.6" fill="#4a4a4a"/><rect x="162" y="505" width="4.6" height="4.6" fill="#4d4d4d"/><rect x="166" y="505" width="4.6" height="4.6" fill="#505050"/><rect x="170" y="505" width="4.6" height="4.6" fill="#535353"/><rect x="174" y="505" width="4.6" height="4.6" fill="#565656"/><rect x="178" y="505" width="4.6" height="4.6" fill="#595959"/><rect x="182" y="505" width="4.6" height="4.6" fill="#5a5a5a"/><rect x="6" y="509" width="4.6" height="4.6" fill="#292929"/><rect x="10" y="509" width="4.6" height="4.6" fill="#2b2b2b"/><rect x="14" y="509" width="4.6" height="4.6" fill="#2e2e2e"/><rect x="18" y="509" width="4.6" height="4.6" fill="#313131"/><rect x="22" y="509" width="4.6" height="4.6" fill="#343434"/><rect x="26" y="509" width="4.6" height="4.6" fill="#373737"/><rect x="30" y="509" width="4.6" height="4.6" fill="#3a3a3a"/><rect x="34" y="509" width="4.6" height="4.6" fill="#3e3e3e"/><rect x="38" y="509" width="4.6" height="4.6" fill="#424242"/><rect x="42" y="509" width="4.6" height="4.6" fill="#454545"/><rect x="46" y="509" width="4.6" height="4.6" fill="#494949"/><rect x="50" y="509" width="4.6" height="4.6" fill="#4c4c4c"/><rect x="54" y="509" width="4.6" height="4.6" fill="#4e4e4e"/><rect x="58" y="509" width="4.6" height="4.6" fill="#515151"/><rect x="62" y="509" width="4.6" height="4.6" fill="#545454"/><rect x="66" y="509" width="4.6" height="4.6" fill="#575757"/><rect x="70" y="509" width="4.6" height="4.6" fill="#585858"/><rect x="74" y="509" width="4.6" height="4.6" fill="#585858"/><rect x="78" y="509" width="4.6" height="4.6" fill="#5c5c5c"/><rect x="82" y="509" width="4.6" height="4.6" fill="#646464"/><rect x="86" y="509" width="4.6" height="4.6" fill="#6c6c6c"/><rect x="90" y="509" width="4.6" height="4.6" fill="#727272"/><rect x="94" y="509" width="4.6" height="4.6" fill="#787878"/><rect x="98" y="509" width="4.6" height="4.6" fill="#7e7e7e"/><rect x="102" y="509" width="4.6" height="4.6" fill="#838383"/><rect x="106" y="509" width="4.6" height="4.6" fill="#898989"/><rect x="110" y="509" width="4.6" height="4.6" fill="#8d8d8d"/><rect x="114" y="509" width="4.6" height="4.6" fill="#8d8d8d"/><rect x="118" y="509" width="4.6" height="4.6" fill="#838383"/><rect x="122" y="509" width="4.6" height="4.6" fill="#545454"/><rect x="126" y="509" width="4.6" height="4.6" fill="#252525"/><rect x="130" y="509" width="4.6" height="4.6" fill="#252525"/><rect x="134" y="509" width="4.6" height="4.6" fill="#2f2f2f"/><rect x="138" y="509" width="4.6" height="4.6" fill="#3c3c3c"/><rect x="142" y="509" width="4.6" height="4.6" fill="#3f3f3f"/><rect x="146" y="509" width="4.6" height="4.6" fill="#424242"/><rect x="150" y="509" width="4.6" height="4.6" fill="#454545"/><rect x="154" y="509" width="4.6" height="4.6" fill="#474747"/><rect x="158" y="509" width="4.6" height="4.6" fill="#4a4a4a"/><rect x="162" y="509" width="4.6" height="4.6" fill="#4d4d4d"/><rect x="166" y="509" width="4.6" height="4.6" fill="#505050"/><rect x="170" y="509" width="4.6" height="4.6" fill="#535353"/><rect x="174" y="509" width="4.6" height="4.6" fill="#565656"/><rect x="178" y="509" width="4.6" height="4.6" fill="#595959"/><rect x="182" y="509" width="4.6" height="4.6" fill="#5a5a5a"/><rect x="6" y="513" width="4.6" height="4.6" fill="#292929"/><rect x="10" y="513" width="4.6" height="4.6" fill="#2b2b2b"/><rect x="14" y="513" width="4.6" height="4.6" fill="#2e2e2e"/><rect x="18" y="513" width="4.6" height="4.6" fill="#313131"/><rect x="22" y="513" width="4.6" height="4.6" fill="#343434"/><rect x="26" y="513" width="4.6" height="4.6" fill="#363636"/><rect x="30" y="513" width="4.6" height="4.6" fill="#3a3a3a"/><rect x="34" y="513" width="4.6" height="4.6" fill="#3d3d3d"/><rect x="38" y="513" width="4.6" height="4.6" fill="#414141"/><rect x="42" y="513" width="4.6" height="4.6" fill="#444444"/><rect x="46" y="513" width="4.6" height="4.6" fill="#484848"/><rect x="50" y="513" width="4.6" height="4.6" fill="#4b4b4b"/><rect x="54" y="513" width="4.6" height="4.6" fill="#4e4e4e"/><rect x="58" y="513" width="4.6" height="4.6" fill="#505050"/><rect x="62" y="513" width="4.6" height="4.6" fill="#545454"/><rect x="66" y="513" width="4.6" height="4.6" fill="#585858"/><rect x="70" y="513" width="4.6" height="4.6" fill="#5a5a5a"/><rect x="74" y="513" width="4.6" height="4.6" fill="#5c5c5c"/><rect x="78" y="513" width="4.6" height="4.6" fill="#616161"/><rect x="82" y="513" width="4.6" height="4.6" fill="#676767"/><rect x="86" y="513" width="4.6" height="4.6" fill="#6e6e6e"/><rect x="90" y="513" width="4.6" height="4.6" fill="#737373"/><rect x="94" y="513" width="4.6" height="4.6" fill="#787878"/><rect x="98" y="513" width="4.6" height="4.6" fill="#7d7d7d"/><rect x="102" y="513" width="4.6" height="4.6" fill="#828282"/><rect x="106" y="513" width="4.6" height="4.6" fill="#878787"/><rect x="110" y="513" width="4.6" height="4.6" fill="#8b8b8b"/><rect x="114" y="513" width="4.6" height="4.6" fill="#8a8a8a"/><rect x="118" y="513" width="4.6" height="4.6" fill="#7c7c7c"/><rect x="122" y="513" width="4.6" height="4.6" fill="#505050"/><rect x="126" y="513" width="4.6" height="4.6" fill="#272727"/><rect x="130" y="513" width="4.6" height="4.6" fill="#272727"/><rect x="134" y="513" width="4.6" height="4.6" fill="#313131"/><rect x="138" y="513" width="4.6" height="4.6" fill="#3c3c3c"/><rect x="142" y="513" width="4.6" height="4.6" fill="#3f3f3f"/><rect x="146" y="513" width="4.6" height="4.6" fill="#424242"/><rect x="150" y="513" width="4.6" height="4.6" fill="#454545"/><rect x="154" y="513" width="4.6" height="4.6" fill="#474747"/><rect x="158" y="513" width="4.6" height="4.6" fill="#4a4a4a"/><rect x="162" y="513" width="4.6" height="4.6" fill="#4d4d4d"/><rect x="166" y="513" width="4.6" height="4.6" fill="#505050"/><rect x="170" y="513" width="4.6" height="4.6" fill="#535353"/><rect x="174" y="513" width="4.6" height="4.6" fill="#565656"/><rect x="178" y="513" width="4.6" height="4.6" fill="#595959"/><rect x="182" y="513" width="4.6" height="4.6" fill="#5a5a5a"/><rect x="6" y="517" width="4.6" height="4.6" fill="#2a2a2a"/><rect x="10" y="517" width="4.6" height="4.6" fill="#2b2b2b"/><rect x="14" y="517" width="4.6" height="4.6" fill="#2e2e2e"/><rect x="18" y="517" width="4.6" height="4.6" fill="#313131"/><rect x="22" y="517" width="4.6" height="4.6" fill="#333333"/><rect x="26" y="517" width="4.6" height="4.6" fill="#363636"/><rect x="30" y="517" width="4.6" height="4.6" fill="#393939"/><rect x="34" y="517" width="4.6" height="4.6" fill="#3c3c3c"/><rect x="38" y="517" width="4.6" height="4.6" fill="#404040"/><rect x="42" y="517" width="4.6" height="4.6" fill="#434343"/><rect x="46" y="517" width="4.6" height="4.6" fill="#474747"/><rect x="50" y="517" width="4.6" height="4.6" fill="#4a4a4a"/><rect x="54" y="517" width="4.6" height="4.6" fill="#4d4d4d"/><rect x="58" y="517" width="4.6" height="4.6" fill="#505050"/><rect x="62" y="517" width="4.6" height="4.6" fill="#545454"/><rect x="66" y="517" width="4.6" height="4.6" fill="#595959"/><rect x="70" y="517" width="4.6" height="4.6" fill="#5d5d5d"/><rect x="74" y="517" width="4.6" height="4.6" fill="#616161"/><rect x="78" y="517" width="4.6" height="4.6" fill="#656565"/><rect x="82" y="517" width="4.6" height="4.6" fill="#6a6a6a"/><rect x="86" y="517" width="4.6" height="4.6" fill="#707070"/><rect x="90" y="517" width="4.6" height="4.6" fill="#747474"/><rect x="94" y="517" width="4.6" height="4.6" fill="#797979"/><rect x="98" y="517" width="4.6" height="4.6" fill="#7d7d7d"/><rect x="102" y="517" width="4.6" height="4.6" fill="#818181"/><rect x="106" y="517" width="4.6" height="4.6" fill="#868686"/><rect x="110" y="517" width="4.6" height="4.6" fill="#8a8a8a"/><rect x="114" y="517" width="4.6" height="4.6" fill="#888888"/><rect x="118" y="517" width="4.6" height="4.6" fill="#767676"/><rect x="122" y="517" width="4.6" height="4.6" fill="#4c4c4c"/><rect x="126" y="517" width="4.6" height="4.6" fill="#282828"/><rect x="130" y="517" width="4.6" height="4.6" fill="#292929"/><rect x="134" y="517" width="4.6" height="4.6" fill="#323232"/><rect x="138" y="517" width="4.6" height="4.6" fill="#3c3c3c"/><rect x="142" y="517" width="4.6" height="4.6" fill="#3f3f3f"/><rect x="146" y="517" width="4.6" height="4.6" fill="#424242"/><rect x="150" y="517" width="4.6" height="4.6" fill="#454545"/><rect x="154" y="517" width="4.6" height="4.6" fill="#474747"/><rect x="158" y="517" width="4.6" height="4.6" fill="#4a4a4a"/><rect x="162" y="517" width="4.6" height="4.6" fill="#4d4d4d"/><rect x="166" y="517" width="4.6" height="4.6" fill="#505050"/><rect x="170" y="517" width="4.6" height="4.6" fill="#535353"/><rect x="174" y="517" width="4.6" height="4.6" fill="#565656"/><rect x="178" y="517" width="4.6" height="4.6" fill="#595959"/><rect x="182" y="517" width="4.6" height="4.6" fill="#5a5a5a"/><rect x="6" y="521" width="4.6" height="4.6" fill="#2a2a2a"/><rect x="10" y="521" width="4.6" height="4.6" fill="#2b2b2b"/><rect x="14" y="521" width="4.6" height="4.6" fill="#2e2e2e"/><rect x="18" y="521" width="4.6" height="4.6" fill="#303030"/><rect x="22" y="521" width="4.6" height="4.6" fill="#333333"/><rect x="26" y="521" width="4.6" height="4.6" fill="#363636"/><rect x="30" y="521" width="4.6" height="4.6" fill="#393939"/><rect x="34" y="521" width="4.6" height="4.6" fill="#3c3c3c"/><rect x="38" y="521" width="4.6" height="4.6" fill="#3f3f3f"/><rect x="42" y="521" width="4.6" height="4.6" fill="#434343"/><rect x="46" y="521" width="4.6" height="4.6" fill="#464646"/><rect x="50" y="521" width="4.6" height="4.6" fill="#494949"/><rect x="54" y="521" width="4.6" height="4.6" fill="#4d4d4d"/><rect x="58" y="521" width="4.6" height="4.6" fill="#505050"/><rect x="62" y="521" width="4.6" height="4.6" fill="#555555"/><rect x="66" y="521" width="4.6" height="4.6" fill="#595959"/><rect x="70" y="521" width="4.6" height="4.6" fill="#5e5e5e"/><rect x="74" y="521" width="4.6" height="4.6" fill="#636363"/><rect x="78" y="521" width="4.6" height="4.6" fill="#676767"/><rect x="82" y="521" width="4.6" height="4.6" fill="#6c6c6c"/><rect x="86" y="521" width="4.6" height="4.6" fill="#717171"/><rect x="90" y="521" width="4.6" height="4.6" fill="#757575"/><rect x="94" y="521" width="4.6" height="4.6" fill="#797979"/><rect x="98" y="521" width="4.6" height="4.6" fill="#7d7d7d"/><rect x="102" y="521" width="4.6" height="4.6" fill="#818181"/><rect x="106" y="521" width="4.6" height="4.6" fill="#858585"/><rect x="110" y="521" width="4.6" height="4.6" fill="#898989"/><rect x="114" y="521" width="4.6" height="4.6" fill="#878787"/><rect x="118" y="521" width="4.6" height="4.6" fill="#737373"/><rect x="122" y="521" width="4.6" height="4.6" fill="#4a4a4a"/><rect x="126" y="521" width="4.6" height="4.6" fill="#292929"/><rect x="130" y="521" width="4.6" height="4.6" fill="#2a2a2a"/><rect x="134" y="521" width="4.6" height="4.6" fill="#333333"/><rect x="138" y="521" width="4.6" height="4.6" fill="#3c3c3c"/><rect x="142" y="521" width="4.6" height="4.6" fill="#3f3f3f"/><rect x="146" y="521" width="4.6" height="4.6" fill="#424242"/><rect x="150" y="521" width="4.6" height="4.6" fill="#454545"/><rect x="154" y="521" width="4.6" height="4.6" fill="#474747"/><rect x="158" y="521" width="4.6" height="4.6" fill="#4a4a4a"/><rect x="162" y="521" width="4.6" height="4.6" fill="#4d4d4d"/><rect x="166" y="521" width="4.6" height="4.6" fill="#505050"/><rect x="170" y="521" width="4.6" height="4.6" fill="#535353"/><rect x="174" y="521" width="4.6" height="4.6" fill="#565656"/><rect x="178" y="521" width="4.6" height="4.6" fill="#595959"/><rect x="182" y="521" width="4.6" height="4.6" fill="#5a5a5a"/></g>
<rect x="10.2" y="397.3" width="171.4" height="123.2" filter="url(#noise)" opacity="0.2" style="mix-blend-mode:overlay"/>
</g>
<ellipse cx="111.7" cy="444.2" rx="27.3" ry="21.8" fill="#E04040" fill-opacity="0.3" stroke="#E5392B" stroke-width="1.5"/>
<path d="M94,441.3 C105,441.5 125,442.6 135.5,442.7" stroke="#6a3a3a" stroke-width="0.7" fill="none" opacity="0.6"/>
<line x1="95.4" y1="462.3" x2="131.5" y2="520" stroke="#E5392B" stroke-width="1.1"/>
<line x1="138.2" y1="437.2" x2="183" y2="469.8" stroke="#E5392B" stroke-width="0.8"/>
<rect x="132.3" y="471.2" width="50.2" height="48.3" fill="#8e8e8e"/>
<rect x="132.3" y="471.2" width="50.2" height="48.3" filter="url(#noise)" opacity="0.25" style="mix-blend-mode:overlay"/>
<ellipse cx="150" cy="490" rx="5" ry="11" fill="#999" stroke="#7c7c7c" stroke-width="0.5" transform="rotate(-25 150 490)"/>
<path d="M150,491.3 L170,494.3" stroke="#b8b8b8" stroke-width="1.3"/>
<path d="M150,493 L172,496" stroke="#6a6a6a" stroke-width="0.5"/>
<circle cx="138.8" cy="504.4" r="1.0" fill="#222" stroke="none" stroke-width="0.7"/>
<rect x="132.3" y="471.2" width="50.2" height="48.3" fill="none" stroke="#E5392B" stroke-width="1.9"/>
<text x="216.3" y="234.3" font-size="12.5" text-anchor="start" font-weight="bold" font-style="normal" fill="#000">F</text>
<text x="302.8" y="239.2" font-size="11.6" text-anchor="middle" font-weight="normal" font-style="normal" fill="#111" stroke="#111" stroke-width="0.18">Input Resistance</text>
<rect x="258.7" y="297.04742857142855" width="26.7" height="65.95257142857145" fill="#fff" stroke="#555" stroke-width="1"/>
<rect x="290.7" y="300.01685714285713" width="26.6" height="62.983142857142866" fill="#F2D57D" stroke="#333" stroke-width="0.8"/>
<rect x="323.1" y="291.2648571428571" width="26.6" height="71.73514285714288" fill="#589B22" stroke="#333" stroke-width="0.8"/>
<line x1="272" y1="297.04742857142855" x2="272" y2="293.9" stroke="#555" stroke-width="1"/>
<line x1="265.3" y1="293.9" x2="278.9" y2="293.9" stroke="#555" stroke-width="1"/>
<line x1="304" y1="300.01685714285713" x2="304" y2="295.5" stroke="#333" stroke-width="1"/>
<line x1="297.5" y1="295.5" x2="310.5" y2="295.5" stroke="#333" stroke-width="1"/>
<line x1="336.3" y1="291.2648571428571" x2="336.3" y2="286.4" stroke="#333" stroke-width="1"/>
<line x1="329.3" y1="286.4" x2="343.3" y2="286.4" stroke="#333" stroke-width="1"/>
<line x1="253.2" y1="253.6" x2="253.2" y2="363.0" stroke="#333" stroke-width="1"/>
<line x1="250.2" y1="253.59999999999997" x2="253.2" y2="253.59999999999997" stroke="#333" stroke-width="1"/>
<text x="248.7" y="255.90999999999997" font-size="6.6" text-anchor="end" font-weight="normal" font-style="normal" fill="#222" stroke="#222" stroke-width="0.18">350</text>
<line x1="250.2" y1="269.2285714285714" x2="253.2" y2="269.2285714285714" stroke="#333" stroke-width="1"/>
<text x="248.7" y="271.5385714285714" font-size="6.6" text-anchor="end" font-weight="normal" font-style="normal" fill="#222" stroke="#222" stroke-width="0.18">300</text>
<line x1="250.2" y1="284.85714285714283" x2="253.2" y2="284.85714285714283" stroke="#333" stroke-width="1"/>
<text x="248.7" y="287.16714285714284" font-size="6.6" text-anchor="end" font-weight="normal" font-style="normal" fill="#222" stroke="#222" stroke-width="0.18">250</text>
<line x1="250.2" y1="300.48571428571427" x2="253.2" y2="300.48571428571427" stroke="#333" stroke-width="1"/>
<text x="248.7" y="302.79571428571427" font-size="6.6" text-anchor="end" font-weight="normal" font-style="normal" fill="#222" stroke="#222" stroke-width="0.18">200</text>
<line x1="250.2" y1="316.1142857142857" x2="253.2" y2="316.1142857142857" stroke="#333" stroke-width="1"/>
<text x="248.7" y="318.4242857142857" font-size="6.6" text-anchor="end" font-weight="normal" font-style="normal" fill="#222" stroke="#222" stroke-width="0.18">150</text>
<line x1="250.2" y1="331.74285714285713" x2="253.2" y2="331.74285714285713" stroke="#333" stroke-width="1"/>
<text x="248.7" y="334.05285714285714" font-size="6.6" text-anchor="end" font-weight="normal" font-style="normal" fill="#222" stroke="#222" stroke-width="0.18">100</text>
<line x1="250.2" y1="347.37142857142857" x2="253.2" y2="347.37142857142857" stroke="#333" stroke-width="1"/>
<text x="248.7" y="349.68142857142857" font-size="6.6" text-anchor="end" font-weight="normal" font-style="normal" fill="#222" stroke="#222" stroke-width="0.18">50</text>
<line x1="250.2" y1="363.0" x2="253.2" y2="363.0" stroke="#333" stroke-width="1"/>
<text x="248.7" y="365.31" font-size="6.6" text-anchor="end" font-weight="normal" font-style="normal" fill="#222" stroke="#222" stroke-width="0.18">0</text>
<line x1="253.2" y1="363.0" x2="354.7" y2="363.0" stroke="#333" stroke-width="1"/>
<line x1="271.8" y1="363.0" x2="271.8" y2="366.0" stroke="#333" stroke-width="1"/>
<line x1="304" y1="363.0" x2="304" y2="366.0" stroke="#333" stroke-width="1"/>
<line x1="336.3" y1="363.0" x2="336.3" y2="366.0" stroke="#333" stroke-width="1"/>
<text x="271.8" y="375.7" font-size="7.6" text-anchor="middle" font-weight="normal" font-style="normal" fill="#222" stroke="#222" stroke-width="0.18">Naive</text>
<text x="304" y="375.7" font-size="7.6" text-anchor="middle" font-weight="normal" font-style="normal" fill="#222" stroke="#222" stroke-width="0.18">Alcohol</text>
<text x="336.3" y="375.7" font-size="7.6" text-anchor="middle" font-weight="normal" font-style="normal" fill="#222" stroke="#222" stroke-width="0.18">Alcohol</text>
<text x="336.3" y="384.2" font-size="7.6" text-anchor="middle" font-weight="normal" font-style="normal" fill="#222" stroke="#222" stroke-width="0.18">+ CBD</text>
<text x="231.5" y="310" font-size="8.8" text-anchor="middle" font-weight="normal" font-style="normal" fill="#222" stroke="#222" stroke-width="0.18" transform="rotate(-90 231.5 310)">Resistance (MOhm)</text>
<circle cx="266.8" cy="280.1" r="3.2" fill="#fff" stroke="#1a1a1a" stroke-width="0.8"/>
<circle cx="271.8" cy="286.1" r="3.2" fill="#fff" stroke="#1a1a1a" stroke-width="0.8"/>
<circle cx="277.2" cy="284.3" r="3.2" fill="#fff" stroke="#1a1a1a" stroke-width="0.8"/>
<circle cx="261.8" cy="296.7" r="3.2" fill="#fff" stroke="#1a1a1a" stroke-width="0.8"/>
<circle cx="271.8" cy="298.4" r="3.2" fill="#fff" stroke="#1a1a1a" stroke-width="0.8"/>
<circle cx="277.2" cy="300.9" r="3.2" fill="#fff" stroke="#1a1a1a" stroke-width="0.8"/>
<circle cx="266.8" cy="303" r="3.2" fill="#fff" stroke="#1a1a1a" stroke-width="0.8"/>
<circle cx="282.2" cy="303" r="3.2" fill="#fff" stroke="#1a1a1a" stroke-width="0.8"/>
<circle cx="266.8" cy="311.3" r="3.2" fill="#fff" stroke="#1a1a1a" stroke-width="0.8"/>
<circle cx="276.7" cy="309.1" r="3.2" fill="#fff" stroke="#1a1a1a" stroke-width="0.8"/>
<circle cx="293.8" cy="284.3" r="3.2" fill="#F2D57D" stroke="#1a1a1a" stroke-width="0.8"/>
<circle cx="300.9" cy="290.1" r="3.2" fill="#F2D57D" stroke="#1a1a1a" stroke-width="0.8"/>
<circle cx="307.1" cy="288.4" r="3.2" fill="#F2D57D" stroke="#1a1a1a" stroke-width="0.8"/>
<circle cx="314.2" cy="284.3" r="3.2" fill="#F2D57D" stroke="#1a1a1a" stroke-width="0.8"/>
<circle cx="314.2" cy="294.2" r="3.2" fill="#F2D57D" stroke="#1a1a1a" stroke-width="0.8"/>
<circle cx="307.1" cy="296.4" r="3.2" fill="#F2D57D" stroke="#1a1a1a" stroke-width="0.8"/>
<circle cx="293.8" cy="298.4" r="3.2" fill="#F2D57D" stroke="#1a1a1a" stroke-width="0.8"/>
<circle cx="300.9" cy="300.9" r="3.2" fill="#F2D57D" stroke="#1a1a1a" stroke-width="0.8"/>
<circle cx="293.8" cy="307.2" r="3.2" fill="#F2D57D" stroke="#1a1a1a" stroke-width="0.8"/>
<circle cx="300.9" cy="308.8" r="3.2" fill="#F2D57D" stroke="#1a1a1a" stroke-width="0.8"/>
<circle cx="314.2" cy="307.2" r="3.2" fill="#F2D57D" stroke="#1a1a1a" stroke-width="0.8"/>
<circle cx="307.1" cy="313" r="3.2" fill="#F2D57D" stroke="#1a1a1a" stroke-width="0.8"/>
<circle cx="303.8" cy="321.2" r="3.2" fill="#F2D57D" stroke="#1a1a1a" stroke-width="0.8"/>
<circle cx="336.1" cy="267.4" r="3.2" fill="#589B22" stroke="#1a1a1a" stroke-width="0.8"/>
<circle cx="326" cy="279.9" r="3.2" fill="#589B22" stroke="#1a1a1a" stroke-width="0.8"/>
<circle cx="332.9" cy="279.9" r="3.2" fill="#589B22" stroke="#1a1a1a" stroke-width="0.8"/>
<circle cx="339.6" cy="278" r="3.2" fill="#589B22" stroke="#1a1a1a" stroke-width="0.8"/>
<circle cx="339.6" cy="286.1" r="3.2" fill="#589B22" stroke="#1a1a1a" stroke-width="0.8"/>
<circle cx="326" cy="296.7" r="3.2" fill="#589B22" stroke="#1a1a1a" stroke-width="0.8"/>
<circle cx="332.9" cy="300.9" r="3.2" fill="#589B22" stroke="#1a1a1a" stroke-width="0.8"/>
<circle cx="339.6" cy="300.9" r="3.2" fill="#589B22" stroke="#1a1a1a" stroke-width="0.8"/>
<circle cx="346.2" cy="300.9" r="3.2" fill="#589B22" stroke="#1a1a1a" stroke-width="0.8"/>
<circle cx="336" cy="321.6" r="3.2" fill="#589B22" stroke="#1a1a1a" stroke-width="0.8"/>
<text x="218.8" y="401.9" font-size="12.5" text-anchor="start" font-weight="bold" font-style="normal" fill="#000">G</text>
<text x="303" y="399.5" font-size="11.6" text-anchor="middle" font-weight="normal" font-style="normal" fill="#111" stroke="#111" stroke-width="0.18">Resting Membrane</text>
<text x="303" y="414" font-size="11.6" text-anchor="middle" font-weight="normal" font-style="normal" fill="#111" stroke="#111" stroke-width="0.18">Potential</text>
<rect x="258.8" y="456.1" width="26.5" height="64.69999999999993" fill="#fff" stroke="#555" stroke-width="1"/>
<rect x="290.5" y="463" width="25.7" height="57.799999999999955" fill="#F2D57D" stroke="#333" stroke-width="0.8"/>
<rect x="322.6" y="459.3" width="25.7" height="61.49999999999994" fill="#589B22" stroke="#333" stroke-width="0.8"/>
<line x1="272" y1="456.1" x2="272" y2="453.4" stroke="#555" stroke-width="1"/>
<line x1="265.3" y1="453.4" x2="278.9" y2="453.4" stroke="#555" stroke-width="1"/>
<line x1="253.2" y1="411.6" x2="253.2" y2="520.8" stroke="#333" stroke-width="1"/>
<line x1="250.2" y1="411.6" x2="253.2" y2="411.6" stroke="#333" stroke-width="1"/>
<text x="248.7" y="413.91" font-size="6.6" text-anchor="end" font-weight="normal" font-style="normal" fill="#222" stroke="#222" stroke-width="0.18">-30</text>
<line x1="250.2" y1="427.20000000000005" x2="253.2" y2="427.20000000000005" stroke="#333" stroke-width="1"/>
<text x="248.7" y="429.51000000000005" font-size="6.6" text-anchor="end" font-weight="normal" font-style="normal" fill="#222" stroke="#222" stroke-width="0.18">-40</text>
<line x1="250.2" y1="442.8" x2="253.2" y2="442.8" stroke="#333" stroke-width="1"/>
<text x="248.7" y="445.11" font-size="6.6" text-anchor="end" font-weight="normal" font-style="normal" fill="#222" stroke="#222" stroke-width="0.18">-50</text>
<line x1="250.2" y1="458.4" x2="253.2" y2="458.4" stroke="#333" stroke-width="1"/>
<text x="248.7" y="460.71" font-size="6.6" text-anchor="end" font-weight="normal" font-style="normal" fill="#222" stroke="#222" stroke-width="0.18">-60</text>
<line x1="250.2" y1="474.0" x2="253.2" y2="474.0" stroke="#333" stroke-width="1"/>
<text x="248.7" y="476.31" font-size="6.6" text-anchor="end" font-weight="normal" font-style="normal" fill="#222" stroke="#222" stroke-width="0.18">-70</text>
<line x1="250.2" y1="489.59999999999997" x2="253.2" y2="489.59999999999997" stroke="#333" stroke-width="1"/>
<text x="248.7" y="491.90999999999997" font-size="6.6" text-anchor="end" font-weight="normal" font-style="normal" fill="#222" stroke="#222" stroke-width="0.18">-80</text>
<line x1="250.2" y1="505.2" x2="253.2" y2="505.2" stroke="#333" stroke-width="1"/>
<text x="248.7" y="507.51" font-size="6.6" text-anchor="end" font-weight="normal" font-style="normal" fill="#222" stroke="#222" stroke-width="0.18">-90</text>
<line x1="250.2" y1="520.8" x2="253.2" y2="520.8" stroke="#333" stroke-width="1"/>
<text x="248.7" y="523.1099999999999" font-size="6.6" text-anchor="end" font-weight="normal" font-style="normal" fill="#222" stroke="#222" stroke-width="0.18">-100</text>
<line x1="253.2" y1="520.8" x2="354.7" y2="520.8" stroke="#333" stroke-width="1"/>
<line x1="271.8" y1="520.8" x2="271.8" y2="523.8" stroke="#333" stroke-width="1"/>
<line x1="303.4" y1="520.8" x2="303.4" y2="523.8" stroke="#333" stroke-width="1"/>
<line x1="335.5" y1="520.8" x2="335.5" y2="523.8" stroke="#333" stroke-width="1"/>
<text x="271.3" y="533" font-size="7.6" text-anchor="middle" font-weight="normal" font-style="normal" fill="#222" stroke="#222" stroke-width="0.18">Naive</text>
<text x="303.5" y="533" font-size="7.6" text-anchor="middle" font-weight="normal" font-style="normal" fill="#222" stroke="#222" stroke-width="0.18">Alcohol</text>
<text x="336" y="533" font-size="7.6" text-anchor="middle" font-weight="normal" font-style="normal" fill="#222" stroke="#222" stroke-width="0.18">Alcohol</text>
<text x="336" y="541.5" font-size="7.6" text-anchor="middle" font-weight="normal" font-style="normal" fill="#222" stroke="#222" stroke-width="0.18">+ CBD</text>
<text x="229.5" y="467" font-size="8.8" text-anchor="middle" font-weight="normal" font-style="normal" fill="#222" stroke="#222" stroke-width="0.18" transform="rotate(-90 229.5 467)">RMP (mV)</text>
<circle cx="262" cy="447" r="3.2" fill="#fff" stroke="#1a1a1a" stroke-width="0.8"/>
<circle cx="272" cy="444.1" r="3.2" fill="#fff" stroke="#1a1a1a" stroke-width="0.8"/>
<circle cx="281.8" cy="448.6" r="3.2" fill="#fff" stroke="#1a1a1a" stroke-width="0.8"/>
<circle cx="262" cy="456.6" r="3.2" fill="#fff" stroke="#1a1a1a" stroke-width="0.8"/>
<circle cx="272" cy="453.4" r="3.2" fill="#fff" stroke="#1a1a1a" stroke-width="0.8"/>
<circle cx="281.8" cy="459" r="3.2" fill="#fff" stroke="#1a1a1a" stroke-width="0.8"/>
<circle cx="272" cy="462.1" r="3.2" fill="#fff" stroke="#1a1a1a" stroke-width="0.8"/>
<circle cx="281.8" cy="467.4" r="3.2" fill="#fff" stroke="#1a1a1a" stroke-width="0.8"/>
<circle cx="262" cy="470.1" r="3.2" fill="#fff" stroke="#1a1a1a" stroke-width="0.8"/>
<circle cx="299.5" cy="455.7" r="3.2" fill="#F2D57D" stroke="#1a1a1a" stroke-width="0.8"/>
<circle cx="307.8" cy="454.2" r="3.2" fill="#F2D57D" stroke="#1a1a1a" stroke-width="0.8"/>
<circle cx="293.7" cy="460.5" r="3.2" fill="#F2D57D" stroke="#1a1a1a" stroke-width="0.8"/>
<circle cx="304.9" cy="458.5" r="3.2" fill="#F2D57D" stroke="#1a1a1a" stroke-width="0.8"/>
<circle cx="299.5" cy="464.2" r="3.2" fill="#F2D57D" stroke="#1a1a1a" stroke-width="0.8"/>
<circle cx="307.5" cy="464.2" r="3.2" fill="#F2D57D" stroke="#1a1a1a" stroke-width="0.8"/>
<circle cx="313.4" cy="464.6" r="3.2" fill="#F2D57D" stroke="#1a1a1a" stroke-width="0.8"/>
<circle cx="293.7" cy="469" r="3.2" fill="#F2D57D" stroke="#1a1a1a" stroke-width="0.8"/>
<circle cx="304.9" cy="470.6" r="3.2" fill="#F2D57D" stroke="#1a1a1a" stroke-width="0.8"/>
<circle cx="310.7" cy="470.1" r="3.2" fill="#F2D57D" stroke="#1a1a1a" stroke-width="0.8"/>
<circle cx="302.2" cy="463.7" r="3.2" fill="#F2D57D" stroke="#1a1a1a" stroke-width="0.8"/>
<circle cx="329.2" cy="452.9" r="3.2" fill="#589B22" stroke="#1a1a1a" stroke-width="0.8"/>
<circle cx="333.2" cy="455.7" r="3.2" fill="#589B22" stroke="#1a1a1a" stroke-width="0.8"/>
<circle cx="337.5" cy="457.7" r="3.2" fill="#589B22" stroke="#1a1a1a" stroke-width="0.8"/>
<circle cx="341.9" cy="456.6" r="3.2" fill="#589B22" stroke="#1a1a1a" stroke-width="0.8"/>
<circle cx="325.5" cy="462.1" r="3.2" fill="#589B22" stroke="#1a1a1a" stroke-width="0.8"/>
<circle cx="329.2" cy="460.1" r="3.2" fill="#589B22" stroke="#1a1a1a" stroke-width="0.8"/>
<circle cx="333.2" cy="463" r="3.2" fill="#589B22" stroke="#1a1a1a" stroke-width="0.8"/>
<circle cx="337.5" cy="463.4" r="3.2" fill="#589B22" stroke="#1a1a1a" stroke-width="0.8"/>
<circle cx="341.5" cy="463.4" r="3.2" fill="#589B22" stroke="#1a1a1a" stroke-width="0.8"/>
<circle cx="345.6" cy="461.4" r="3.2" fill="#589B22" stroke="#1a1a1a" stroke-width="0.8"/>
<circle cx="329.2" cy="468.7" r="3.2" fill="#589B22" stroke="#1a1a1a" stroke-width="0.8"/>
<text x="411.5" y="238.9" font-size="12.5" text-anchor="start" font-weight="bold" font-style="normal" fill="#000">H</text>
<text x="548.3" y="238.7" font-size="11.6" text-anchor="middle" font-weight="normal" font-style="normal" fill="#111" stroke="#111" stroke-width="0.18">Input-Output Relationships</text>
<line x1="416.5" y1="255.2" x2="416.5" y2="363.4" stroke="#333" stroke-width="1"/>
<line x1="413.0" y1="255.2" x2="416.5" y2="255.2" stroke="#333" stroke-width="1"/>
<text x="411.5" y="258.175" font-size="8.5" text-anchor="end" font-weight="normal" font-style="normal" fill="#222" stroke="#222" stroke-width="0.18">40</text>
<line x1="413.0" y1="282.25" x2="416.5" y2="282.25" stroke="#333" stroke-width="1"/>
<text x="411.5" y="285.225" font-size="8.5" text-anchor="end" font-weight="normal" font-style="normal" fill="#222" stroke="#222" stroke-width="0.18">30</text>
<line x1="413.0" y1="309.29999999999995" x2="416.5" y2="309.29999999999995" stroke="#333" stroke-width="1"/>
<text x="411.5" y="312.275" font-size="8.5" text-anchor="end" font-weight="normal" font-style="normal" fill="#222" stroke="#222" stroke-width="0.18">20</text>
<line x1="413.0" y1="336.34999999999997" x2="416.5" y2="336.34999999999997" stroke="#333" stroke-width="1"/>
<text x="411.5" y="339.325" font-size="8.5" text-anchor="end" font-weight="normal" font-style="normal" fill="#222" stroke="#222" stroke-width="0.18">10</text>
<line x1="413.0" y1="363.4" x2="416.5" y2="363.4" stroke="#333" stroke-width="1"/>
<text x="411.5" y="366.375" font-size="8.5" text-anchor="end" font-weight="normal" font-style="normal" fill="#222" stroke="#222" stroke-width="0.18">0</text>
<line x1="416.5" y1="363.4" x2="685" y2="363.4" stroke="#333" stroke-width="1"/>
<rect x="484.26" y="359.88349999999997" width="9.2" height="3.5164999999999997" fill="#fff" stroke="#555" stroke-width="0.7"/>
<rect x="494.96" y="361.777" width="9.2" height="1.6229999999999998" fill="#F2D57D" stroke="#333" stroke-width="0.7"/>
<rect x="505.65999999999997" y="358.53099999999995" width="9.2" height="4.869" fill="#589B22" stroke="#333" stroke-width="0.7"/>
<rect x="517.9399999999999" y="348.5225" width="9.2" height="14.877499999999998" fill="#fff" stroke="#555" stroke-width="0.7"/>
<rect x="528.64" y="352.85049999999995" width="9.2" height="10.549499999999998" fill="#F2D57D" stroke="#333" stroke-width="0.7"/>
<rect x="539.34" y="347.9815" width="9.2" height="15.418499999999998" fill="#589B22" stroke="#333" stroke-width="0.7"/>
<line x1="522.54" y1="348.5225" x2="522.54" y2="345.2765" stroke="#333" stroke-width="0.8"/>
<line x1="520.04" y1="345.2765" x2="525.04" y2="345.2765" stroke="#333" stroke-width="0.8"/>
<line x1="533.24" y1="352.85049999999995" x2="533.24" y2="350.68649999999997" stroke="#333" stroke-width="0.8"/>
<line x1="530.74" y1="350.68649999999997" x2="535.74" y2="350.68649999999997" stroke="#333" stroke-width="0.8"/>
<line x1="543.94" y1="347.9815" x2="543.94" y2="344.7355" stroke="#333" stroke-width="0.8"/>
<line x1="541.44" y1="344.7355" x2="546.44" y2="344.7355" stroke="#333" stroke-width="0.8"/>
<rect x="551.6199999999999" y="343.11249999999995" width="9.2" height="20.287499999999998" fill="#fff" stroke="#555" stroke-width="0.7"/>
<rect x="562.3199999999999" y="352.039" width="9.2" height="11.360999999999999" fill="#F2D57D" stroke="#333" stroke-width="0.7"/>
<rect x="573.02" y="339.8665" width="9.2" height="23.533499999999997" fill="#589B22" stroke="#333" stroke-width="0.7"/>
<line x1="556.2199999999999" y1="343.11249999999995" x2="556.2199999999999" y2="339.8665" stroke="#333" stroke-width="0.8"/>
<line x1="553.7199999999999" y1="339.8665" x2="558.7199999999999" y2="339.8665" stroke="#333" stroke-width="0.8"/>
<line x1="566.92" y1="352.039" x2="566.92" y2="349.875" stroke="#333" stroke-width="0.8"/>
<line x1="564.42" y1="349.875" x2="569.42" y2="349.875" stroke="#333" stroke-width="0.8"/>
<line x1="577.62" y1="339.8665" x2="577.62" y2="336.6205" stroke="#333" stroke-width="0.8"/>
<line x1="575.12" y1="336.6205" x2="580.12" y2="336.6205" stroke="#333" stroke-width="0.8"/>
<rect x="585.3" y="332.022" width="9.2" height="31.377999999999993" fill="#fff" stroke="#555" stroke-width="0.7"/>
<rect x="596.0" y="344.7355" width="9.2" height="18.664499999999997" fill="#F2D57D" stroke="#333" stroke-width="0.7"/>
<rect x="606.7" y="328.77599999999995" width="9.2" height="34.623999999999995" fill="#589B22" stroke="#333" stroke-width="0.7"/>
<line x1="589.9" y1="332.022" x2="589.9" y2="328.77599999999995" stroke="#333" stroke-width="0.8"/>
<line x1="587.4" y1="328.77599999999995" x2="592.4" y2="328.77599999999995" stroke="#333" stroke-width="0.8"/>
<line x1="600.6" y1="344.7355" x2="600.6" y2="342.57149999999996" stroke="#333" stroke-width="0.8"/>
<line x1="598.1" y1="342.57149999999996" x2="603.1" y2="342.57149999999996" stroke="#333" stroke-width="0.8"/>
<line x1="611.3000000000001" y1="328.77599999999995" x2="611.3000000000001" y2="325.53" stroke="#333" stroke-width="0.8"/>
<line x1="608.8000000000001" y1="325.53" x2="613.8000000000001" y2="325.53" stroke="#333" stroke-width="0.8"/>
<rect x="618.9799999999999" y="323.63649999999996" width="9.2" height="39.76349999999999" fill="#fff" stroke="#555" stroke-width="0.7"/>
<rect x="629.68" y="343.11249999999995" width="9.2" height="20.287499999999998" fill="#F2D57D" stroke="#333" stroke-width="0.7"/>
<rect x="640.38" y="322.01349999999996" width="9.2" height="41.3865" fill="#589B22" stroke="#333" stroke-width="0.7"/>
<line x1="623.5799999999999" y1="323.63649999999996" x2="623.5799999999999" y2="320.3905" stroke="#333" stroke-width="0.8"/>
<line x1="621.0799999999999" y1="320.3905" x2="626.0799999999999" y2="320.3905" stroke="#333" stroke-width="0.8"/>
<line x1="634.28" y1="343.11249999999995" x2="634.28" y2="340.94849999999997" stroke="#333" stroke-width="0.8"/>
<line x1="631.78" y1="340.94849999999997" x2="636.78" y2="340.94849999999997" stroke="#333" stroke-width="0.8"/>
<line x1="644.98" y1="322.01349999999996" x2="644.98" y2="318.7675" stroke="#333" stroke-width="0.8"/>
<line x1="642.48" y1="318.7675" x2="647.48" y2="318.7675" stroke="#333" stroke-width="0.8"/>
<rect x="652.66" y="315.792" width="9.2" height="47.608" fill="#fff" stroke="#555" stroke-width="0.7"/>
<rect x="663.36" y="342.57149999999996" width="9.2" height="20.8285" fill="#F2D57D" stroke="#333" stroke-width="0.7"/>
<rect x="674.0600000000001" y="315.251" width="9.2" height="48.148999999999994" fill="#589B22" stroke="#333" stroke-width="0.7"/>
<line x1="657.26" y1="315.792" x2="657.26" y2="312.546" stroke="#333" stroke-width="0.8"/>
<line x1="654.76" y1="312.546" x2="659.76" y2="312.546" stroke="#333" stroke-width="0.8"/>
<line x1="667.96" y1="342.57149999999996" x2="667.96" y2="340.40749999999997" stroke="#333" stroke-width="0.8"/>
<line x1="665.46" y1="340.40749999999997" x2="670.46" y2="340.40749999999997" stroke="#333" stroke-width="0.8"/>
<line x1="678.6600000000001" y1="315.251" x2="678.6600000000001" y2="312.005" stroke="#333" stroke-width="0.8"/>
<line x1="676.1600000000001" y1="312.005" x2="681.1600000000001" y2="312.005" stroke="#333" stroke-width="0.8"/>
<circle cx="418.8" cy="363.4" r="2.05" fill="#fff" stroke="#1a1a1a" stroke-width="0.6"/>
<circle cx="424.2" cy="363.4" r="2.05" fill="#fff" stroke="#1a1a1a" stroke-width="0.6"/>
<circle cx="420.15" cy="363.4" r="2.05" fill="#fff" stroke="#1a1a1a" stroke-width="0.6"/>
<circle cx="422.85" cy="363.4" r="2.05" fill="#fff" stroke="#1a1a1a" stroke-width="0.6"/>
<circle cx="421.5" cy="363.4" r="2.05" fill="#fff" stroke="#1a1a1a" stroke-width="0.6"/>
<circle cx="429.5" cy="363.4" r="2.05" fill="#F2D57D" stroke="#1a1a1a" stroke-width="0.6"/>
<circle cx="434.9" cy="363.4" r="2.05" fill="#F2D57D" stroke="#1a1a1a" stroke-width="0.6"/>
<circle cx="430.84999999999997" cy="363.4" r="2.05" fill="#F2D57D" stroke="#1a1a1a" stroke-width="0.6"/>
<circle cx="433.55" cy="363.4" r="2.05" fill="#F2D57D" stroke="#1a1a1a" stroke-width="0.6"/>
<circle cx="432.2" cy="363.4" r="2.05" fill="#F2D57D" stroke="#1a1a1a" stroke-width="0.6"/>
<circle cx="440.2" cy="363.4" r="2.05" fill="#589B22" stroke="#1a1a1a" stroke-width="0.6"/>
<circle cx="445.59999999999997" cy="363.4" r="2.05" fill="#589B22" stroke="#1a1a1a" stroke-width="0.6"/>
<circle cx="441.54999999999995" cy="363.4" r="2.05" fill="#589B22" stroke="#1a1a1a" stroke-width="0.6"/>
<circle cx="444.25" cy="363.4" r="2.05" fill="#589B22" stroke="#1a1a1a" stroke-width="0.6"/>
<circle cx="442.9" cy="363.4" r="2.05" fill="#589B22" stroke="#1a1a1a" stroke-width="0.6"/>
<circle cx="452.48" cy="363.4" r="2.05" fill="#fff" stroke="#1a1a1a" stroke-width="0.6"/>
<circle cx="457.88" cy="363.4" r="2.05" fill="#fff" stroke="#1a1a1a" stroke-width="0.6"/>
<circle cx="453.83" cy="363.4" r="2.05" fill="#fff" stroke="#1a1a1a" stroke-width="0.6"/>
<circle cx="456.53000000000003" cy="363.4" r="2.05" fill="#fff" stroke="#1a1a1a" stroke-width="0.6"/>
<circle cx="455.18" cy="363.4" r="2.05" fill="#fff" stroke="#1a1a1a" stroke-width="0.6"/>
<circle cx="463.18" cy="363.4" r="2.05" fill="#F2D57D" stroke="#1a1a1a" stroke-width="0.6"/>
<circle cx="468.58" cy="363.4" r="2.05" fill="#F2D57D" stroke="#1a1a1a" stroke-width="0.6"/>
<circle cx="464.53" cy="363.4" r="2.05" fill="#F2D57D" stroke="#1a1a1a" stroke-width="0.6"/>
<circle cx="467.23" cy="363.4" r="2.05" fill="#F2D57D" stroke="#1a1a1a" stroke-width="0.6"/>
<circle cx="465.88" cy="363.4" r="2.05" fill="#F2D57D" stroke="#1a1a1a" stroke-width="0.6"/>
<circle cx="473.88" cy="363.4" r="2.05" fill="#589B22" stroke="#1a1a1a" stroke-width="0.6"/>
<circle cx="479.28" cy="363.4" r="2.05" fill="#589B22" stroke="#1a1a1a" stroke-width="0.6"/>
<circle cx="475.22999999999996" cy="363.4" r="2.05" fill="#589B22" stroke="#1a1a1a" stroke-width="0.6"/>
<circle cx="477.93" cy="363.4" r="2.05" fill="#589B22" stroke="#1a1a1a" stroke-width="0.6"/>
<circle cx="476.58" cy="363.4" r="2.05" fill="#589B22" stroke="#1a1a1a" stroke-width="0.6"/>
<circle cx="493.56" cy="363.4" r="2.05" fill="#fff" stroke="#1a1a1a" stroke-width="0.6"/>
<circle cx="484.16" cy="363.4" r="2.05" fill="#fff" stroke="#1a1a1a" stroke-width="0.6"/>
<circle cx="488.86" cy="363.4" r="2.05" fill="#fff" stroke="#1a1a1a" stroke-width="0.6"/>
<circle cx="484.96000000000004" cy="361.777" r="2.05" fill="#fff" stroke="#1a1a1a" stroke-width="0.6"/>
<circle cx="492.76" cy="361.777" r="2.05" fill="#fff" stroke="#1a1a1a" stroke-width="0.6"/>
<circle cx="488.86" cy="361.777" r="2.05" fill="#fff" stroke="#1a1a1a" stroke-width="0.6"/>
<circle cx="486.91" cy="359.072" r="2.05" fill="#fff" stroke="#1a1a1a" stroke-width="0.6"/>
<circle cx="490.81" cy="359.072" r="2.05" fill="#fff" stroke="#1a1a1a" stroke-width="0.6"/>
<circle cx="493.56" cy="356.0965" r="2.05" fill="#fff" stroke="#1a1a1a" stroke-width="0.6"/>
<circle cx="488.86" cy="349.875" r="2.05" fill="#fff" stroke="#1a1a1a" stroke-width="0.6"/>
<circle cx="504.26" cy="363.4" r="2.05" fill="#F2D57D" stroke="#1a1a1a" stroke-width="0.6"/>
<circle cx="494.86" cy="363.4" r="2.05" fill="#F2D57D" stroke="#1a1a1a" stroke-width="0.6"/>
<circle cx="501.91" cy="363.4" r="2.05" fill="#F2D57D" stroke="#1a1a1a" stroke-width="0.6"/>
<circle cx="497.21" cy="363.4" r="2.05" fill="#F2D57D" stroke="#1a1a1a" stroke-width="0.6"/>
<circle cx="499.56" cy="363.4" r="2.05" fill="#F2D57D" stroke="#1a1a1a" stroke-width="0.6"/>
<circle cx="499.56" cy="363.4" r="2.05" fill="#F2D57D" stroke="#1a1a1a" stroke-width="0.6"/>
<circle cx="499.56" cy="363.4" r="2.05" fill="#F2D57D" stroke="#1a1a1a" stroke-width="0.6"/>
<circle cx="497.61" cy="362.04749999999996" r="2.05" fill="#F2D57D" stroke="#1a1a1a" stroke-width="0.6"/>
<circle cx="501.51" cy="362.04749999999996" r="2.05" fill="#F2D57D" stroke="#1a1a1a" stroke-width="0.6"/>
<circle cx="499.56" cy="360.96549999999996" r="2.05" fill="#F2D57D" stroke="#1a1a1a" stroke-width="0.6"/>
<circle cx="514.96" cy="363.4" r="2.05" fill="#589B22" stroke="#1a1a1a" stroke-width="0.6"/>
<circle cx="510.26" cy="363.4" r="2.05" fill="#589B22" stroke="#1a1a1a" stroke-width="0.6"/>
<circle cx="512.21" cy="361.777" r="2.05" fill="#589B22" stroke="#1a1a1a" stroke-width="0.6"/>
<circle cx="508.31" cy="361.777" r="2.05" fill="#589B22" stroke="#1a1a1a" stroke-width="0.6"/>
<circle cx="512.21" cy="359.072" r="2.05" fill="#589B22" stroke="#1a1a1a" stroke-width="0.6"/>
<circle cx="508.31" cy="359.072" r="2.05" fill="#589B22" stroke="#1a1a1a" stroke-width="0.6"/>
<circle cx="510.26" cy="355.5555" r="2.05" fill="#589B22" stroke="#1a1a1a" stroke-width="0.6"/>
<circle cx="514.96" cy="352.85049999999995" r="2.05" fill="#589B22" stroke="#1a1a1a" stroke-width="0.6"/>
<circle cx="510.26" cy="350.416" r="2.05" fill="#589B22" stroke="#1a1a1a" stroke-width="0.6"/>
<circle cx="527.24" cy="363.4" r="2.05" fill="#fff" stroke="#1a1a1a" stroke-width="0.6"/>
<circle cx="522.54" cy="363.4" r="2.05" fill="#fff" stroke="#1a1a1a" stroke-width="0.6"/>
<circle cx="517.8399999999999" cy="360.96549999999996" r="2.05" fill="#fff" stroke="#1a1a1a" stroke-width="0.6"/>
<circle cx="522.54" cy="357.98999999999995" r="2.05" fill="#fff" stroke="#1a1a1a" stroke-width="0.6"/>
<circle cx="527.24" cy="355.5555" r="2.05" fill="#fff" stroke="#1a1a1a" stroke-width="0.6"/>
<circle cx="522.54" cy="352.85049999999995" r="2.05" fill="#fff" stroke="#1a1a1a" stroke-width="0.6"/>
<circle cx="522.54" cy="347.16999999999996" r="2.05" fill="#fff" stroke="#1a1a1a" stroke-width="0.6"/>
<circle cx="522.54" cy="342.03049999999996" r="2.05" fill="#fff" stroke="#1a1a1a" stroke-width="0.6"/>
<circle cx="520.5899999999999" cy="336.0795" r="2.05" fill="#fff" stroke="#1a1a1a" stroke-width="0.6"/>
<circle cx="524.49" cy="336.0795" r="2.05" fill="#fff" stroke="#1a1a1a" stroke-width="0.6"/>
<circle cx="537.94" cy="363.4" r="2.05" fill="#F2D57D" stroke="#1a1a1a" stroke-width="0.6"/>
<circle cx="528.54" cy="363.4" r="2.05" fill="#F2D57D" stroke="#1a1a1a" stroke-width="0.6"/>
<circle cx="533.24" cy="363.4" r="2.05" fill="#F2D57D" stroke="#1a1a1a" stroke-width="0.6"/>
<circle cx="535.59" cy="360.96549999999996" r="2.05" fill="#F2D57D" stroke="#1a1a1a" stroke-width="0.6"/>
<circle cx="530.89" cy="359.3425" r="2.05" fill="#F2D57D" stroke="#1a1a1a" stroke-width="0.6"/>
<circle cx="537.94" cy="357.98999999999995" r="2.05" fill="#F2D57D" stroke="#1a1a1a" stroke-width="0.6"/>
<circle cx="531.29" cy="355.5555" r="2.05" fill="#F2D57D" stroke="#1a1a1a" stroke-width="0.6"/>
<circle cx="535.19" cy="355.5555" r="2.05" fill="#F2D57D" stroke="#1a1a1a" stroke-width="0.6"/>
<circle cx="537.94" cy="352.85049999999995" r="2.05" fill="#F2D57D" stroke="#1a1a1a" stroke-width="0.6"/>
<circle cx="533.24" cy="347.16999999999996" r="2.05" fill="#F2D57D" stroke="#1a1a1a" stroke-width="0.6"/>
<circle cx="543.94" cy="363.4" r="2.05" fill="#589B22" stroke="#1a1a1a" stroke-width="0.6"/>
<circle cx="543.94" cy="359.3425" r="2.05" fill="#589B22" stroke="#1a1a1a" stroke-width="0.6"/>
<circle cx="543.94" cy="355.28499999999997" r="2.05" fill="#589B22" stroke="#1a1a1a" stroke-width="0.6"/>
<circle cx="541.99" cy="350.416" r="2.05" fill="#589B22" stroke="#1a1a1a" stroke-width="0.6"/>
<circle cx="545.8900000000001" cy="350.416" r="2.05" fill="#589B22" stroke="#1a1a1a" stroke-width="0.6"/>
<circle cx="543.94" cy="344.465" r="2.05" fill="#589B22" stroke="#1a1a1a" stroke-width="0.6"/>
<circle cx="548.6400000000001" cy="341.76" r="2.05" fill="#589B22" stroke="#1a1a1a" stroke-width="0.6"/>
<circle cx="541.99" cy="333.645" r="2.05" fill="#589B22" stroke="#1a1a1a" stroke-width="0.6"/>
<circle cx="545.8900000000001" cy="333.645" r="2.05" fill="#589B22" stroke="#1a1a1a" stroke-width="0.6"/>
<circle cx="556.2199999999999" cy="358.53099999999995" r="2.05" fill="#fff" stroke="#1a1a1a" stroke-width="0.6"/>
<circle cx="554.2699999999999" cy="355.28499999999997" r="2.05" fill="#fff" stroke="#1a1a1a" stroke-width="0.6"/>
<circle cx="558.17" cy="355.28499999999997" r="2.05" fill="#fff" stroke="#1a1a1a" stroke-width="0.6"/>
<circle cx="556.2199999999999" cy="347.4405" r="2.05" fill="#fff" stroke="#1a1a1a" stroke-width="0.6"/>
<circle cx="556.2199999999999" cy="342.03049999999996" r="2.05" fill="#fff" stroke="#1a1a1a" stroke-width="0.6"/>
<circle cx="558.5699999999999" cy="339.055" r="2.05" fill="#fff" stroke="#1a1a1a" stroke-width="0.6"/>
<circle cx="553.8699999999999" cy="336.89099999999996" r="2.05" fill="#fff" stroke="#1a1a1a" stroke-width="0.6"/>
<circle cx="556.2199999999999" cy="333.645" r="2.05" fill="#fff" stroke="#1a1a1a" stroke-width="0.6"/>
<circle cx="556.2199999999999" cy="329.858" r="2.05" fill="#fff" stroke="#1a1a1a" stroke-width="0.6"/>
<circle cx="556.2199999999999" cy="325.53" r="2.05" fill="#fff" stroke="#1a1a1a" stroke-width="0.6"/>
<circle cx="564.9699999999999" cy="361.50649999999996" r="2.05" fill="#F2D57D" stroke="#1a1a1a" stroke-width="0.6"/>
<circle cx="568.87" cy="361.50649999999996" r="2.05" fill="#F2D57D" stroke="#1a1a1a" stroke-width="0.6"/>
<circle cx="566.92" cy="358.2605" r="2.05" fill="#F2D57D" stroke="#1a1a1a" stroke-width="0.6"/>
<circle cx="564.9699999999999" cy="355.28499999999997" r="2.05" fill="#F2D57D" stroke="#1a1a1a" stroke-width="0.6"/>
<circle cx="568.87" cy="355.28499999999997" r="2.05" fill="#F2D57D" stroke="#1a1a1a" stroke-width="0.6"/>
<circle cx="571.62" cy="352.30949999999996" r="2.05" fill="#F2D57D" stroke="#1a1a1a" stroke-width="0.6"/>
<circle cx="566.92" cy="347.4405" r="2.05" fill="#F2D57D" stroke="#1a1a1a" stroke-width="0.6"/>
<circle cx="564.9699999999999" cy="344.465" r="2.05" fill="#F2D57D" stroke="#1a1a1a" stroke-width="0.6"/>
<circle cx="568.87" cy="344.465" r="2.05" fill="#F2D57D" stroke="#1a1a1a" stroke-width="0.6"/>
<circle cx="566.92" cy="339.3255" r="2.05" fill="#F2D57D" stroke="#1a1a1a" stroke-width="0.6"/>
<circle cx="577.62" cy="361.50649999999996" r="2.05" fill="#589B22" stroke="#1a1a1a" stroke-width="0.6"/>
<circle cx="579.97" cy="358.2605" r="2.05" fill="#589B22" stroke="#1a1a1a" stroke-width="0.6"/>
<circle cx="577.62" cy="344.465" r="2.05" fill="#589B22" stroke="#1a1a1a" stroke-width="0.6"/>
<circle cx="579.97" cy="341.219" r="2.05" fill="#589B22" stroke="#1a1a1a" stroke-width="0.6"/>
<circle cx="575.67" cy="336.6205" r="2.05" fill="#589B22" stroke="#1a1a1a" stroke-width="0.6"/>
<circle cx="579.57" cy="336.6205" r="2.05" fill="#589B22" stroke="#1a1a1a" stroke-width="0.6"/>
<circle cx="575.67" cy="328.235" r="2.05" fill="#589B22" stroke="#1a1a1a" stroke-width="0.6"/>
<circle cx="579.57" cy="328.235" r="2.05" fill="#589B22" stroke="#1a1a1a" stroke-width="0.6"/>
<circle cx="577.62" cy="322.825" r="2.05" fill="#589B22" stroke="#1a1a1a" stroke-width="0.6"/>
<circle cx="589.9" cy="357.7195" r="2.05" fill="#fff" stroke="#1a1a1a" stroke-width="0.6"/>
<circle cx="589.9" cy="353.121" r="2.05" fill="#fff" stroke="#1a1a1a" stroke-width="0.6"/>
<circle cx="594.6" cy="350.68649999999997" r="2.05" fill="#fff" stroke="#1a1a1a" stroke-width="0.6"/>
<circle cx="589.9" cy="333.645" r="2.05" fill="#fff" stroke="#1a1a1a" stroke-width="0.6"/>
<circle cx="589.9" cy="328.235" r="2.05" fill="#fff" stroke="#1a1a1a" stroke-width="0.6"/>
<circle cx="589.9" cy="320.12" r="2.05" fill="#fff" stroke="#1a1a1a" stroke-width="0.6"/>
<circle cx="587.9499999999999" cy="316.87399999999997" r="2.05" fill="#fff" stroke="#1a1a1a" stroke-width="0.6"/>
<circle cx="591.85" cy="316.87399999999997" r="2.05" fill="#fff" stroke="#1a1a1a" stroke-width="0.6"/>
<circle cx="594.6" cy="313.8985" r="2.05" fill="#fff" stroke="#1a1a1a" stroke-width="0.6"/>
<circle cx="589.9" cy="311.73449999999997" r="2.05" fill="#fff" stroke="#1a1a1a" stroke-width="0.6"/>
<circle cx="600.6" cy="358.2605" r="2.05" fill="#F2D57D" stroke="#1a1a1a" stroke-width="0.6"/>
<circle cx="598.65" cy="355.28499999999997" r="2.05" fill="#F2D57D" stroke="#1a1a1a" stroke-width="0.6"/>
<circle cx="602.5500000000001" cy="355.28499999999997" r="2.05" fill="#F2D57D" stroke="#1a1a1a" stroke-width="0.6"/>
<circle cx="605.3000000000001" cy="353.121" r="2.05" fill="#F2D57D" stroke="#1a1a1a" stroke-width="0.6"/>
<circle cx="600.6" cy="350.68649999999997" r="2.05" fill="#F2D57D" stroke="#1a1a1a" stroke-width="0.6"/>
<circle cx="602.95" cy="347.71099999999996" r="2.05" fill="#F2D57D" stroke="#1a1a1a" stroke-width="0.6"/>
<circle cx="600.6" cy="344.465" r="2.05" fill="#F2D57D" stroke="#1a1a1a" stroke-width="0.6"/>
<circle cx="600.6" cy="339.3255" r="2.05" fill="#F2D57D" stroke="#1a1a1a" stroke-width="0.6"/>
<circle cx="605.3000000000001" cy="336.6205" r="2.05" fill="#F2D57D" stroke="#1a1a1a" stroke-width="0.6"/>
<circle cx="600.6" cy="333.645" r="2.05" fill="#F2D57D" stroke="#1a1a1a" stroke-width="0.6"/>
<circle cx="611.3000000000001" cy="347.4405" r="2.05" fill="#589B22" stroke="#1a1a1a" stroke-width="0.6"/>
<circle cx="611.3000000000001" cy="339.055" r="2.05" fill="#589B22" stroke="#1a1a1a" stroke-width="0.6"/>
<circle cx="616.0000000000001" cy="336.34999999999997" r="2.05" fill="#589B22" stroke="#1a1a1a" stroke-width="0.6"/>
<circle cx="609.35" cy="331.21049999999997" r="2.05" fill="#589B22" stroke="#1a1a1a" stroke-width="0.6"/>
<circle cx="613.2500000000001" cy="331.21049999999997" r="2.05" fill="#589B22" stroke="#1a1a1a" stroke-width="0.6"/>
<circle cx="611.3000000000001" cy="326.07099999999997" r="2.05" fill="#589B22" stroke="#1a1a1a" stroke-width="0.6"/>
<circle cx="613.6500000000001" cy="323.09549999999996" r="2.05" fill="#589B22" stroke="#1a1a1a" stroke-width="0.6"/>
<circle cx="609.35" cy="314.71" r="2.05" fill="#589B22" stroke="#1a1a1a" stroke-width="0.6"/>
<circle cx="613.2500000000001" cy="314.71" r="2.05" fill="#589B22" stroke="#1a1a1a" stroke-width="0.6"/>
<circle cx="621.6299999999999" cy="352.58" r="2.05" fill="#fff" stroke="#1a1a1a" stroke-width="0.6"/>
<circle cx="625.53" cy="352.58" r="2.05" fill="#fff" stroke="#1a1a1a" stroke-width="0.6"/>
<circle cx="623.5799999999999" cy="348.5225" r="2.05" fill="#fff" stroke="#1a1a1a" stroke-width="0.6"/>
<circle cx="621.6299999999999" cy="342.57149999999996" r="2.05" fill="#fff" stroke="#1a1a1a" stroke-width="0.6"/>
<circle cx="625.53" cy="342.57149999999996" r="2.05" fill="#fff" stroke="#1a1a1a" stroke-width="0.6"/>
<circle cx="623.5799999999999" cy="318.2265" r="2.05" fill="#fff" stroke="#1a1a1a" stroke-width="0.6"/>
<circle cx="623.5799999999999" cy="309.29999999999995" r="2.05" fill="#fff" stroke="#1a1a1a" stroke-width="0.6"/>
<circle cx="623.5799999999999" cy="300.644" r="2.05" fill="#fff" stroke="#1a1a1a" stroke-width="0.6"/>
<circle cx="621.6299999999999" cy="295.234" r="2.05" fill="#fff" stroke="#1a1a1a" stroke-width="0.6"/>
<circle cx="625.53" cy="295.234" r="2.05" fill="#fff" stroke="#1a1a1a" stroke-width="0.6"/>
<circle cx="634.28" cy="357.98999999999995" r="2.05" fill="#F2D57D" stroke="#1a1a1a" stroke-width="0.6"/>
<circle cx="632.3299999999999" cy="355.5555" r="2.05" fill="#F2D57D" stroke="#1a1a1a" stroke-width="0.6"/>
<circle cx="636.23" cy="355.5555" r="2.05" fill="#F2D57D" stroke="#1a1a1a" stroke-width="0.6"/>
<circle cx="632.3299999999999" cy="349.875" r="2.05" fill="#F2D57D" stroke="#1a1a1a" stroke-width="0.6"/>
<circle cx="636.23" cy="349.875" r="2.05" fill="#F2D57D" stroke="#1a1a1a" stroke-width="0.6"/>
<circle cx="632.3299999999999" cy="343.383" r="2.05" fill="#F2D57D" stroke="#1a1a1a" stroke-width="0.6"/>
<circle cx="636.23" cy="343.383" r="2.05" fill="#F2D57D" stroke="#1a1a1a" stroke-width="0.6"/>
<circle cx="634.28" cy="336.89099999999996" r="2.05" fill="#F2D57D" stroke="#1a1a1a" stroke-width="0.6"/>
<circle cx="636.63" cy="333.3745" r="2.05" fill="#F2D57D" stroke="#1a1a1a" stroke-width="0.6"/>
<circle cx="634.28" cy="328.5055" r="2.05" fill="#F2D57D" stroke="#1a1a1a" stroke-width="0.6"/>
<circle cx="644.98" cy="339.3255" r="2.05" fill="#589B22" stroke="#1a1a1a" stroke-width="0.6"/>
<circle cx="641.08" cy="329.0465" r="2.05" fill="#589B22" stroke="#1a1a1a" stroke-width="0.6"/>
<circle cx="648.88" cy="329.0465" r="2.05" fill="#589B22" stroke="#1a1a1a" stroke-width="0.6"/>
<circle cx="644.98" cy="329.0465" r="2.05" fill="#589B22" stroke="#1a1a1a" stroke-width="0.6"/>
<circle cx="643.03" cy="324.1775" r="2.05" fill="#589B22" stroke="#1a1a1a" stroke-width="0.6"/>
<circle cx="646.9300000000001" cy="324.1775" r="2.05" fill="#589B22" stroke="#1a1a1a" stroke-width="0.6"/>
<circle cx="644.98" cy="314.43949999999995" r="2.05" fill="#589B22" stroke="#1a1a1a" stroke-width="0.6"/>
<circle cx="644.98" cy="306.3245" r="2.05" fill="#589B22" stroke="#1a1a1a" stroke-width="0.6"/>
<circle cx="644.98" cy="300.644" r="2.05" fill="#589B22" stroke="#1a1a1a" stroke-width="0.6"/>
<circle cx="657.26" cy="353.662" r="2.05" fill="#fff" stroke="#1a1a1a" stroke-width="0.6"/>
<circle cx="653.36" cy="347.16999999999996" r="2.05" fill="#fff" stroke="#1a1a1a" stroke-width="0.6"/>
<circle cx="661.16" cy="347.16999999999996" r="2.05" fill="#fff" stroke="#1a1a1a" stroke-width="0.6"/>
<circle cx="657.26" cy="347.16999999999996" r="2.05" fill="#fff" stroke="#1a1a1a" stroke-width="0.6"/>
<circle cx="657.26" cy="336.89099999999996" r="2.05" fill="#fff" stroke="#1a1a1a" stroke-width="0.6"/>
<circle cx="657.26" cy="309.29999999999995" r="2.05" fill="#fff" stroke="#1a1a1a" stroke-width="0.6"/>
<circle cx="657.26" cy="292.529" r="2.05" fill="#fff" stroke="#1a1a1a" stroke-width="0.6"/>
<circle cx="657.26" cy="286.3075" r="2.05" fill="#fff" stroke="#1a1a1a" stroke-width="0.6"/>
<circle cx="657.26" cy="281.4385" r="2.05" fill="#fff" stroke="#1a1a1a" stroke-width="0.6"/>
<circle cx="659.61" cy="277.92199999999997" r="2.05" fill="#fff" stroke="#1a1a1a" stroke-width="0.6"/>
<circle cx="667.96" cy="355.28499999999997" r="2.05" fill="#F2D57D" stroke="#1a1a1a" stroke-width="0.6"/>
<circle cx="672.6600000000001" cy="352.58" r="2.05" fill="#F2D57D" stroke="#1a1a1a" stroke-width="0.6"/>
<circle cx="666.01" cy="350.68649999999997" r="2.05" fill="#F2D57D" stroke="#1a1a1a" stroke-width="0.6"/>
<circle cx="669.9100000000001" cy="350.68649999999997" r="2.05" fill="#F2D57D" stroke="#1a1a1a" stroke-width="0.6"/>
<circle cx="666.01" cy="345.2765" r="2.05" fill="#F2D57D" stroke="#1a1a1a" stroke-width="0.6"/>
<circle cx="669.9100000000001" cy="345.2765" r="2.05" fill="#F2D57D" stroke="#1a1a1a" stroke-width="0.6"/>
<circle cx="667.96" cy="338.2435" r="2.05" fill="#F2D57D" stroke="#1a1a1a" stroke-width="0.6"/>
<circle cx="667.96" cy="333.645" r="2.05" fill="#F2D57D" stroke="#1a1a1a" stroke-width="0.6"/>
<circle cx="672.6600000000001" cy="330.94" r="2.05" fill="#F2D57D" stroke="#1a1a1a" stroke-width="0.6"/>
<circle cx="667.96" cy="324.989" r="2.05" fill="#F2D57D" stroke="#1a1a1a" stroke-width="0.6"/>
<circle cx="678.6600000000001" cy="333.3745" r="2.05" fill="#589B22" stroke="#1a1a1a" stroke-width="0.6"/>
<circle cx="676.71" cy="323.63649999999996" r="2.05" fill="#589B22" stroke="#1a1a1a" stroke-width="0.6"/>
<circle cx="680.6100000000001" cy="323.63649999999996" r="2.05" fill="#589B22" stroke="#1a1a1a" stroke-width="0.6"/>
<circle cx="678.6600000000001" cy="320.12" r="2.05" fill="#589B22" stroke="#1a1a1a" stroke-width="0.6"/>
<circle cx="676.71" cy="317.6855" r="2.05" fill="#589B22" stroke="#1a1a1a" stroke-width="0.6"/>
<circle cx="680.6100000000001" cy="317.6855" r="2.05" fill="#589B22" stroke="#1a1a1a" stroke-width="0.6"/>
<circle cx="678.6600000000001" cy="310.382" r="2.05" fill="#589B22" stroke="#1a1a1a" stroke-width="0.6"/>
<circle cx="678.6600000000001" cy="300.644" r="2.05" fill="#589B22" stroke="#1a1a1a" stroke-width="0.6"/>
<circle cx="678.6600000000001" cy="286.3075" r="2.05" fill="#589B22" stroke="#1a1a1a" stroke-width="0.6"/>
<line x1="432.2" y1="363.4" x2="432.2" y2="366.4" stroke="#333" stroke-width="1"/>
<text x="433.6" y="378.0" font-size="8.9" text-anchor="middle" font-weight="normal" font-style="normal" fill="#222" stroke="#222" stroke-width="0.18">0</text>
<line x1="465.88" y1="363.4" x2="465.88" y2="366.4" stroke="#333" stroke-width="1"/>
<text x="467.1" y="378.0" font-size="8.9" text-anchor="middle" font-weight="normal" font-style="normal" fill="#222" stroke="#222" stroke-width="0.18">25</text>
<line x1="499.56" y1="363.4" x2="499.56" y2="366.4" stroke="#333" stroke-width="1"/>
<text x="501.4" y="378.0" font-size="8.9" text-anchor="middle" font-weight="normal" font-style="normal" fill="#222" stroke="#222" stroke-width="0.18">50</text>
<line x1="533.24" y1="363.4" x2="533.24" y2="366.4" stroke="#333" stroke-width="1"/>
<text x="536.0" y="378.0" font-size="8.9" text-anchor="middle" font-weight="normal" font-style="normal" fill="#222" stroke="#222" stroke-width="0.18">100</text>
<line x1="566.92" y1="363.4" x2="566.92" y2="366.4" stroke="#333" stroke-width="1"/>
<text x="570.0" y="378.0" font-size="8.9" text-anchor="middle" font-weight="normal" font-style="normal" fill="#222" stroke="#222" stroke-width="0.18">125</text>
<line x1="600.6" y1="363.4" x2="600.6" y2="366.4" stroke="#333" stroke-width="1"/>
<text x="603.4" y="378.0" font-size="8.9" text-anchor="middle" font-weight="normal" font-style="normal" fill="#222" stroke="#222" stroke-width="0.18">150</text>
<line x1="634.28" y1="363.4" x2="634.28" y2="366.4" stroke="#333" stroke-width="1"/>
<text x="637.1" y="378.0" font-size="8.9" text-anchor="middle" font-weight="normal" font-style="normal" fill="#222" stroke="#222" stroke-width="0.18">175</text>
<line x1="667.96" y1="363.4" x2="667.96" y2="366.4" stroke="#333" stroke-width="1"/>
<text x="671.0" y="378.0" font-size="8.9" text-anchor="middle" font-weight="normal" font-style="normal" fill="#222" stroke="#222" stroke-width="0.18">200</text>
<text x="546.8" y="393.6" font-size="8.7" text-anchor="middle" font-weight="normal" font-style="normal" fill="#222" stroke="#222" stroke-width="0.18">Current Injection (pA)</text>
<text x="398.2" y="310.9" font-size="7.3" text-anchor="middle" font-weight="normal" font-style="normal" fill="#222" stroke="#222" stroke-width="0.18" transform="rotate(-90 398.2 310.9)">APs (#)</text>
<circle cx="425.4" cy="283.6" r="2.3" fill="#fff" stroke="#1a1a1a" stroke-width="0.7"/>
<circle cx="425.4" cy="295.4" r="2.3" fill="#F2D57D" stroke="#1a1a1a" stroke-width="0.7"/>
<circle cx="425.4" cy="307.6" r="2.3" fill="#589B22" stroke="#1a1a1a" stroke-width="0.7"/>
<text x="438.3" y="286.6" font-size="8.5" text-anchor="start" font-weight="normal" font-style="normal" fill="#222" stroke="#222" stroke-width="0.18">Naive&#160;&#160;(n=10)</text>
<text x="438.3" y="298.6" font-size="8.5" text-anchor="start" font-weight="normal" font-style="normal" fill="#222" stroke="#222" stroke-width="0.18">Alcohol&#160;&#160;(n=10)</text>
<text x="438.3" y="310.8" font-size="8.5" text-anchor="start" font-weight="normal" font-style="normal" fill="#222" stroke="#222" stroke-width="0.18">Alcohol+CBD&#160;&#160;(n=9)</text>
<line x1="557.1" y1="319.8" x2="566.3" y2="319.8" stroke="#333" stroke-width="1"/>
<path d="M561.70,315.90L561.70,311.50M559.79,314.80L563.61,312.60M559.79,312.60L563.61,314.80" stroke="#111" stroke-width="1.3" stroke-linecap="butt" fill="none"/>
<line x1="568.2" y1="314.4" x2="578.2" y2="314.4" stroke="#333" stroke-width="1"/>
<path d="M571.10,310.40L571.10,306.00M569.19,309.30L573.01,307.10M569.19,307.10L573.01,309.30" stroke="#111" stroke-width="1.3" stroke-linecap="butt" fill="none"/>
<path d="M575.30,310.40L575.30,306.00M573.39,309.30L577.21,307.10M573.39,307.10L577.21,309.30" stroke="#111" stroke-width="1.3" stroke-linecap="butt" fill="none"/>
<line x1="591.2" y1="308.2" x2="600.7" y2="308.2" stroke="#333" stroke-width="1"/>
<path d="M595.95,304.30L595.95,299.90M594.04,303.20L597.86,301.00M594.04,301.00L597.86,303.20" stroke="#111" stroke-width="1.3" stroke-linecap="butt" fill="none"/>
<line x1="603.7" y1="303.5" x2="612.8" y2="303.5" stroke="#333" stroke-width="1"/>
<path d="M606.15,299.50L606.15,295.10M604.24,298.40L608.06,296.20M604.24,296.20L608.06,298.40" stroke="#111" stroke-width="1.3" stroke-linecap="butt" fill="none"/>
<path d="M610.35,299.50L610.35,295.10M608.44,298.40L612.26,296.20M608.44,296.20L612.26,298.40" stroke="#111" stroke-width="1.3" stroke-linecap="butt" fill="none"/>
<line x1="624.0" y1="291.0" x2="633.0" y2="291.0" stroke="#333" stroke-width="1"/>
<path d="M628.50,287.10L628.50,282.70M626.59,286.00L630.41,283.80M626.59,283.80L630.41,286.00" stroke="#111" stroke-width="1.3" stroke-linecap="butt" fill="none"/>
<line x1="635.2" y1="283.8" x2="644.8" y2="283.8" stroke="#333" stroke-width="1"/>
<path d="M637.90,279.80L637.90,275.40M635.99,278.70L639.81,276.50M635.99,276.50L639.81,278.70" stroke="#111" stroke-width="1.3" stroke-linecap="butt" fill="none"/>
<path d="M642.10,279.80L642.10,275.40M640.19,278.70L644.01,276.50M640.19,276.50L644.01,278.70" stroke="#111" stroke-width="1.3" stroke-linecap="butt" fill="none"/>
<line x1="657.5" y1="273.0" x2="666.6" y2="273.0" stroke="#333" stroke-width="1"/>
<path d="M662.05,269.10L662.05,264.70M660.14,268.00L663.96,265.80M660.14,265.80L663.96,268.00" stroke="#111" stroke-width="1.3" stroke-linecap="butt" fill="none"/>
<line x1="669.5" y1="265.9" x2="679.0" y2="265.9" stroke="#333" stroke-width="1"/>
<path d="M672.15,261.90L672.15,257.50M670.24,260.80L674.06,258.60M670.24,258.60L674.06,260.80" stroke="#111" stroke-width="1.3" stroke-linecap="butt" fill="none"/>
<path d="M676.35,261.90L676.35,257.50M674.44,260.80L678.26,258.60M674.44,258.60L678.26,260.80" stroke="#111" stroke-width="1.3" stroke-linecap="butt" fill="none"/>
<text x="411.7" y="401.7" font-size="12.5" text-anchor="start" font-weight="bold" font-style="normal" fill="#000">I</text>
<polyline points="432.00,490.40 434.00,490.15 435.60,489.91 437.20,490.61 438.80,489.80 440.40,490.45 442.00,490.21 443.60,489.78 445.20,490.41 446.80,489.75 448.40,490.31 450.00,489.80 451.60,489.83 453.20,490.29 454.80,490.86 456.40,489.87 458.00,490.01 459.60,490.58 461.20,491.03 462.80,490.51 464.40,490.26 466.00,491.07 467.60,489.77 469.20,490.90 470.80,490.11 472.40,489.90 474.00,489.86 475.60,490.13 477.20,490.84 478.80,489.95 480.40,490.51 482.00,490.59 483.60,490.22 485.20,490.47 485.50,490.40 489.70,490.40 490.70,488.90 491.20,491.60 492.70,490.40" fill="none" stroke="#505050" stroke-width="0.75"/>
<polyline points="433.50,490.40 434.10,495.40 435.10,500.70 436.00,500.21 437.60,500.21 439.20,500.47 440.80,501.32 442.40,500.87 444.00,500.67 445.60,501.15 447.20,500.92 448.80,500.64 450.40,501.53 452.00,501.36 453.60,500.54 455.20,501.13 456.80,501.05 458.40,501.68 460.00,501.41 461.60,500.62 463.20,501.86 464.80,500.31 466.40,500.85 468.00,501.46 469.60,500.37 471.20,500.98 472.80,500.17 474.40,501.30 476.00,501.48 477.60,501.13 479.20,501.68 480.80,500.66 482.40,501.35 484.00,501.17 485.50,501.00 485.80,498.00 486.20,490.40" fill="none" stroke="#505050" stroke-width="0.75"/>
<polyline points="433.50,490.40 434.30,484.40 435.50,477.70 435.60,476.50 436.30,474.20 436.45,415.60 436.60,417.60 436.70,474.20 437.70,476.40 439.50,477.50 445.90,476.50 446.60,474.20 446.75,415.60 446.90,417.60 447.00,474.20 448.00,476.40 449.80,477.50 455.30,476.50 456.00,474.20 456.15,415.60 456.30,417.60 456.40,474.20 457.40,476.40 459.20,477.50 467.50,476.50 468.20,474.20 468.35,415.60 468.50,417.60 468.60,474.20 469.60,476.40 471.40,477.50 480.50,476.50 481.20,474.20 481.35,415.60 481.50,417.60 481.60,474.20 482.60,476.40 484.40,477.50 485.50,477.00 485.80,480.20 486.20,490.40" fill="none" stroke="#505050" stroke-width="0.75"/>
<line x1="433.0" y1="513.4" x2="485.5" y2="513.4" stroke="#8a8a8a" stroke-width="0.7"/>
<line x1="432" y1="515.5" x2="492.7" y2="515.5" stroke="#6a6a6a" stroke-width="0.75"/>
<line x1="433.0" y1="517.5" x2="485.5" y2="517.5" stroke="#505050" stroke-width="0.85"/>
<line x1="433.0" y1="513.1" x2="433.0" y2="517.8" stroke="#777" stroke-width="0.6"/>
<line x1="485.5" y1="513.1" x2="485.5" y2="517.8" stroke="#777" stroke-width="0.6"/>
<polyline points="506.50,489.70 507.70,489.81 509.30,489.64 510.90,490.18 512.50,490.32 514.10,489.66 515.70,489.93 517.30,489.08 518.90,489.98 520.50,489.91 522.10,490.39 523.70,490.15 525.30,489.40 526.90,489.54 528.50,489.94 530.10,489.03 531.70,489.65 533.30,489.24 534.90,489.16 536.50,489.08 538.10,490.08 539.70,489.18 541.30,489.35 542.90,489.55 544.50,490.22 546.10,489.11 547.70,489.63 549.30,489.77 550.90,490.24 552.50,490.15 554.10,490.21 555.70,489.39 557.30,489.58 558.90,489.50 560.50,490.24 560.80,489.70 563.90,489.70 564.90,488.20 565.40,490.90 566.90,489.70" fill="none" stroke="#505050" stroke-width="0.75"/>
<polyline points="507.20,489.70 507.80,494.70 508.80,500.90 509.70,502.02 511.30,500.57 512.90,500.62 514.50,500.72 516.10,500.72 517.70,501.17 519.30,501.36 520.90,500.77 522.50,500.31 524.10,501.05 525.70,500.96 527.30,501.32 528.90,502.02 530.50,501.54 532.10,501.23 533.70,501.41 535.30,501.52 536.90,500.40 538.50,501.92 540.10,501.70 541.70,501.87 543.30,501.74 544.90,501.01 546.50,501.02 548.10,500.49 549.70,501.44 551.30,500.41 552.90,500.42 554.50,500.68 556.10,500.59 557.70,500.91 559.30,500.39 560.80,501.20 561.10,498.20 561.50,489.70" fill="none" stroke="#505050" stroke-width="0.75"/>
<polyline points="507.20,489.70 508.00,483.70 509.20,479.00 509.60,477.80 510.30,475.50 510.45,418.30 510.60,420.30 510.70,475.50 511.70,477.70 513.50,478.80 515.60,477.80 516.30,475.50 516.45,418.30 516.60,420.30 516.70,475.50 517.70,477.70 519.50,478.80 537.20,477.80 537.90,475.50 538.05,418.30 538.20,420.30 538.30,475.50 539.30,477.70 541.10,478.80 542.60,477.90 544.60,478.02 546.60,477.98 548.60,478.19 550.60,477.92 552.60,478.60 554.60,478.39 556.60,478.02 558.60,478.10 560.60,478.18 560.80,478.30 561.10,481.50 561.50,489.70" fill="none" stroke="#505050" stroke-width="0.75"/>
<line x1="506.7" y1="513.4" x2="560.8" y2="513.4" stroke="#8a8a8a" stroke-width="0.7"/>
<line x1="506.5" y1="515.5" x2="566.9" y2="515.5" stroke="#6a6a6a" stroke-width="0.75"/>
<line x1="506.7" y1="517.5" x2="560.8" y2="517.5" stroke="#505050" stroke-width="0.85"/>
<line x1="506.7" y1="513.1" x2="506.7" y2="517.8" stroke="#777" stroke-width="0.6"/>
<line x1="560.8" y1="513.1" x2="560.8" y2="517.8" stroke="#777" stroke-width="0.6"/>
<polyline points="580.90,490.00 582.30,489.81 583.90,489.47 585.50,490.49 587.10,490.69 588.70,489.95 590.30,489.98 591.90,489.42 593.50,489.44 595.10,489.78 596.70,489.67 598.30,490.46 599.90,489.53 601.50,489.33 603.10,490.63 604.70,490.04 606.30,489.51 607.90,490.06 609.50,489.34 611.10,490.04 612.70,490.67 614.30,490.51 615.90,490.27 617.50,489.67 619.10,489.81 620.70,489.53 622.30,490.38 623.90,490.05 625.50,490.39 627.10,489.76 628.70,489.61 630.30,490.44 631.90,490.68 633.50,490.49 634.80,490.00 637.70,490.00 638.70,488.50 639.20,491.20 640.70,490.00" fill="none" stroke="#505050" stroke-width="0.75"/>
<polyline points="581.80,490.00 582.40,495.00 583.40,502.20 584.30,503.05 585.90,503.07 587.50,502.93 589.10,502.01 590.70,502.53 592.30,502.24 593.90,501.65 595.50,501.65 597.10,502.10 598.70,502.07 600.30,502.85 601.90,503.32 603.50,502.41 605.10,503.29 606.70,503.38 608.30,503.32 609.90,502.26 611.50,502.00 613.10,502.01 614.70,501.95 616.30,501.97 617.90,502.72 619.50,503.22 621.10,503.11 622.70,502.46 624.30,502.78 625.90,503.04 627.50,501.75 629.10,502.79 630.70,503.24 632.30,503.01 633.90,502.95 634.80,502.50 635.10,499.50 635.50,490.00" fill="none" stroke="#505050" stroke-width="0.75"/>
<polyline points="581.80,490.00 582.60,484.00 583.80,478.70 583.70,477.50 584.40,475.20 584.55,416.50 584.70,418.50 584.80,475.20 585.80,477.40 587.60,478.50 585.00,477.50 585.70,475.20 585.85,416.50 586.00,418.50 586.10,475.20 587.10,477.40 588.90,478.50 591.30,477.50 592.00,475.20 592.15,416.50 592.30,418.50 592.40,475.20 593.40,477.40 595.20,478.50 598.40,477.50 599.10,475.20 599.25,416.50 599.40,418.50 599.50,475.20 600.50,477.40 602.30,478.50 606.50,477.50 607.20,475.20 607.35,416.50 607.50,418.50 607.60,475.20 608.60,477.40 610.40,478.50 614.30,477.50 615.00,475.20 615.15,416.50 615.30,418.50 615.40,475.20 616.40,477.40 618.20,478.50 624.60,477.50 625.30,475.20 625.45,416.50 625.60,418.50 625.70,475.20 626.70,477.40 628.50,478.50 630.00,477.98 632.00,477.74 634.00,478.23 634.80,478.00 635.10,481.20 635.50,490.00" fill="none" stroke="#505050" stroke-width="0.75"/>
<line x1="581.3" y1="513.4" x2="634.8" y2="513.4" stroke="#8a8a8a" stroke-width="0.7"/>
<line x1="580.9" y1="515.5" x2="640.7" y2="515.5" stroke="#6a6a6a" stroke-width="0.75"/>
<line x1="581.3" y1="517.5" x2="634.8" y2="517.5" stroke="#505050" stroke-width="0.85"/>
<line x1="581.3" y1="513.1" x2="581.3" y2="517.8" stroke="#777" stroke-width="0.6"/>
<line x1="634.8" y1="513.1" x2="634.8" y2="517.8" stroke="#777" stroke-width="0.6"/>
<line x1="644.6" y1="496.5" x2="644.6" y2="503.1" stroke="#444" stroke-width="0.8"/>
<line x1="640" y1="503.1" x2="644.6" y2="503.1" stroke="#444" stroke-width="0.8"/>
<line x1="645.3" y1="513.9" x2="645.3" y2="517.3" stroke="#444" stroke-width="0.8"/>
<text x="648.6" y="494.6" font-size="5.7" text-anchor="middle" font-weight="normal" font-style="normal" fill="#333" stroke="#333" stroke-width="0.18" transform="rotate(90 648.6 494.6)">10 mV</text>
<text x="641" y="509.7" font-size="5.4" text-anchor="middle" font-weight="normal" font-style="normal" fill="#333" stroke="#333" stroke-width="0.18">100 mS</text>
<text x="650.4" y="515.6" font-size="5.4" text-anchor="middle" font-weight="normal" font-style="normal" fill="#333" stroke="#333" stroke-width="0.18" transform="rotate(90 650.4 515.6)">pA</text>
<text x="656.3" y="515.6" font-size="5.4" text-anchor="middle" font-weight="normal" font-style="normal" fill="#333" stroke="#333" stroke-width="0.18" transform="rotate(90 656.3 515.6)">200</text>
<text x="458.2" y="539" font-size="12" text-anchor="middle" font-weight="bold" font-style="normal" fill="#111">Na&#239;ve</text>
<text x="534.1" y="539" font-size="12" text-anchor="middle" font-weight="bold" font-style="normal" fill="#E8C23A">Alcohol</text>
<text x="623.8" y="539" font-size="12" text-anchor="middle" font-weight="bold" font-style="normal" fill="#5A9530">Alcohol+CBD</text>
</svg>
</body></html>
